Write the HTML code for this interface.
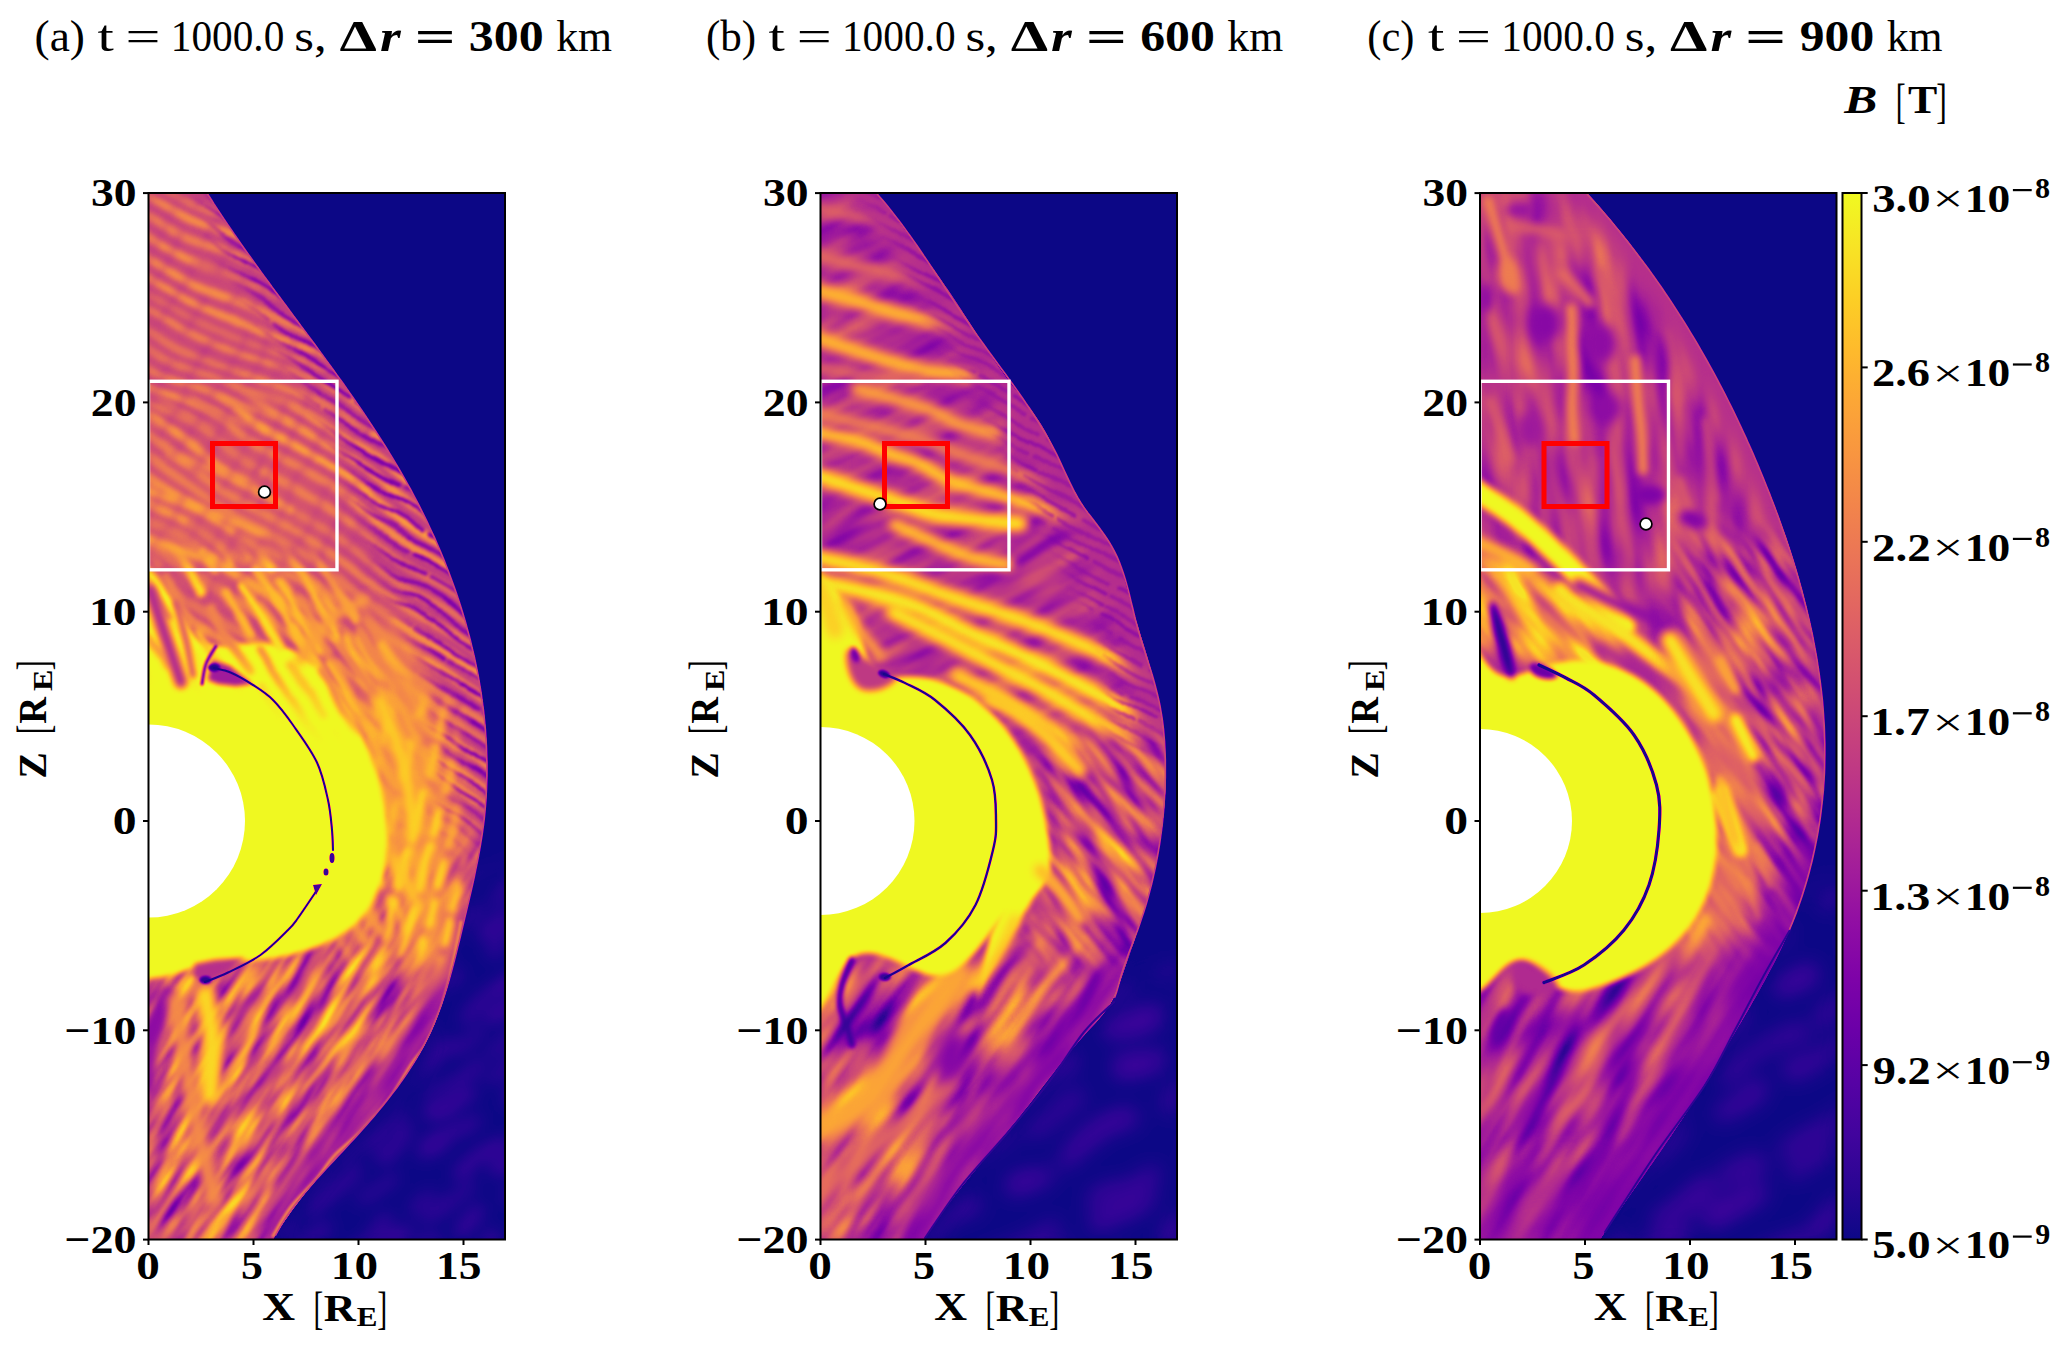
<!DOCTYPE html><html><head><meta charset="utf-8"><style>html,body{margin:0;padding:0;background:#fff;overflow:hidden}svg{display:block}text{font-family:"Liberation Serif",serif;fill:#000}</style></head><body>
<svg width="2067" height="1348" viewBox="0 0 2067 1348">
<defs>
<filter id="plasma" filterUnits="userSpaceOnUse" x="0" y="0" width="2067" height="1348" color-interpolation-filters="sRGB"><feComponentTransfer><feFuncR type="table" tableValues="0.050 0.164 0.255 0.338 0.418 0.495 0.563 0.631 0.693 0.748 0.798 0.840 0.881 0.918 0.949 0.973 0.988 0.995 0.989 0.968 0.940"/><feFuncG type="table" tableValues="0.030 0.020 0.014 0.006 0.001 0.012 0.052 0.108 0.165 0.223 0.280 0.334 0.393 0.454 0.518 0.586 0.652 0.729 0.810 0.895 0.975"/><feFuncB type="table" tableValues="0.528 0.577 0.615 0.643 0.658 0.658 0.642 0.608 0.565 0.517 0.470 0.427 0.383 0.340 0.296 0.252 0.211 0.172 0.145 0.147 0.131"/></feComponentTransfer></filter>
<filter id="wa0" filterUnits="userSpaceOnUse" x="0" y="0" width="2067" height="1348" color-interpolation-filters="sRGB"><feTurbulence type="fractalNoise" baseFrequency="0.02" numOctaves="2" seed="9" result="n"/><feDisplacementMap in="SourceGraphic" in2="n" scale="30" xChannelSelector="R" yChannelSelector="G"/><feGaussianBlur stdDeviation="8"/></filter>
<mask id="ra0" maskUnits="userSpaceOnUse" x="0" y="0" width="2067" height="1348"><path d="M470,880 520,860 520,1250 270,1250 330,1170 420,1080Z" fill="#fff" filter="url(#b10)"/></mask>
<filter id="wa7" filterUnits="userSpaceOnUse" x="0" y="0" width="2067" height="1348" color-interpolation-filters="sRGB"><feTurbulence type="fractalNoise" baseFrequency="0.008" numOctaves="2" seed="4" result="n"/><feDisplacementMap in="SourceGraphic" in2="n" scale="26" xChannelSelector="R" yChannelSelector="G"/><feGaussianBlur stdDeviation="2.6"/></filter>
<mask id="ra7" maskUnits="userSpaceOnUse" x="0" y="0" width="2067" height="1348"><path d="M140,185 510,185 510,420 140,420Z" fill="#fff" filter="url(#b14)"/></mask>
<filter id="wa8" filterUnits="userSpaceOnUse" x="0" y="0" width="2067" height="1348" color-interpolation-filters="sRGB"><feTurbulence type="fractalNoise" baseFrequency="0.008" numOctaves="2" seed="14" result="n"/><feDisplacementMap in="SourceGraphic" in2="n" scale="24" xChannelSelector="R" yChannelSelector="G"/><feGaussianBlur stdDeviation="2.6"/></filter>
<mask id="ra8" maskUnits="userSpaceOnUse" x="0" y="0" width="2067" height="1348"><path d="M140,400 510,400 510,835 140,835Z" fill="#fff" filter="url(#b14)"/></mask>
<filter id="wa13" filterUnits="userSpaceOnUse" x="0" y="0" width="2067" height="1348" color-interpolation-filters="sRGB"><feTurbulence type="fractalNoise" baseFrequency="0.015" numOctaves="2" seed="8" result="n"/><feDisplacementMap in="SourceGraphic" in2="n" scale="16" xChannelSelector="R" yChannelSelector="G"/><feGaussianBlur stdDeviation="1.4"/></filter>
<mask id="ra13" maskUnits="userSpaceOnUse" x="0" y="0" width="2067" height="1348"><path d="M200,185 510,185 510,930 440,930 430,700 330,420 230,260Z" fill="#fff" filter="url(#b10)"/></mask>
<filter id="wa14" filterUnits="userSpaceOnUse" x="0" y="0" width="2067" height="1348" color-interpolation-filters="sRGB"><feTurbulence type="fractalNoise" baseFrequency="0.015" numOctaves="2" seed="5" result="n"/><feDisplacementMap in="SourceGraphic" in2="n" scale="20" xChannelSelector="R" yChannelSelector="G"/><feGaussianBlur stdDeviation="3"/></filter>
<mask id="ra14" maskUnits="userSpaceOnUse" x="0" y="0" width="2067" height="1348"><path d="M140,185 380,185 380,640 140,640Z" fill="#fff" filter="url(#b25)"/></mask>
<filter id="na15" color-interpolation-filters="sRGB"><feTurbulence type="fractalNoise" baseFrequency="0.07 0.016" numOctaves="2" seed="3"/><feColorMatrix type="matrix" values="1.1 0 0 0 0.03 1.1 0 0 0 0.03 1.1 0 0 0 0.03 0 0 0 0 1"/></filter>
<mask id="ra15" maskUnits="userSpaceOnUse" x="0" y="0" width="2067" height="1348"><path d="M140,840 510,840 510,1250 140,1250Z" fill="#fff" filter="url(#b16)"/></mask>
<filter id="wa17" filterUnits="userSpaceOnUse" x="0" y="0" width="2067" height="1348" color-interpolation-filters="sRGB"><feTurbulence type="fractalNoise" baseFrequency="0.02" numOctaves="2" seed="11" result="n"/><feDisplacementMap in="SourceGraphic" in2="n" scale="16" xChannelSelector="R" yChannelSelector="G"/><feGaussianBlur stdDeviation="3"/></filter>
<mask id="ra17" maskUnits="userSpaceOnUse" x="0" y="0" width="2067" height="1348"><path d="M220,600 330,590 420,680 440,800 430,900 380,960 330,960 360,880 370,780 330,700 250,660Z" fill="#fff" filter="url(#b10)"/></mask>
<filter id="wa19" filterUnits="userSpaceOnUse" x="0" y="0" width="2067" height="1348" color-interpolation-filters="sRGB"><feTurbulence type="fractalNoise" baseFrequency="0.02" numOctaves="2" seed="62" result="n"/><feDisplacementMap in="SourceGraphic" in2="n" scale="10" xChannelSelector="R" yChannelSelector="G"/><feGaussianBlur stdDeviation="3"/></filter>
<mask id="ra19" maskUnits="userSpaceOnUse" x="0" y="0" width="2067" height="1348"><path d="M370,690 450,700 470,960 380,960Z" fill="#fff" filter="url(#b10)"/></mask>
<filter id="wa21" filterUnits="userSpaceOnUse" x="0" y="0" width="2067" height="1348" color-interpolation-filters="sRGB"><feTurbulence type="fractalNoise" baseFrequency="0.015" numOctaves="2" seed="52" result="n"/><feDisplacementMap in="SourceGraphic" in2="n" scale="14" xChannelSelector="R" yChannelSelector="G"/><feGaussianBlur stdDeviation="2.8"/></filter>
<mask id="ra21" maskUnits="userSpaceOnUse" x="0" y="0" width="2067" height="1348"><path d="M140,560 320,560 400,650 420,740 330,720 250,670 140,660Z" fill="#fff" filter="url(#b14)"/></mask>
<filter id="wb0" filterUnits="userSpaceOnUse" x="0" y="0" width="2067" height="1348" color-interpolation-filters="sRGB"><feTurbulence type="fractalNoise" baseFrequency="0.015" numOctaves="2" seed="19" result="n"/><feDisplacementMap in="SourceGraphic" in2="n" scale="30" xChannelSelector="R" yChannelSelector="G"/><feGaussianBlur stdDeviation="10"/></filter>
<mask id="rb0" maskUnits="userSpaceOnUse" x="0" y="0" width="2067" height="1348"><path d="M1120,980 1180,960 1180,1250 920,1250 1000,1140Z" fill="#fff" filter="url(#b12)"/></mask>
<filter id="nb2" color-interpolation-filters="sRGB"><feTurbulence type="fractalNoise" baseFrequency="0.012 0.05" numOctaves="2" seed="77"/><feColorMatrix type="matrix" values="0.5 0 0 0 0.15 0.5 0 0 0 0.15 0.5 0 0 0 0.15 0 0 0 0 1"/></filter>
<mask id="rb2" maskUnits="userSpaceOnUse" x="0" y="0" width="2067" height="1348"><path d="M812,185 1180,185 1180,980 812,980Z" fill="#fff" filter="url(#b20)"/></mask>
<filter id="wb18" filterUnits="userSpaceOnUse" x="0" y="0" width="2067" height="1348" color-interpolation-filters="sRGB"><feTurbulence type="fractalNoise" baseFrequency="0.02" numOctaves="2" seed="7" result="n"/><feDisplacementMap in="SourceGraphic" in2="n" scale="10" xChannelSelector="R" yChannelSelector="G"/><feGaussianBlur stdDeviation="1.2"/></filter>
<mask id="rb18" maskUnits="userSpaceOnUse" x="0" y="0" width="2067" height="1348"><path d="M860,185 1180,185 1180,1000 1090,1000 1120,820 1110,650 1000,430 900,250Z" fill="#fff" filter="url(#b8)"/></mask>
<filter id="nb19" color-interpolation-filters="sRGB"><feTurbulence type="fractalNoise" baseFrequency="0.06 0.015" numOctaves="2" seed="31"/><feColorMatrix type="matrix" values="1.175 0 0 0 -0.0725 1.175 0 0 0 -0.0725 1.175 0 0 0 -0.0725 0 0 0 0 1"/></filter>
<mask id="rb19" maskUnits="userSpaceOnUse" x="0" y="0" width="2067" height="1348"><path d="M1030,740 1180,740 1180,1000 1030,1000Z" fill="#fff" filter="url(#b15)"/></mask>
<filter id="nb20" color-interpolation-filters="sRGB"><feTurbulence type="fractalNoise" baseFrequency="0.045 0.012" numOctaves="2" seed="32"/><feColorMatrix type="matrix" values="1.375 0 0 0 -0.1625 1.375 0 0 0 -0.1625 1.375 0 0 0 -0.1625 0 0 0 0 1"/></filter>
<mask id="rb20" maskUnits="userSpaceOnUse" x="0" y="0" width="2067" height="1348"><path d="M812,960 1180,960 1180,1250 812,1250Z" fill="#fff" filter="url(#b18)"/></mask>
<filter id="wc0" filterUnits="userSpaceOnUse" x="0" y="0" width="2067" height="1348" color-interpolation-filters="sRGB"><feTurbulence type="fractalNoise" baseFrequency="0.012" numOctaves="2" seed="49" result="n"/><feDisplacementMap in="SourceGraphic" in2="n" scale="30" xChannelSelector="R" yChannelSelector="G"/><feGaussianBlur stdDeviation="10"/></filter>
<mask id="rc0" maskUnits="userSpaceOnUse" x="0" y="0" width="2067" height="1348"><path d="M1800,900 1840,880 1840,1250 1600,1250 1700,1080Z" fill="#fff" filter="url(#b12)"/></mask>
<filter id="nc4" color-interpolation-filters="sRGB"><feTurbulence type="fractalNoise" baseFrequency="0.035 0.01" numOctaves="2" seed="5"/><feColorMatrix type="matrix" values="0.65 0 0 0 0.105 0.65 0 0 0 0.105 0.65 0 0 0 0.105 0 0 0 0 1"/></filter>
<mask id="rc4" maskUnits="userSpaceOnUse" x="0" y="0" width="2067" height="1348"><path d="M1472,185 1840,185 1840,640 1472,640Z" fill="#fff" filter="url(#b20)"/></mask>
<filter id="nc26" color-interpolation-filters="sRGB"><feTurbulence type="fractalNoise" baseFrequency="0.05 0.015" numOctaves="2" seed="91"/><feColorMatrix type="matrix" values="1.075 0 0 0 0.2275 1.075 0 0 0 0.2275 1.075 0 0 0 0.2275 0 0 0 0 1"/></filter>
<mask id="rc26" maskUnits="userSpaceOnUse" x="0" y="0" width="2067" height="1348"><path d="M1472,560 1520,560 1560,590 1600,620 1620,660 1600,680 1550,665 1500,650 1472,640Z" fill="#fff" filter="url(#b8)"/></mask>
<filter id="nc34" color-interpolation-filters="sRGB"><feTurbulence type="fractalNoise" baseFrequency="0.06 0.015" numOctaves="2" seed="45"/><feColorMatrix type="matrix" values="1.125 0 0 0 -0.0875 1.125 0 0 0 -0.0875 1.125 0 0 0 -0.0875 0 0 0 0 1"/></filter>
<mask id="rc34" maskUnits="userSpaceOnUse" x="0" y="0" width="2067" height="1348"><path d="M1680,540 1840,540 1840,960 1680,960Z" fill="#fff" filter="url(#b14)"/></mask>
<filter id="nc45" color-interpolation-filters="sRGB"><feTurbulence type="fractalNoise" baseFrequency="0.04 0.01" numOctaves="2" seed="48"/><feColorMatrix type="matrix" values="0.95 0 0 0 -0.085 0.95 0 0 0 -0.085 0.95 0 0 0 -0.085 0 0 0 0 1"/></filter>
<mask id="rc45" maskUnits="userSpaceOnUse" x="0" y="0" width="2067" height="1348"><path d="M1472,960 1780,960 1780,1250 1472,1250Z" fill="#fff" filter="url(#b18)"/></mask>
<filter id="b0_4" filterUnits="userSpaceOnUse" x="0" y="0" width="2067" height="1348" color-interpolation-filters="sRGB"><feGaussianBlur stdDeviation="0.4"/></filter>
<filter id="b0_5" filterUnits="userSpaceOnUse" x="0" y="0" width="2067" height="1348" color-interpolation-filters="sRGB"><feGaussianBlur stdDeviation="0.5"/></filter>
<filter id="b0_6" filterUnits="userSpaceOnUse" x="0" y="0" width="2067" height="1348" color-interpolation-filters="sRGB"><feGaussianBlur stdDeviation="0.6"/></filter>
<filter id="b0_7" filterUnits="userSpaceOnUse" x="0" y="0" width="2067" height="1348" color-interpolation-filters="sRGB"><feGaussianBlur stdDeviation="0.7"/></filter>
<filter id="b1" filterUnits="userSpaceOnUse" x="0" y="0" width="2067" height="1348" color-interpolation-filters="sRGB"><feGaussianBlur stdDeviation="1"/></filter>
<filter id="b1_2" filterUnits="userSpaceOnUse" x="0" y="0" width="2067" height="1348" color-interpolation-filters="sRGB"><feGaussianBlur stdDeviation="1.2"/></filter>
<filter id="b2" filterUnits="userSpaceOnUse" x="0" y="0" width="2067" height="1348" color-interpolation-filters="sRGB"><feGaussianBlur stdDeviation="2"/></filter>
<filter id="b2_5" filterUnits="userSpaceOnUse" x="0" y="0" width="2067" height="1348" color-interpolation-filters="sRGB"><feGaussianBlur stdDeviation="2.5"/></filter>
<filter id="b3" filterUnits="userSpaceOnUse" x="0" y="0" width="2067" height="1348" color-interpolation-filters="sRGB"><feGaussianBlur stdDeviation="3"/></filter>
<filter id="b3_5" filterUnits="userSpaceOnUse" x="0" y="0" width="2067" height="1348" color-interpolation-filters="sRGB"><feGaussianBlur stdDeviation="3.5"/></filter>
<filter id="b4" filterUnits="userSpaceOnUse" x="0" y="0" width="2067" height="1348" color-interpolation-filters="sRGB"><feGaussianBlur stdDeviation="4"/></filter>
<filter id="b4_6" filterUnits="userSpaceOnUse" x="0" y="0" width="2067" height="1348" color-interpolation-filters="sRGB"><feGaussianBlur stdDeviation="4.6"/></filter>
<filter id="b5" filterUnits="userSpaceOnUse" x="0" y="0" width="2067" height="1348" color-interpolation-filters="sRGB"><feGaussianBlur stdDeviation="5"/></filter>
<filter id="b5_8" filterUnits="userSpaceOnUse" x="0" y="0" width="2067" height="1348" color-interpolation-filters="sRGB"><feGaussianBlur stdDeviation="5.8"/></filter>
<filter id="b6" filterUnits="userSpaceOnUse" x="0" y="0" width="2067" height="1348" color-interpolation-filters="sRGB"><feGaussianBlur stdDeviation="6"/></filter>
<filter id="b6_9" filterUnits="userSpaceOnUse" x="0" y="0" width="2067" height="1348" color-interpolation-filters="sRGB"><feGaussianBlur stdDeviation="6.9"/></filter>
<filter id="b8" filterUnits="userSpaceOnUse" x="0" y="0" width="2067" height="1348" color-interpolation-filters="sRGB"><feGaussianBlur stdDeviation="8"/></filter>
<filter id="b9" filterUnits="userSpaceOnUse" x="0" y="0" width="2067" height="1348" color-interpolation-filters="sRGB"><feGaussianBlur stdDeviation="9"/></filter>
<filter id="b10" filterUnits="userSpaceOnUse" x="0" y="0" width="2067" height="1348" color-interpolation-filters="sRGB"><feGaussianBlur stdDeviation="10"/></filter>
<filter id="b12" filterUnits="userSpaceOnUse" x="0" y="0" width="2067" height="1348" color-interpolation-filters="sRGB"><feGaussianBlur stdDeviation="12"/></filter>
<filter id="b14" filterUnits="userSpaceOnUse" x="0" y="0" width="2067" height="1348" color-interpolation-filters="sRGB"><feGaussianBlur stdDeviation="14"/></filter>
<filter id="b15" filterUnits="userSpaceOnUse" x="0" y="0" width="2067" height="1348" color-interpolation-filters="sRGB"><feGaussianBlur stdDeviation="15"/></filter>
<filter id="b16" filterUnits="userSpaceOnUse" x="0" y="0" width="2067" height="1348" color-interpolation-filters="sRGB"><feGaussianBlur stdDeviation="16"/></filter>
<filter id="b18" filterUnits="userSpaceOnUse" x="0" y="0" width="2067" height="1348" color-interpolation-filters="sRGB"><feGaussianBlur stdDeviation="18"/></filter>
<filter id="b20" filterUnits="userSpaceOnUse" x="0" y="0" width="2067" height="1348" color-interpolation-filters="sRGB"><feGaussianBlur stdDeviation="20"/></filter>
<filter id="b25" filterUnits="userSpaceOnUse" x="0" y="0" width="2067" height="1348" color-interpolation-filters="sRGB"><feGaussianBlur stdDeviation="25"/></filter>
<filter id="b30" filterUnits="userSpaceOnUse" x="0" y="0" width="2067" height="1348" color-interpolation-filters="sRGB"><feGaussianBlur stdDeviation="30"/></filter>
<linearGradient id="cbar" x1="0" y1="1" x2="0" y2="0">
<stop offset="0.00" stop-color="rgb(13,8,135)"/>
<stop offset="0.05" stop-color="rgb(42,5,147)"/>
<stop offset="0.10" stop-color="rgb(65,4,157)"/>
<stop offset="0.15" stop-color="rgb(86,2,164)"/>
<stop offset="0.20" stop-color="rgb(107,0,168)"/>
<stop offset="0.25" stop-color="rgb(126,3,168)"/>
<stop offset="0.30" stop-color="rgb(144,13,164)"/>
<stop offset="0.35" stop-color="rgb(161,28,155)"/>
<stop offset="0.40" stop-color="rgb(177,42,144)"/>
<stop offset="0.45" stop-color="rgb(191,57,132)"/>
<stop offset="0.50" stop-color="rgb(203,71,120)"/>
<stop offset="0.55" stop-color="rgb(214,85,109)"/>
<stop offset="0.60" stop-color="rgb(225,100,98)"/>
<stop offset="0.65" stop-color="rgb(234,116,87)"/>
<stop offset="0.70" stop-color="rgb(242,132,75)"/>
<stop offset="0.75" stop-color="rgb(248,149,64)"/>
<stop offset="0.80" stop-color="rgb(252,166,54)"/>
<stop offset="0.85" stop-color="rgb(254,186,44)"/>
<stop offset="0.90" stop-color="rgb(252,207,37)"/>
<stop offset="0.95" stop-color="rgb(247,228,37)"/>
<stop offset="1.00" stop-color="rgb(240,249,33)"/>
</linearGradient>
<clipPath id="clipa"><rect x="148.5" y="193" width="356.5" height="1046.5"/></clipPath>
<clipPath id="sha"><path d="M196.4,177 199.6,182.1 202.8,187.2 206,192.3 209.2,197.3 212.5,202.3 215.8,207.4 219.1,212.3 222.5,217.3 225.9,222.3 229.3,227.2 232.7,232.2 236.1,237.1 239.5,242 243,246.9 246.5,251.7 250,256.6 253.5,261.5 257,266.3 260.5,271.1 264,276 267.6,280.8 271.1,285.6 274.7,290.4 278.2,295.2 281.8,300 285.4,304.8 288.9,309.6 292.5,314.4 296.1,319.2 299.6,324 303.2,328.8 306.8,333.6 310.3,338.4 313.9,343.2 317.4,348 320.9,352.8 324.4,357.6 328,362.4 331.5,367.2 335,372.1 338.4,376.9 341.9,381.8 345.3,386.6 348.8,391.5 352.2,396.4 355.6,401.3 358.9,406.2 362.3,411.1 365.6,416.1 368.9,421 372.2,426 375.4,431 378.6,436 381.8,441 385,446 388.1,451.1 391.2,456.2 394.3,461.3 397.4,466.4 400.4,471.6 403.3,476.7 406.3,481.9 409.2,487.2 412,492.4 414.8,497.7 417.6,503 420.3,508.4 423,513.7 425.7,519.1 428.3,524.5 430.8,530 433.3,535.4 435.8,540.9 438.2,546.5 440.5,552 442.9,557.6 445.1,563.2 447.3,568.8 449.5,574.4 451.6,580.1 453.7,585.7 455.7,591.4 457.6,597.1 459.5,602.9 461.4,608.6 463.1,614.4 464.9,620.1 466.5,625.9 468.1,631.7 469.7,637.5 471.2,643.4 472.6,649.2 474,655.1 475.3,660.9 476.5,666.8 477.7,672.7 478.8,678.6 479.8,684.4 480.8,690.3 481.7,696.3 482.6,702.2 483.3,708.1 484,714 484.7,719.9 485.2,725.9 485.7,731.8 486.1,737.7 486.5,743.7 486.8,749.6 486.9,755.5 487.1,761.5 487.1,767.4 487.1,773.3 487,779.3 486.8,785.2 486.5,791.1 486.2,797 485.7,802.9 485.2,808.8 484.6,814.7 484,820.6 483.2,826.4 482.4,832.3 481.5,838.2 480.5,844 479.4,849.9 478.3,855.7 477.1,861.5 475.9,867.4 474.7,873.2 473.4,879 472.1,884.9 470.7,890.7 469.4,896.6 468,902.4 466.6,908.3 465.2,914.2 463.8,920.1 462.4,926 461.1,931.9 459.7,937.8 458.3,943.7 457,949.6 455.5,955.5 454.1,961.4 452.6,967.3 451.1,973.1 449.6,979 447.9,984.8 446.3,990.5 444.5,996.3 442.7,1001.9 440.8,1007.6 438.7,1013.2 436.6,1018.7 434.4,1024.2 432.1,1029.6 429.6,1034.9 427,1040.2 424.3,1045.4 421.5,1050.5 418.5,1055.6 415.5,1060.6 412.3,1065.5 409,1070.4 405.7,1075.3 402.3,1080.1 398.7,1084.8 395.2,1089.5 391.5,1094.2 387.8,1098.8 384,1103.4 380.2,1108 376.3,1112.6 372.4,1117.1 368.4,1121.6 364.4,1126.1 360.4,1130.5 356.4,1135 352.3,1139.5 348.3,1143.9 344.2,1148.4 340.2,1152.8 336.1,1157.3 332.1,1161.8 328.1,1166.3 324.1,1170.8 320.2,1175.3 316.3,1179.8 312.4,1184.4 308.6,1189 304.8,1193.6 301.1,1198.3 297.5,1203 293.9,1207.7 290.4,1212.5 287,1217.4 283.6,1222.2 280.4,1227.2 277.3,1232.2 274.2,1237.2 271.3,1242.4 268.5,1247.5 265.8,1252.8L140.5,1247.5 L140.5,185 Z"/></clipPath>
<clipPath id="clipb"><rect x="820.5" y="193" width="356.5" height="1046.5"/></clipPath>
<clipPath id="shb"><path d="M865.4,177.9 869,182.6 872.5,187.4 876.1,192.2 879.7,197 883.3,201.7 886.9,206.5 890.5,211.3 894.1,216.1 897.7,220.8 901.3,225.6 904.9,230.4 908.5,235.2 912,240 915.6,244.8 919.2,249.7 922.7,254.5 926.2,259.3 929.8,264.2 933.2,269 936.7,273.9 940.2,278.8 943.6,283.7 947,288.6 950.4,293.5 953.7,298.5 957,303.4 960.3,308.4 963.5,313.4 966.8,318.4 970,323.4 973.2,328.4 976.4,333.5 979.6,338.5 982.8,343.5 986,348.5 989.3,353.4 992.6,358.4 995.9,363.3 999.3,368.2 1002.8,373.1 1006.3,377.9 1009.9,382.7 1013.6,387.4 1017.3,392.2 1021,396.9 1024.7,401.6 1028.4,406.4 1032,411.2 1035.4,416.1 1038.8,421 1042,426.1 1045,431.2 1047.8,436.4 1050.6,441.7 1053.2,447 1055.8,452.4 1058.3,457.8 1060.8,463.3 1063.3,468.7 1065.8,474.1 1068.4,479.4 1071,484.8 1073.7,490 1076.6,495.2 1079.6,500.3 1082.8,505.3 1086.1,510.2 1089.6,515 1093.2,519.8 1096.8,524.5 1100.4,529.3 1103.9,534.1 1107.3,539 1110.4,544 1113.3,549.1 1115.9,554.4 1118.1,559.8 1120.1,565.4 1121.9,571.1 1123.6,576.9 1125.1,582.6 1126.7,588.5 1128.3,594.2 1129.9,600 1131.6,605.7 1133.3,611.5 1135.1,617.2 1136.8,622.9 1138.6,628.6 1140.3,634.3 1142.1,639.9 1143.8,645.6 1145.6,651.3 1147.3,657 1148.9,662.7 1150.5,668.4 1152.1,674.1 1153.6,679.9 1155,685.6 1156.4,691.4 1157.7,697.2 1158.9,703.1 1160,708.9 1161,714.8 1161.9,720.8 1162.7,726.7 1163.4,732.7 1164,738.6 1164.5,744.6 1164.9,750.6 1165.2,756.6 1165.5,762.6 1165.6,768.6 1165.6,774.6 1165.6,780.6 1165.4,786.6 1165.2,792.5 1164.8,798.5 1164.4,804.4 1163.9,810.4 1163.3,816.3 1162.6,822.2 1161.9,828.1 1161,834 1160.1,839.9 1159.1,845.8 1158.1,851.7 1157,857.5 1155.8,863.3 1154.5,869.2 1153.2,875 1151.8,880.8 1150.3,886.6 1148.8,892.4 1147.3,898.2 1145.7,903.9 1144,909.7 1142.3,915.4 1140.5,921.2 1138.7,926.9 1136.9,932.6 1135,938.3 1133.1,944 1131.1,949.6 1129.2,955.3 1127.2,960.9 1125.2,966.6 1123.3,972.2 1121.3,977.8 1119.3,983.4 1117.3,988.9 1115.1,994.3 1112.6,999.5 1109.8,1004.5 1106.6,1009.3 1103.1,1014 1099.3,1018.5 1095.4,1022.9 1091.4,1027.2 1087.4,1031.6 1083.4,1036 1079.5,1040.4 1075.6,1044.9 1071.8,1049.5 1068,1054.1 1064.3,1058.8 1060.6,1063.4 1056.9,1068.1 1053.3,1072.9 1049.7,1077.6 1046.1,1082.3 1042.4,1087.1 1038.8,1091.8 1035.2,1096.5 1031.6,1101.2 1027.9,1105.9 1024.2,1110.6 1020.5,1115.2 1016.8,1119.9 1013,1124.5 1009.3,1129.1 1005.5,1133.7 1001.7,1138.3 997.9,1142.9 994.1,1147.5 990.3,1152 986.5,1156.6 982.7,1161.2 978.8,1165.8 975,1170.4 971.2,1175 967.4,1179.7 963.6,1184.3 959.9,1189 956.2,1193.7 952.5,1198.5 948.9,1203.2 945.3,1208 941.7,1212.8 938.3,1217.7 934.8,1222.6 931.5,1227.6 928.2,1232.6 925,1237.6 921.9,1242.7 918.9,1247.9 915.9,1253.1 913.1,1258.4L812.5,1247.5 L812.5,185 Z"/></clipPath>
<clipPath id="clipc"><rect x="1480" y="193" width="356.5" height="1046.5"/></clipPath>
<clipPath id="shc"><path d="M1573.9,178.6 1578.1,183 1582.2,187.5 1586.3,192 1590.4,196.5 1594.4,201 1598.4,205.5 1602.3,210.1 1606.3,214.7 1610.1,219.3 1613.9,223.9 1617.7,228.6 1621.5,233.2 1625.2,237.9 1628.9,242.6 1632.5,247.4 1636.1,252.1 1639.7,256.9 1643.2,261.7 1646.7,266.5 1650.2,271.3 1653.6,276.2 1657,281 1660.4,285.9 1663.7,290.8 1667,295.8 1670.3,300.7 1673.5,305.7 1676.7,310.7 1679.9,315.7 1683,320.7 1686.1,325.8 1689.2,330.8 1692.2,335.9 1695.2,341 1698.2,346.1 1701.2,351.3 1704.1,356.4 1707,361.6 1709.9,366.8 1712.7,372 1715.5,377.2 1718.3,382.5 1721.1,387.7 1723.8,393 1726.5,398.3 1729.2,403.6 1731.9,409 1734.5,414.3 1737.1,419.7 1739.7,425.1 1742.2,430.5 1744.8,435.9 1747.3,441.3 1749.8,446.8 1752.2,452.3 1754.7,457.7 1757.1,463.2 1759.4,468.8 1761.8,474.3 1764.1,479.8 1766.4,485.4 1768.6,491 1770.9,496.6 1773.1,502.2 1775.2,507.8 1777.3,513.4 1779.4,519.1 1781.5,524.7 1783.5,530.4 1785.5,536.1 1787.4,541.8 1789.3,547.5 1791.1,553.2 1793,558.9 1794.7,564.6 1796.5,570.4 1798.1,576.1 1799.8,581.9 1801.4,587.7 1802.9,593.4 1804.4,599.2 1805.9,605 1807.3,610.8 1808.7,616.7 1810,622.5 1811.2,628.3 1812.5,634.2 1813.6,640 1814.7,645.9 1815.8,651.7 1816.8,657.6 1817.7,663.5 1818.6,669.3 1819.4,675.2 1820.2,681.1 1820.9,687 1821.5,692.9 1822.1,698.8 1822.7,704.7 1823.1,710.6 1823.5,716.5 1823.9,722.4 1824.1,728.4 1824.4,734.3 1824.5,740.2 1824.6,746.1 1824.6,752 1824.5,758 1824.4,763.9 1824.2,769.8 1824,775.8 1823.6,781.7 1823.2,787.6 1822.7,793.5 1822.2,799.5 1821.5,805.4 1820.8,811.3 1820.1,817.2 1819.2,823.2 1818.3,829.1 1817.3,835 1816.2,840.8 1815,846.7 1813.8,852.6 1812.5,858.4 1811.1,864.2 1809.7,870 1808.1,875.8 1806.5,881.6 1804.8,887.3 1803.1,893.1 1801.2,898.7 1799.3,904.4 1797.3,910 1795.2,915.6 1793.1,921.2 1790.8,926.7 1788.5,932.2 1786.1,937.7 1783.7,943.1 1781.1,948.5 1778.6,953.8 1775.9,959.2 1773.2,964.5 1770.4,969.8 1767.6,975 1764.8,980.3 1761.9,985.5 1759,990.7 1756.1,995.9 1753.1,1001.1 1750.2,1006.2 1747.2,1011.4 1744.2,1016.5 1741.2,1021.7 1738.1,1026.8 1735.1,1032 1732.1,1037.1 1729.1,1042.3 1726.1,1047.4 1723.1,1052.6 1720.1,1057.7 1717.1,1062.8 1714.1,1068 1711,1073.1 1708,1078.2 1704.9,1083.3 1701.8,1088.3 1698.6,1093.4 1695.5,1098.4 1692.3,1103.4 1689.1,1108.4 1685.8,1113.4 1682.6,1118.4 1679.3,1123.3 1676,1128.3 1672.7,1133.2 1669.4,1138.2 1666,1143.1 1662.7,1148 1659.3,1152.9 1655.9,1157.8 1652.5,1162.7 1649.1,1167.6 1645.7,1172.5 1642.3,1177.4 1638.9,1182.3 1635.5,1187.2 1632,1192.1 1628.6,1197 1625.2,1201.9 1621.9,1206.8 1618.5,1211.7 1615.1,1216.7 1611.8,1221.6 1608.5,1226.6 1605.2,1231.6 1601.9,1236.6 1598.6,1241.6 1595.4,1246.6 1592.2,1251.7 1589.1,1256.8L1472,1247.5 L1472,185 Z"/></clipPath>
</defs>
<g clip-path="url(#clipa)"><g filter="url(#plasma)">
<rect x="144.5" y="189" width="364.5" height="1054.5" fill="#000"/>
<g><g mask="url(#ra0)"><g filter="url(#wa0)"><path d="M36.8,1024 56.2,1010.4M67.5,1002.5 107.7,974.3M435.1,745.1 473.7,718.1M69.3,1024 109.5,995.8M123.9,985.8 144.3,971.5M331.6,840.3 380.5,806.1M459.4,750.9 511.7,714.3M471.8,771.9 507.6,746.8M97.5,1070.2 137.6,1042.1M463.7,813.8 498.5,789.4M94.1,1106.7 133,1079.4M386.5,901.9 408.9,886.2M499.6,822.7 537.1,796.5M129,1114.5 181,1078M357,954.8 377.9,940.2M430,903.7 485.2,865M494.3,858.7 546.5,822.1M368.2,988.2 413,956.9M421.9,950.6 477.2,911.8M278.3,1076.9 316.5,1050.2M395.7,994.8 445.6,959.8M414.2,1004.9 456.2,975.6M491.9,950.6 527.9,925.3M547.4,911.7 590.1,881.8M569.2,938.1 591.5,922.4M247.6,1188.1 296.7,1153.7M447.8,1047.9 472.9,1030.3M205.8,1251.1 246.1,1222.9M268.1,1207.5 322,1169.8M334.5,1161 357.1,1145.2M490.5,1051.8 526.2,1026.8M538.4,1018.3 557.3,1005M313.6,1202.3 355.1,1173.2M493.8,1076.1 520.3,1057.6M246.2,1322.1 271.7,1304.2M416.4,1202.9 433.6,1190.9M521,1129.6 563,1100.3M430,1215.8 468.4,1189M382.6,1282.3 400.8,1269.6M675.4,1077.3 692.6,1065.3M374.5,1323.8 417.5,1293.7M601.8,1164.6 632.2,1143.3M386.4,1338.4 405,1325.4M440.8,1300.3 492.8,1263.9M532.8,1235.9 573.7,1207.2M700,1118.8 756.2,1079.5" stroke="#121212" stroke-width="12" stroke-linecap="round" fill="none"/><path d="M122.9,963.7 142.8,949.7M153.3,942.4 173.4,928.3M361.7,796.5 413.2,760.4M197.8,934.1 236,907.3M259.4,890.9 313.6,853M414.3,782.5 434,768.6M146.9,999.4 169.5,983.6M280.5,905.8 320.4,877.9M339.7,864.4 370.4,842.9M172.7,1017.5 200.8,997.9M238,971.8 268.6,950.4M288.4,936.5 329.9,907.5M420.2,844.3 452.9,821.4M154.8,1064.2 185.9,1042.4M328.6,942.5 369.1,914.1M215.4,1054 247.8,1031.2M268.9,1016.5 305,991.2M144.9,1144.6 185.9,1115.8M198.2,1107.3 249.3,1071.4M313.9,1026.2 344.4,1004.9M146,1169.6 166.1,1155.5M191.3,1137.9 244.9,1100.3M480.1,935.6 504.6,918.4M162.6,1181.1 203.7,1152.3M226.6,1136.3 281.4,1098M363.7,1040.3 399.3,1015.4M303.2,1124.3 359.4,1084.9M494,990.7 534.5,962.3M488.9,1019.1 529.3,990.8M383.2,1153.6 407.7,1136.4M430.7,1120.3 469,1093.5M557.2,1031.7 612.2,993.2M251,1278.1 285.7,1253.8M514.1,1093.9 556.8,1064M569.7,1054.9 622.2,1018.1M637.6,1007.4 693,968.6M294,1288.6 331.5,1262.3M456.8,1174.6 502,1143M663.7,1029.7 684.3,1015.3M281.1,1320.1 328.4,1287M364.4,1261.7 408.5,1230.9M315,1329.7 354,1302.3M454.4,1232.1 478.2,1215.4M616.7,1118.4 666,1083.9M441.9,1276.6 492.5,1241.2M664.3,1120.8 686.4,1105.4M322.1,1383.5 364.1,1354M643.7,1158.2 660.3,1146.6" stroke="#1a1a1a" stroke-width="12" stroke-linecap="round" fill="none"/><path d="M183.6,921.2 223.1,893.6M252,873.3 292.2,845.2M319.3,826.2 351.9,803.3M154.5,964.4 173.3,951.2M76.5,1048.7 113.9,1022.5M191.5,968.2 247.3,929.1M397.6,823.8 432.7,799.3M340,900.4 387.8,866.9M225.4,1014.7 248,998.9M261.1,989.7 304.5,959.3M429.2,872 468.7,844.3M315.2,984 334.4,970.6M387.8,933.2 404.2,921.7M273.2,1054.7 302.4,1034.3M497.3,897.8 541.9,866.5M335.5,1036.9 361,1019M524.5,904.6 542,892.2M320.8,1070.3 352.2,1048.4M179.4,1211 203.9,1193.8M226.3,1178.1 268.8,1148.4M382.7,1068.6 429.6,1035.8M461.5,1013.4 484.9,997.1M199.9,1221.5 238.7,1194.3M326.2,1133 364.2,1106.4M386.6,1090.8 438.7,1054.3M555.4,972.6 605.9,937.2M365.9,1139 400.3,1114.9M428.4,1095.2 476.6,1061.5M582.5,987.4 621.6,960M208.6,1275.8 226.7,1263.1M251.5,1245.8 290.9,1218.2M297.9,1245.3 332.4,1221.1M362.6,1200 396.5,1176.2M426.6,1155.1 475.1,1121.2M353.5,1246.9 384.5,1225.2M602.6,1072.5 623.6,1057.8M495.3,1170.1 540.3,1138.6M557.7,1126.5 606.8,1092.1M628.9,1076.6 648.3,1063M677.2,1042.7 726.5,1008.3M274.3,1358.2 295.7,1343.2M416.8,1258.4 437.6,1243.8M507,1195.2 545.1,1168.5M562.8,1156.2 599.7,1130.3M290,1382.9 344.7,1344.6M532.4,1213.2 561.4,1192.9M591.5,1194.8 626.7,1170.1" stroke="#141414" stroke-width="12" stroke-linecap="round" fill="none"/></g></g></g>
<g clip-path="url(#sha)"><rect x="144.5" y="189" width="364.5" height="1054.5" fill="#787878"/></g>
<g filter="url(#b30)" clip-path="url(#sha)"><ellipse cx="230" cy="330" rx="120" ry="160" fill="#808080" transform="rotate(0 230 330)"/></g>
<g filter="url(#b30)" clip-path="url(#sha)"><ellipse cx="230" cy="520" rx="110" ry="90" fill="#8f8f8f" transform="rotate(0 230 520)"/></g>
<g filter="url(#b30)" clip-path="url(#sha)"><ellipse cx="260" cy="1140" rx="110" ry="110" fill="#999999" transform="rotate(0 260 1140)"/></g>
<g filter="url(#b10)" clip-path="url(#sha)"><path d="M225,205C237.5,222.5 274.2,274.2 300,310C325.8,345.8 356.7,381.7 380,420C403.3,458.3 424.2,500 440,540C455.8,580 467.5,620 475,660C482.5,700 485,743.3 485,780C485,816.7 480.8,850 475,880C469.2,910 454.2,946.7 450,960" fill="none" stroke="#757575" stroke-width="30" stroke-linecap="round" stroke-linejoin="round"/></g>
<g filter="url(#b10)" clip-path="url(#sha)"><path d="M462,925C458.3,937.5 450.3,975.8 440,1000C429.7,1024.2 416.7,1046.7 400,1070C383.3,1093.3 360,1113.3 340,1140C320,1166.7 290,1215 280,1230" fill="none" stroke="#525252" stroke-width="55" stroke-linecap="round" stroke-linejoin="round"/></g>
<g clip-path="url(#sha)"><g mask="url(#ra7)"><g filter="url(#wa7)"><path d="M201.9,0.5 358.1,70.1M365.1,73.2 561,160.4M178.5,8 428.3,119.2M159.5,15.6 368,108.4M390.6,141.1 540.2,207.7M548.9,211.6 827.8,335.8M308.5,121.9 478.9,197.8M157.7,74.4 421.9,192M255.2,153.3 519.8,271.1M248,205.6 394.1,270.7M123.6,185.9 391.8,305.3M86.4,208.3 200.3,259.1M82.7,227.5 233.5,294.7M479.8,404.3 682,494.3M68,239.6 323.4,353.3M325.5,354.2 553.6,455.8M53.6,342 324.4,462.6M18.2,363.2 286.3,482.6M311.9,513 483.8,589.5" stroke="#b8b8b8" stroke-width="8.5" stroke-linecap="round" fill="none"/><path d="M568.2,163.6 695,220.1M430.8,120.3 686.9,234.4M374.3,111.2 661,238.8M161.7,94.3 406.2,203.2M137.4,100.8 252.4,152M118.9,130.1 403.4,256.8M114.6,166.4 284.7,242.2M271.6,347.4 420,413.5M271.3,363.7 541.5,484M47.3,285.9 241.1,372.2M67.6,311.2 269.3,401M326.9,445 475.4,511.1M331.5,465.7 538.4,557.9M287.6,483.2 497.9,576.8M303.4,528.6 516.1,623.4" stroke="#a3a3a3" stroke-width="8.5" stroke-linecap="round" fill="none"/><path d="M177.8,46.4 388.5,140.2M163.8,57.5 307.4,121.4M414.7,243.1 587.1,319.9M122.9,149.9 242.8,203.3M398.5,272.7 573.3,350.5M525.6,349.5 781.2,463.2M487.3,366.9 715.3,468.4M203.5,260.5 458.6,374M82.9,263.4 270.4,346.9M422.8,414.8 689.3,533.4M272.3,402.4 541.1,522.1M294.5,467.1 464.8,542.9M11.6,398.7 295.2,525" stroke="#999999" stroke-width="8.5" stroke-linecap="round" fill="none"/><path d="M483.6,199.8 759.5,322.7M427.3,194.4 543.2,246.1M550,249.1 733.5,330.8M410.2,205 612.7,295.1M525.8,273.7 666.2,336.3M144.2,122.7 411,241.5M406.9,258.3 673.1,376.8M292.1,245.5 517.8,346M392,305.4 639.6,415.6M111.2,199.5 273.8,271.9M275.3,272.5 481.3,364.2M459.6,374.5 733.6,496.5M234.8,295.2 475.8,402.5M58.4,268.9 271.2,363.6M244.6,373.7 417.6,450.7M422.8,453.1 696.3,574.8M33.8,314.5 323.8,443.6M16,343.1 292.1,466M13.6,380.2 304.3,509.6" stroke="#adadad" stroke-width="8.5" stroke-linecap="round" fill="none"/></g></g></g>
<g clip-path="url(#sha)"><g mask="url(#ra8)"><g filter="url(#wa8)"><path d="M217.7,207.8 364,302.9M365.9,304.1 518.4,403.2M203.7,217.2 386.8,336.1M589.1,467.5 698.5,538.5M642.9,524.3 769.1,606.2M422.7,403 506.6,457.5M342.8,391.6 558.9,532M373.3,433.5 459.8,489.7M282.3,396.2 394.2,468.9M529,556.4 691.6,662M128.8,316.9 334.6,450.5M341.9,455.3 447,523.6M343,499.2 476.4,585.8M589.6,659.4 761.6,771.1M106,392.7 288.8,511.4M394.5,620.9 542.9,717.3M54,419.5 228.9,533.1M425.8,660.9 568.9,753.9M572.2,756 745.5,868.5M69.5,453.9 180.2,525.8M355,679.2 493.3,769M493.5,769.2 688.7,895.9M326.3,686.5 502,800.7M143,582.9 354,719.9M357.9,722.5 548.1,845.9M499.7,840.5 671,951.7M130.9,683.2 265.9,770.8M143.6,739.2 290.9,834.9M-80.1,634.2 37.4,710.5M250,848.6 389.4,939.1M394.8,942.6 594.6,1072.4M-65.8,665.7 133.1,794.8M234.2,883 412.6,998.9M257.9,917.1 433.8,1031.4" stroke="#bdbdbd" stroke-width="9" stroke-linecap="round" fill="none"/><path d="M519.4,403.8 643.9,484.7M649.4,488.2 852.7,620.3M393,340.2 588.5,467.1M477.9,417.2 635.8,519.7M171.5,239.9 269.9,303.8M278.4,309.3 414.1,397.5M616.7,529 753.9,618.1M299.5,345.2 512.7,483.7M514.1,484.6 692.8,600.7M463.8,492.2 662.3,621.2M157.9,315.5 281.6,395.7M596,620.3 736.4,711.5M512.9,588.4 620.3,658.2M621.6,659 769.7,755.2M224,421.9 341.3,498.1M264.9,471.7 351.6,528M504.3,651.4 651.7,747.1M85.8,400.4 285.5,530.1M291.8,534.2 427,622M433.1,625.9 527.8,687.4M87.3,421.4 230.3,514.3M458.7,706.7 656.4,835.1M223.2,593.6 348.6,675M39.2,500.1 138.5,564.6M510.3,806 628.5,882.8M128.2,599.1 331.1,730.9M12.6,546.1 220.5,681.1M222.7,682.5 427.3,815.3M0.2,554.4 151.8,652.8M318.8,761.3 406.5,818.3M223.2,723.6 373.2,821M377.5,843.3 488.4,915.3M186.3,739.8 403,880.4M407.9,883.7 584.5,998.3M18.6,676.3 207.1,798.7M207.4,798.9 312.2,866.9M44.5,715.1 246.2,846.2M-98.1,667.2 11.9,738.6M13.2,739.5 129.2,814.8M416.7,1001.5 592.5,1115.7" stroke="#adadad" stroke-width="9" stroke-linecap="round" fill="none"/><path d="M704.5,542.5 892.8,664.7M378.6,352.6 473.8,414.5M167.1,259.2 296.1,343M149.1,287.9 363.3,427M133.7,363.3 219.8,419.2M123.3,379.8 255.2,465.4M356.4,531.2 538.3,649.3M296.8,516.6 503.4,650.8M537.8,693.9 739.7,825M235.5,517.7 388.4,617M234.1,536.5 419.1,656.6M184.1,528.4 346.2,633.6M348.3,635 450.2,701.2M43.7,454.9 188.1,548.6M399,685.6 549.2,783.1M52.1,482.5 217.5,589.9M144.8,568.7 316.6,680.3M23.4,505.2 137.6,579.4M334.9,733.4 495.1,837.4M437.1,821.7 593,923M156.2,655.7 313.9,758.1M410.8,821.1 499.4,878.6M380.8,826 523.6,918.7M-25.1,581.8 127.7,681.1M268.9,772.8 371.8,839.6M-70.5,618.4 17.3,675.4M319.1,871.4 446.2,953.9M142.3,800.8 310.4,909.9M319.5,915.8 445.7,997.8M-94.1,688.6 100,814.6M101.1,815.3 252.9,913.9" stroke="#a3a3a3" stroke-width="9" stroke-linecap="round" fill="none"/><path d="M208.7,242.4 378.5,352.6M515.9,463.6 606.8,522.6M178.8,285.1 337.7,388.3M563.1,534.7 698.5,622.6M662.7,621.4 766.2,688.7M394.3,469 527.7,555.6M454,528 589.9,616.3M129.8,339.6 312.9,458.6M315.5,460.3 509.9,586.5M477.3,586.5 579.7,653M539.7,650.2 633.3,711M552.5,723.6 651.5,787.9M197.4,554.7 392.7,681.5M556.4,787.8 753.2,915.6M24.9,532.1 126.2,597.9M-4.3,575.9 213.7,717.4M-33.1,597.3 180.9,736.2M-50.4,613.2 140.9,737.4M294.3,837.1 499.1,970.1M448.6,955.5 599.4,1053.5M131.8,816.5 228.7,879.4" stroke="#c7c7c7" stroke-width="9" stroke-linecap="round" fill="none"/></g></g></g>
<g filter="url(#b3_5)" clip-path="url(#sha)"><path d="M145,490C152.5,492.5 175,499.7 190,505C205,510.3 222.5,517 235,522C247.5,527 260,532.8 265,535" fill="none" stroke="#cccccc" stroke-width="8" stroke-linecap="round" stroke-linejoin="round"/></g>
<g filter="url(#b3_5)" clip-path="url(#sha)"><path d="M145,538C151.7,540.3 173.3,548 185,552C196.7,556 210,560.3 215,562" fill="none" stroke="#d1d1d1" stroke-width="8" stroke-linecap="round" stroke-linejoin="round"/></g>
<g filter="url(#b3_5)" clip-path="url(#sha)"><path d="M170,455C177.5,457.5 201.7,465.5 215,470C228.3,474.5 244.2,480 250,482" fill="none" stroke="#bdbdbd" stroke-width="7" stroke-linecap="round" stroke-linejoin="round"/></g>
<g filter="url(#b3_5)" clip-path="url(#sha)"><path d="M250,560C256.7,562.5 278.3,570 290,575C301.7,580 315,587.5 320,590" fill="none" stroke="#bdbdbd" stroke-width="7" stroke-linecap="round" stroke-linejoin="round"/></g>
<g clip-path="url(#sha)"><g mask="url(#ra13)"><g filter="url(#wa13)"><path d="M171.2,-22.8 226.5,9.2M318.4,62.2 421.3,121.6M424.9,123.7 496.3,164.9M502,168.2 565.7,205M539.1,204.3 644.5,265.2M836.7,376.2 957.8,446M186,16.4 263.7,61.2M431.5,158.2 479.7,185.9M481.6,187 570.3,238.2M861.2,406.2 979.3,474.4M309,101.3 386.9,146.2M388.7,147.2 478.6,199.2M480.9,200.5 525,225.9M701.4,327.8 777.8,371.9M827.9,400.8 923.9,456.3M160.3,31.5 228.7,70.9M318.6,122.8 377.5,156.9M379.2,157.8 454.5,201.3M697.3,341.5 756.8,375.8M253.6,101.2 335.4,148.5M660,335.9 736.1,379.8M161.6,63.2 257,118.2M356,175.4 404,203.1M493.5,254.7 609,321.5M614.6,324.7 674.3,359.2M674.4,359.2 786,423.7M593.3,327.2 705.1,391.8M707.2,392.9 777.5,433.6M131.9,76 182.6,105.3M380.5,219.6 429,247.6M552.1,318.6 657.7,379.6M800.9,462.3 920.1,531.1M741.9,441.6 819.6,486.5M222.8,171.6 343.4,241.2M348.7,244.3 467.5,312.9M846,531.4 913.4,570.3M310.9,238.4 386.3,281.9M600.1,405.3 673.7,447.8M114.7,141 218.7,201M225.1,204.7 273.8,232.8M428.8,322.3 513,370.9M89.6,139.4 201.6,204M263.7,239.9 312.3,267.9M672.9,476.1 791.1,544.3M386.2,326.9 459.1,369M464.8,372.3 553.9,423.8M90.7,171.1 199,233.7M205.1,237.2 318.1,302.4M509.5,412.9 566.6,445.9M707.6,527.3 811.8,587.5M174.1,235.5 223,263.7M227.3,266.2 319.1,319.2M325.2,322.8 444.4,391.6M681.5,528.4 756.2,571.6M170.3,247.6 238.7,287.1M550.8,467.3 615.9,504.9M783.1,601.5 833.2,630.4M67.8,204.1 130.9,240.5M137.1,244 219.3,291.5M274.5,323.4 330.8,355.9M645.5,537.6 747.7,596.6M145.8,264.2 201.7,296.5M202.1,296.7 249.5,324.1M254.3,326.9 373.9,395.9M446.9,438.1 528.7,485.3M700.3,584.4 775.2,627.6M780.5,630.6 826.7,657.4M235,329.2 351.9,396.7M418,434.9 463.4,461.1M569,522.1 651.1,569.5M36.9,230.1 90.8,261.2M270.5,364.9 318,392.4M441,463.4 549.3,525.9M648.1,583 721.2,625.2M726.8,628.4 780.9,659.6M443.2,479.1 561.7,547.6M565.5,549.7 637.3,591.2M640.7,593.2 748.6,655.5M754.7,659 844.4,710.8M89.4,290.8 139,319.4M331.3,430.5 442.1,494.4M553.9,559 672,627.2M674,628.3 749.8,672.1M20.4,264.7 96.8,308.8M98.8,310 208,373M279.1,414.1 400.2,484M527.8,557.6 604.1,601.7M607.8,603.8 677.5,644.1M1,268.7 119.4,337M370,481.7 487.8,549.7M25.4,299.8 114,351M118,353.3 205.7,403.9M425.9,531 481.8,563.3M715.7,698.3 766.5,727.7M-3.5,297.8 53.6,330.7M127.8,373.6 238.7,437.6M244.8,441.1 341.4,496.9M554.4,619.9 659.4,680.5M154.4,403.7 224.7,444.3M413.4,553.2 487.3,595.9M490.4,597.7 574.6,646.3M575.3,646.7 626.4,676.2M518.9,629.5 595.6,673.8M141.8,426.8 252.5,490.7M441,599.5 510.2,639.5M105.4,421 197.2,474M630.9,724.4 674.3,749.5M-26.9,358 20.8,385.5M138.7,453.6 229.9,506.2M346.6,573.6 407,608.5M-52,360.2 61.5,425.7M67.6,429.2 140.9,471.5M249.5,534.2 299.4,563M506.7,682.7 558.3,712.5M242.5,543.4 340.7,600.1M341.8,600.8 445.8,660.8M525.2,706.7 582.8,739.9M636.1,770.7 703.3,809.5M6.3,423 109.5,482.6M175.4,520.7 289.7,586.7M290.4,587.1 362,628.4M459.6,684.8 558.1,741.7M564,745.1 645.6,792.1M348.7,634.7 412.3,671.4M23.7,462.9 96.8,505.1M101.5,507.8 182.4,554.5M472.1,721.7 567.8,777M541,777.6 646.1,838.3M70,520.2 162,573.3M214.2,603.4 270.5,635.9M390.2,705.1 505.4,771.5M-32.5,475 55.3,525.7M58.3,527.4 122.3,564.3M324.2,680.9 402.4,726.1M407.1,728.8 487.5,775.2M-86.5,475.1 -23.2,511.7M152.4,613.1 269.2,680.5M393.4,752.2 476.4,800.1M563.3,850.3 660.8,906.6M-95.7,483.7 14.1,547.1M255.3,686.3 311.6,718.8M0.6,555.4 110.7,619M113.1,620.4 234.1,690.3M537.1,865.2 591,896.3M595.3,898.8 705.3,962.3M251.5,713.6 345.9,768.1M223.2,713.7 317.9,768.4M567.4,912.4 639.4,954M177.9,701.3 258.7,747.9M261.5,749.5 312.5,779M499.6,887 597.9,943.8M71.9,656.7 186.4,722.8M-129.2,554 -16.2,619.2M-12.3,621.4 77.5,673.3M300.9,802.3 403.5,861.5M459.9,894.1 575.4,960.8M578.6,962.7 682.6,1022.7M80.2,689.7 198.1,757.8M311.3,823.1 387.8,867.3M389.9,868.5 500.7,932.4M571.2,973.1 635.7,1010.4M-62.9,622.3 37.2,680.1M124.3,730.4 243.7,799.4M-97.3,618.8 -28.4,658.5M54.4,706.3 140.3,755.9M145.9,759.1 219.2,801.5M221.6,802.9 329.4,865.1M389.2,899.6 490.3,958M491,958.4 585,1012.6M105.9,766.1 190.8,815.1M293.3,874.3 377.9,923.2M468.2,975.3 521.9,1006.3M-188,611.5 -86,670.4M-83.4,671.9 27.4,735.9M196.6,833.6 283.9,884M290.2,887.6 396.6,949M118.5,803.1 177.7,837.3M-177.4,646.6 -110.5,685.2M5.2,752 58.8,783M62.9,785.3 132,825.2M324.2,936.2 410.9,986.2M411.7,986.7 456.9,1012.8M458.6,1013.8 547.4,1065.1M-31,747.3 56.1,797.6M60,799.8 120.5,834.7M125.3,837.5 187.6,873.5M191.5,875.7 237.7,902.4M533.6,1073.2 578.6,1099.2M-193,667.5 -80.8,732.3M31.1,796.9 101.8,837.7M106.2,840.3 192.1,889.9M195.5,891.8 272.6,936.3M-200.8,679.2 -90,743.2M-86.3,745.3 -18.2,784.6M-89.3,758.2 19.7,821.2M25.1,824.3 136.3,888.5M262.1,961.1 330.1,1000.4M-241.5,685.4 -145.4,740.8M1.8,825.8 56.3,857.3M226.4,955.5 315.6,1007M431.5,1073.9 504.1,1115.8" stroke="#3d3d3d" stroke-width="4.5" stroke-linecap="round" fill="none"/><path d="M226.7,9.3 312.8,59M571.5,208.3 677.6,269.6M752.4,312.8 870.6,381.1M240.8,32.1 284.7,57.4M402.1,125.2 478.4,169.3M481.4,171 537.3,203.3M644.8,265.4 737,318.5M266.1,62.7 367.7,121.3M372.1,123.8 430.8,157.8M571.1,238.7 687.2,305.8M737.6,334.9 856.1,403.3M528.1,227.8 599.9,269.2M606.8,273.2 694.6,323.9M229.5,71.4 314.1,120.2M540,250.7 648.1,313.1M649.4,313.8 695.6,340.5M759.7,377.5 823.4,414.3M460.4,220.6 575.8,287.3M740.6,382.4 837.4,438.3M839.7,439.6 913.6,482.3M259.8,119.8 351.4,172.7M408.8,205.8 488.3,251.7M788.8,425.2 892.1,484.9M453,246.2 534.4,293.2M538.6,295.6 592.8,326.9M778.1,433.9 863.8,483.3M865.2,484.2 984.6,553.1M188.9,108.9 294.4,169.9M433.4,250.1 549.2,316.9M717.3,414 799.1,461.2M109.4,76.5 195.2,126M291.3,181.5 353.7,217.5M459.2,278.4 506.7,305.8M626.7,375.1 737.6,439.2M214.6,152.9 328.2,218.5M439,282.5 489.6,311.7M494.1,314.3 607.9,380M612.4,382.6 681.2,422.3M784.2,481.8 892.2,544.1M129.4,117.7 218.2,168.9M657.6,422.6 773.2,489.4M779.3,492.9 841.1,528.6M108.1,121.3 186.6,166.6M190.1,168.6 309,237.2M388,282.9 501.3,348.3M506.1,351.1 597.3,403.7M729.7,480.2 820.1,532.4M826.4,536 928.6,595M518.2,373.9 577.5,408.2M758.4,512.6 813.3,544.3M205,206 260.4,237.9M428.8,335.2 525.3,390.9M527.5,392.2 601,434.6M162.1,197.6 274.4,262.4M557.2,425.7 670.9,491.3M673,492.5 766.7,546.6M422.6,362.8 503,409.2M447.7,393.5 502.3,425M504.1,426 604.9,484.2M610.6,487.5 677.1,525.9M238.8,287.2 351.2,352.1M616.1,505 679.9,541.9M334.4,358 385.1,387.3M48.4,208 138.9,260.3M611.9,533.3 697.3,582.6M465.4,462.3 562.5,518.3M657.6,573.3 763.3,634.3M214.1,332.4 266.3,362.5M144.6,306.8 201.2,339.4M322.8,409.6 439,476.7M36,260 83.3,287.3M236,375.4 328.1,428.6M752.2,673.5 842.6,725.6M555.6,588.8 622.6,627.5M629.3,631.4 684.4,663.2M301.6,459.3 419.4,527.3M484,564.6 550.7,603.1M408.1,535.4 470.2,571.3M660.6,681.2 735.6,724.5M-6.2,311 80.6,361.1M229.9,447.3 317.9,498.1M629.6,678 730.4,736.2M70.1,370.4 185.2,436.9M303.4,505.1 423.5,574.5M-17.8,334.6 53.1,375.6M258.3,494.1 335.2,538.5M338.5,540.3 439.6,598.7M617.6,701.5 736.9,770.4M202.3,477 297.8,532.1M403,592.8 512.2,655.9M518.8,659.7 629.9,723.8M679.7,752.5 735,784.5M410.5,610.5 479.3,650.2M695.9,775.3 748.5,805.6M417,631 500.3,679M657,769.5 741.4,818.2M-40.2,380.3 53,434.1M125,475.6 237,540.3M-43.3,394.4 0.6,419.7M110.3,483.1 173.5,519.6M646.7,792.8 749.6,852.2M47.1,460.5 137.9,513M296,604.2 345.4,632.7M417.2,674.2 480.4,710.7M606.2,783.3 703.8,839.7M184.6,555.8 276.8,609M343.3,647.4 410.1,686M665.3,833.3 711.2,859.8M-60.2,430.5 -12.4,458.1M-12.1,458.3 88.1,516.1M93.7,519.4 156.4,555.6M158.9,557 247.2,608M252.3,610.9 306.4,642.1M651.6,841.4 708.9,874.6M168.8,577.2 212.3,602.3M271.2,636.4 386.4,702.8M579.5,814.3 693.2,880M-98.1,437.1 -34.8,473.6M123.9,565.3 175.2,594.9M247,636.3 320.6,678.8M489.5,776.4 560.1,817.1M-95.4,454.4 1.8,510.6M157.7,600.6 243.7,650.2M244.7,650.8 306.1,686.3M310.3,688.7 430.8,758.2M436.7,761.6 502.5,799.6M506,801.6 595.1,853.1M596.6,854 670.3,896.5M-21.8,512.5 29.4,542M81.8,572.3 149.9,611.6M273.3,682.9 321.4,710.6M322.5,711.3 392.8,751.9M480.2,802.3 559.9,848.3M19.9,550.4 138.1,618.7M313.1,719.7 434,789.5M571.9,869.1 661.9,921.1M435.5,806.5 536.4,864.8M-100.8,510.2 -4.3,565.9M-2.1,567.2 62.5,604.5M179,671.7 244.9,709.8M349.5,770.2 434.4,819.2M-112.9,519.7 -6.6,581M-1.2,584.2 47.4,612.2M388.7,809.2 487.5,866.3M-135.2,520.5 -33.9,579M442.4,854 498.7,886.5M-123.3,544 -13.1,607.6M-10.4,609.2 68.3,654.6M359.6,822.8 426,861.1M432.8,865.1 497.4,902.3M498.9,903.2 585.4,953.1M587.6,954.4 642,985.8M169.9,726.7 249.7,772.8M410.4,865.5 458.5,893.3M200.4,759.1 309.2,821.9M502.3,933.4 565.9,970.1M42.9,683.4 121.8,729M324.6,846 421.4,902M-154.2,585.9 -100.9,616.6M-24.2,660.9 51.9,704.9M334.4,868 385,897.2M-129.9,614.9 -20.1,678.3M-19.4,678.7 87.1,740.2M233.8,824.9 299.6,862.9M363.1,899.6 455.6,953M459.3,955.1 559.8,1013.1M561.7,1014.2 652.1,1066.4M-186.4,597.4 -75.5,661.4M14.8,713.5 99.3,762.3M194.1,817 287.3,870.8M523.4,1007.1 597.4,1049.9M27.8,736.1 97.3,776.2M100.7,778.2 195.4,832.9M509,1013.9 573.9,1051.4M-172,635.4 -90.3,682.6M305.3,911 352.4,938.2M-103.6,689.2 1.6,749.9M232.9,883.5 317.3,932.2M-198.3,650.7 -131.3,689.4M314.2,946.6 383.5,986.6M390.1,990.4 471.4,1037.3M473.2,1038.4 531,1071.7M-25.9,764 29.1,795.7M384.5,1001 493.9,1064.1M151.6,882.6 267.5,949.6M270.4,951.2 363.5,1005M366.1,1006.5 448.8,1054.3M-158.7,718.2 -94,755.5M137,888.9 255.5,957.3M440.9,1064.4 556.3,1131M-58.3,791.1 -3.8,822.6M116.4,892 226,955.2" stroke="#474747" stroke-width="4.5" stroke-linecap="round" fill="none"/><path d="M679,270.4 746.4,309.4M871.2,381.4 961.7,433.7M169.9,-8.9 235,28.7M288.6,59.7 400.7,124.4M740.5,320.6 834.4,374.8M690.4,307.6 737.1,334.5M159.5,14.9 253.6,69.3M258.3,72 307.7,100.5M778.6,372.4 826.7,400.2M456,202.2 533.9,247.1M823.7,414.5 939.4,481.2M154.2,43.9 248.4,98.3M338.4,150.2 454.2,217.1M577.8,288.4 657.9,334.6M140.7,65.9 199.7,99.9M203.9,102.4 311,164.2M316.4,167.3 396.4,213.5M399.4,215.3 448.9,243.8M298,171.9 375.1,216.4M660.2,381.1 716.2,413.4M200.6,129.1 290.7,181.2M356.2,218.9 459.2,278.4M510.4,308 624.6,373.9M821.4,487.5 911.2,539.4M117.4,96.8 213.3,152.2M329.5,219.3 434.7,280M687.3,425.8 777.6,478M468.7,313.6 549.3,360.1M550.9,361 655.5,421.4M674.8,448.5 723.4,476.5M280.3,236.6 336.4,268.9M341.1,271.7 427,321.3M578.1,408.5 642.5,445.7M644.5,446.8 757.2,511.9M819.9,548.1 931.7,612.7M313.4,268.6 426.1,333.6M607.8,438.5 672.8,476.1M791.6,544.7 844,574.9M78,149 158.4,195.4M281.3,266.4 379.7,323.2M770.9,549 817.1,575.7M818.6,576.5 907,627.6M322.6,305.1 420.4,361.5M570,447.9 655.9,497.4M660.8,500.3 707.1,527M60.5,169.9 168.3,232.1M759,573.2 878.3,642.1M60.6,184.3 165.4,244.8M353.5,353.4 467.7,419.3M474.1,423 549.3,466.5M684.6,544.6 777.9,598.4M223.7,294.1 267.7,319.4M387.2,388.5 474.7,439M475.7,439.6 577.2,498.2M583.1,501.6 640.3,534.6M752.4,599.3 816.2,636.2M378.5,398.6 442.2,435.4M534.2,488.5 608.1,531.1M41.4,217.5 152.1,281.4M156.8,284.1 230,326.4M358.8,400.7 416.5,434M764.5,634.9 885.3,704.7M95.9,264.2 211.2,330.7M321.3,394.3 440.5,463.1M553.5,528.3 643.5,580.3M39.2,245.9 140.2,304.2M207.6,343.1 316.1,405.8M144.4,322.5 234.8,374.7M446.6,497 549.2,556.2M213.7,376.3 272.7,410.4M406.4,487.6 524.2,555.6M681.8,646.6 764.9,694.6M126.1,340.9 209.7,389.2M212.1,390.5 277,428M281,430.3 369.6,481.4M488.1,549.9 552.6,587.1M688.2,665.4 750.8,701.5M207.5,405 296.6,456.4M555.6,605.9 640.5,654.9M642.5,656.1 714.5,697.7M60.3,334.6 127.8,373.6M342.9,497.8 405.4,533.8M476.8,575.1 553.8,619.5M82.9,362.4 153.5,403.2M320.3,499.5 408.3,550.3M-4.7,327.2 69.4,370M192,440.8 300.1,503.2M429.6,578 517.8,628.9M597.9,675.1 644,701.7M649.6,705 746.2,760.8M56.2,377.3 140.9,426.3M512.1,640.6 611.3,697.8M-13.6,352.3 102.1,419.1M301.9,534.4 399.3,590.7M21.1,385.6 73,415.6M77.5,418.2 138.3,453.3M231.2,507 341.1,570.4M483.2,652.5 571.5,703.5M576.8,706.5 691.5,772.7M145.8,474.4 193.1,501.7M195.7,503.2 244.5,531.4M304.4,565.9 412,628M558.6,712.7 651,766.1M57,436.3 121.1,473.4M450.6,663.6 524.3,706.1M586.7,742.2 635.6,770.4M367.1,631.3 457.2,683.4M-40.4,410 44.9,459.2M141.9,515.3 218.7,559.6M221.8,561.4 290.7,601.2M486.7,714.3 601.6,780.7M-66.6,410.8 23.6,462.8M280.5,611.1 338.7,644.7M412.4,687.3 471.8,721.6M573.2,780.1 659.5,830M313.2,646.1 416.3,705.6M421.3,708.5 538.4,776.1M-75,436.5 -26.8,464.3M-21.9,467.1 65.1,517.3M509.8,774.1 573.3,810.7M181.2,598.4 246.1,635.8M564.8,819.8 613.6,848M617.2,850.1 711.1,904.3M3.6,511.6 83.4,557.7M85.8,559 154.5,598.7M33.5,544.4 81.6,572.2M142.5,621.2 249.6,683M435.4,790.3 510.4,833.6M510.6,833.7 566.3,865.9M-102.5,496 -5.2,552.1M237.1,692 337.2,749.8M342.9,753.1 435,806.3M63.5,605.1 176.8,670.4M439,821.9 544,882.5M546.5,883.9 644.8,940.7M50.6,614 130.9,660.4M134.3,662.4 221.7,712.9M320.6,770 386.2,807.8M488.6,866.9 564.5,910.7M-33.1,579.5 77.6,643.4M82.6,646.3 177.4,701M316.4,781.3 436.9,850.8M599.9,945 704.3,1005.2M186.9,723.1 264.8,768.1M270,771.1 353.4,819.2M81.2,675.4 165.6,724.2M253.3,774.8 298.7,801M-134.3,565.8 -23.1,630M-21.6,630.9 77.6,688.2M-167.9,561.7 -66.5,620.3M248.7,802.3 322.5,844.9M423.7,903.3 501.1,947.9M505.2,950.3 617,1014.9M-180.6,585.7 -130.8,614.4M91.7,742.9 147.2,774.9M151.1,777.2 230.3,822.9M301.1,863.8 358.3,896.8M-73.8,662.3 9.3,710.3M380.2,924.5 461.7,971.5M401.3,951.8 505.5,1011.9M-85,685.6 7.1,738.8M11.7,741.5 117.3,802.4M180.1,838.7 298.9,907.3M358.6,941.8 443.1,990.5M449,994 533.3,1042.6M538.6,1045.7 597.4,1079.6M137.6,828.4 230.9,882.3M-124.6,693.2 -35,745M243,905.5 313.1,945.9M-80.6,732.4 -31,761.1M279,940.1 380.2,998.4M496.2,1065.4 600.8,1125.8M-16.9,785.4 41.4,819.1M41.7,819.2 151.5,882.6M450.2,1055 503.4,1085.8M509.8,1089.5 591.9,1136.9M-214.7,685.8 -160.4,717.2M334.7,1003 436.4,1061.7M-141.4,743.1 -64.4,787.6M56.7,857.5 110.2,888.4M320.9,1010 430.1,1073.1M505.9,1116.9 590.5,1165.7" stroke="#525252" stroke-width="4.5" stroke-linecap="round" fill="none"/></g></g></g>
<g clip-path="url(#sha)" opacity="0.3"><g mask="url(#ra14)"><g filter="url(#wa14)"><path d="M-86.8,533.1 -65.2,492.5M-1.1,372 24.6,323.6M-3.7,435.9 44.1,345.9M56.7,322.2 83.2,272.3M133.7,177.5 174.6,100.5M-22.1,577.6 11.7,514M29.6,480.3 75.2,394.6M-7.9,589.7 37.8,503.7M55.3,470.8 80.4,423.7M139.1,313.1 180.4,235.6M227.1,147.8 252.8,99.4M14.6,597.5 45.2,539.7M53.5,524.3 73,487.5M91.1,453.4 110.8,416.5M120.7,397.8 143.7,354.6M158.7,326.3 194.7,258.7M204.8,239.6 225,201.6M269.7,117.5 309.1,43.4M34.4,618.3 71.3,548.9M88.7,516.2 132.3,434.2M186.4,332.5 205.9,295.7M59,626.1 78.3,589.7M92.5,563.1 119.6,512.1M126.5,499 148.5,457.8M160.3,435.5 211.4,339.4M262.3,243.7 283.7,203.4M77.8,644.4 96.8,608.8M106.9,589.8 130.9,544.6M139,529.4 161.1,487.9M176.4,459.2 198.6,417.3M256.9,307.7 288.2,248.9M303.1,220.7 336.2,158.6M90.9,668.2 126.9,600.4M195,472.4 230.9,405M335.1,208.9 364,154.7M114.6,680.4 148.6,616.4M305.5,321.4 328.3,278.6M239.8,497.4 290.2,402.8M207.4,599.3 244.2,530.1M257.2,505.8 302.8,419.9M308.5,409.2 333.1,363M349.1,332.8 397.4,242M415,209 456.1,131.6M230,606.3 266,538.6M373,337.4 396.9,292.4M407.3,272.8 458.8,176M213.6,703.2 244.9,644.2M391.9,367.8 440.6,276.1M456.1,247.1 502.8,159.1M224.8,733.2 256.2,674.3M315.1,563.4 360.7,477.7M414.4,376.7 462.3,286.7M472.5,267.5 509.6,197.7M257.3,717.3 292.2,651.7M398.5,451.8 449.2,356.4M458.8,338.3 507.4,247M318.1,656.4 352,592.6M403.9,495.1 443.2,421.2M532.6,296.2 564.3,236.6M307.7,776.3 354.4,688.5M415,574.5 465,480.4M477,457.8 497.8,418.7M450.5,547.9 472.5,506.4M534.6,389.6 558,345.7M477.4,552.9 517.1,478.3M526.9,459.7 558.7,399.9" stroke="#5c5c5c" stroke-width="6" stroke-linecap="round" fill="none"/><path d="M-50.2,464.2 -9.4,387.5M37.5,299.3 61.5,254.2M75.2,228.5 120.4,143.5M132.7,120.3 166.1,57.5M-63.8,548.8 -14.4,455.9M90.4,258.8 114.9,212.7M-50.1,575.4 -14,507.6M1.8,477.9 32.2,420.7M39.2,407.6 82.7,325.6M96.7,299.5 123.6,248.7M141.4,215.4 176.6,149.1M190.6,122.8 224.3,59.3M92.2,362.6 131.3,289.1M140.3,272.1 190.6,177.6M199.7,160.5 225.3,112.4M85.9,413.3 126.1,337.6M195.7,206.8 218.9,163.1M231.8,188.8 251.8,151.2M143.7,412.8 169.9,363.6M217.9,273.2 262.4,189.6M274.3,167.1 297.8,122.9M230.1,304.2 256.5,254.5M297.2,178.1 342.3,93.3M210.6,394.7 244.7,330.7M144.6,567.2 185.2,490.9M244.2,380 272.5,326.8M281.5,309.8 329,220.4M153.4,607.5 172.9,570.7M190.8,537.1 212.1,497M219.5,483.1 257.1,412.4M271.8,384.7 295.2,340.7M334.7,266.5 373.7,193.1M153.3,660.2 172.9,623.4M188.5,593.9 231,513.9M306.1,372.8 333.7,320.8M348.5,292.9 391.2,212.6M167.9,673.6 194.3,624M178.3,703.6 219.1,626.8M272.9,525.7 324.1,429.4M330.1,418 365.9,350.8M255.2,624.9 275.7,586.3M286.1,566.7 328.2,487.5M342.8,460 377.2,395.5M265.3,657.1 301.3,589.5M371.1,458.2 397,409.5M297,642.6 338.1,565.4M346.3,549.8 383.7,479.5M271.3,744.5 301.1,688.5M365.4,567.5 395.6,510.7M448.7,410.9 483.9,344.7M498.1,318 522,273.1M298.3,737 334.7,668.4M347.4,644.6 372.9,596.7M384.6,574.7 407.8,531.1M413.5,520.2 459.4,434M468.8,416.3 518.7,322.4M370.3,658.6 409.7,584.4M504.1,406.9 549.8,321M566.5,289.4 592.3,240.9M329,776.4 362.3,713.8M373.5,692.7 396.6,649.1M415.3,614 441.2,565.4M483.8,485.2 527.3,403.4M566,330.6 611.3,245.4M358.9,775.7 406.6,686.1M421.7,657.6 465.2,575.9M567,384.3 615.4,293.3" stroke="#666666" stroke-width="6" stroke-linecap="round" fill="none"/></g></g></g>
<g clip-path="url(#sha)"><g mask="url(#ra15)"><g transform="rotate(34 326.8 716.2)"><rect x="-273.2" y="116.2" width="1200" height="1200" filter="url(#na15)"/></g></g></g>
<g filter="url(#b9)" clip-path="url(#sha)" opacity="0.8"><path d="M462,925C458.3,937.5 450.3,975.8 440,1000C429.7,1024.2 416.7,1046.7 400,1070C383.3,1093.3 360,1113.3 340,1140C320,1166.7 290,1215 280,1230" fill="none" stroke="#4c4c4c" stroke-width="40" stroke-linecap="round" stroke-linejoin="round"/></g>
<g clip-path="url(#sha)"><g mask="url(#ra17)"><g filter="url(#wa17)"><path d="M404.2,468.8 435.8,528.3M360.9,473.2 385,518.6M420.7,585.7 438.9,619.9M445,631.3 466.9,672.5M450.1,687.2 464.2,713.5M537.6,893.5 570,954.5M310.7,507.2 325.2,534.5M531.1,921.7 560.2,976.4M326.2,570.2 348.8,612.7M462.4,826.3 479.7,858.9M376.6,695.1 401.9,742.8M488,904.7 510.7,947.4M297.5,598 324.4,648.6M331.7,662.2 356.5,708.8M406.1,802.1 434.2,854.9M476.7,934.9 497.7,974.5M454.3,930.8 484.3,987.3M259.2,602.8 281.8,645.2M314,705.8 342.9,760.2M212.8,566.9 231.4,601.9M240.1,618.3 258.7,653.3M294.4,720.5 316.3,761.6M359.4,892.4 381.2,933.3M168.5,566.2 195.2,616.4M230.4,682.6 256.5,731.8M260.4,739.1 272.2,761.3M279.9,775.8 311,834.3M341.1,891 367.4,940.4M279.6,829.1 301.5,870.2M314.3,894.2 346.5,954.9M129.4,591.7 157.9,645.2M203.9,731.8 236.7,793.5M155.9,667.3 181.6,715.6M184.8,721.7 197.8,746M201.5,753 221.6,791M315.9,968.2 333.8,1001.9M343.6,1020.3 366,1062.5M179.9,752.5 206.7,802.9M240.3,866.1 254.7,893.1M290.3,960.1 308.9,995.1M94,642.9 122.5,696.5M126.2,703.5 158.5,764.2M166.6,779.5 182.8,810M217.5,875.1 248.9,934.2M62.2,636.6 84.9,679.2M193.4,883.3 215.1,924M132.5,796.6 158.8,846M252.9,1023.2 279.8,1073.7M89,760.6 116.2,811.7M162.4,898.6 194,958.1M233,1031.4 246,1055.9M253.2,1069.4 265.9,1093.2" stroke="#bfbfbf" stroke-width="9" stroke-linecap="round" fill="none"/><path d="M445.8,547.1 468.7,590.2M510.1,668.1 524.2,694.6M584.8,808.5 600.4,837.8M556.9,781.6 587.5,839.2M395.3,538 414.2,573.5M501.9,738.4 521.2,774.7M523.8,779.5 552.2,832.9M558.9,845.6 588.4,901.1M368.1,532.9 399.7,592.4M408.1,608.1 438.7,665.6M475.7,735.2 495.2,771.9M534.5,845.8 557,888.2M324.6,492.9 347.9,536.6M386.2,608.7 413.1,659.4M445.6,720.5 470.1,766.4M472.8,771.5 500.2,823M512.2,845.7 533.6,885.9M334.2,551.3 348.7,578.7M451.2,771.4 472.6,811.5M483,831.2 501.4,865.9M361.3,636.3 380.7,672.7M391.2,692.5 417,740.9M423.6,753.4 450.2,803.4M490.4,879.1 522.4,939.2M285.8,524.4 309.1,568.2M315.3,579.8 332.8,612.8M344.7,635.2 370.1,683M448.2,829.8 474.5,879.2M257.3,522.3 287,578.3M364.9,724.6 396.4,783.9M252.1,550.4 279,601.1M311.7,662.6 343.9,723.1M348.5,731.8 361,755.3M402.5,833.3 419.2,864.9M421.6,869.3 441.9,907.5M419.9,905 444.5,951.2M364.5,852.3 381.7,884.7M389.9,900 410.4,938.6M423.9,963.9 442.1,998.2M218,626.5 246.3,679.6M248.8,684.3 271.8,727.5M332.2,841.1 349.9,874.6M201,627.4 223.9,670.5M319.8,850.8 331.8,873.4M377.4,959.1 407.3,1015.3M156.6,597.7 187.3,655.5M223.1,722.7 243.9,762M253.9,780.7 275.6,821.5M171.3,670.4 190,705.7M300.1,912.8 314.7,940.2M225.6,798.3 246.4,837.6M256.8,857.1 278.9,898.6M101.9,605.9 118.6,637.3M154.1,704 175.4,744.1M262.3,907.6 282.3,945.1M286,1004.1 305.3,1040.4M140.5,783.8 156.4,813.6M169.2,837.7 191.1,878.9M228.2,948.8 246.8,983.7M268.5,1024.5 298.6,1081.1M47.3,636.4 62.4,664.9M91.5,719.6 119.1,771.5M199.9,923.4 225.7,972M25,640.3 57.3,701.1M67.7,720.5 83.3,749.9M203.5,975.9 230.6,1026.9" stroke="#e6e6e6" stroke-width="9" stroke-linecap="round" fill="none"/><path d="M480.2,611.8 497.2,643.8M536.8,718.2 556.6,755.4M565.6,772.5 577.7,795.1M604.6,845.8 633.2,899.5M387.9,464 420.2,524.7M425,533.7 441.3,564.3M453.9,588 471.7,621.6M480.4,637.9 506.5,686.9M511,695.3 543.2,755.9M590.1,844.1 610.6,882.7M471.3,680.8 488.4,713.1M338.9,478 354.8,507.9M497.9,777.1 529.7,836.7M358.3,556.2 376.5,590.4M427.2,685.8 442.3,714.3M352.3,585.5 373.3,624.8M376.3,630.5 396.9,669.3M404.6,683.7 437.4,745.5M507.2,876.7 527.5,914.8M299.2,519.4 318.1,554.9M415.3,767.9 435.6,806.2M439.7,865.3 472.5,927M292.8,627.1 308.1,655.8M367.5,767.5 393.2,815.9M228.7,545.4 253.4,591.9M287.6,656.1 306.7,692.2M351.6,776.5 373.2,817.2M382.5,834.7 406.2,879.2M265.5,666 286.3,705.2M323.1,774.4 355.2,834.7M180.2,555.3 212.2,615.6M277,737.3 298.7,778.3M303.9,788.1 321.3,820.8M393.7,956.8 424,1013.9M199.4,678.2 212.6,702.9M350.7,962.7 374.8,1008.1M244.8,808.7 259.1,835.6M264,844.9 289.4,892.6M325.3,960.2 346.3,999.6M122.2,603.9 147.1,650.7M292.3,923.8 311.9,960.7M127,653.1 141.6,680.5M213,814.8 236.9,859.7M311.5,1000.1 338.6,1051M192.5,828.2 211.7,864.3M255.3,946.3 275.2,983.7M98.9,705.6 115.2,736.2M122.2,749.3 136,775.3M250.3,990.3 265.3,1018.6M72.7,684.2 85.1,707.6M166.5,860.5 196.1,916.3M233.4,986.4 250.2,1018M124,826.5 152.1,879.4" stroke="#d9d9d9" stroke-width="9" stroke-linecap="round" fill="none"/></g></g></g>
<g filter="url(#b16)" clip-path="url(#sha)" opacity="0.8"><ellipse cx="410" cy="800" rx="40" ry="190" fill="#c2c2c2" transform="rotate(-8 410 800)"/></g>
<g clip-path="url(#sha)"><g mask="url(#ra19)"><g filter="url(#wa19)"><path d="M241.3,954.9 249,926.3M255.7,901.1 261.1,880.9M265.6,864.3 273.9,833.3M323.2,649.4 331.5,618.4M260.8,948.2 268.5,919.7M291.7,833 301.6,795.9M317.9,735.1 326.8,701.8M282.1,949 290,919.4M292.8,909.1 301.7,875.7M320.3,806.6 326.2,784.3M332.2,762.1 342.2,724.5M308.9,961.9 320.6,918.3M354.8,790.8 360.1,770.8M364,756.5 370.8,731.2M375.5,713.6 384.4,680.2M314.2,989.9 323,957.3M330.2,930.3 342.8,883.3M370.2,781.1 376,759.6M380.8,741.6 389.4,709.6M350.9,973.9 361.2,935.5M373.8,888.2 381.7,858.9M388.8,832.2 396.5,803.6M403.9,775.8 412.8,742.9M420.2,715.1 429.7,679.5M371.6,987.3 381.7,949.7M429.1,772.5 436.4,745.4M439.5,733.8 449.9,695M453,683.4 461.1,653.1M386.6,1008.3 395.3,975.8M445,790.4 452.3,763M456.4,747.8 461.8,727.6M465.5,713.8 474.4,680.6M401.6,1020.7 408.1,996.5M448.7,845.2 458.6,808M484,713.5 496.8,665.8M465.7,863.6 471.6,841.8M487.2,931.4 495.9,898.6M503.3,870.9 513.5,833.1M533.1,759.9 539.8,734.8M544.9,715.8 551.8,690.1M483.1,1036.5 493.1,999.2M497,984.7 504.1,958.1M509.2,939.1 518.2,905.4M524.4,882.3 530.5,859.5M536.4,837.8 548.3,793.4M538.1,925.7 547.7,889.8M555.4,860.8 564.8,825.7M571.1,802.2 581.8,762.4M589.6,733.4 595.1,712.7" stroke="#d9d9d9" stroke-width="9" stroke-linecap="round" fill="none"/><path d="M281.5,804.8 289.3,775.8M296.5,748.9 307,709.6M311.4,693.4 319.9,661.5M275,895.3 285.1,857.8M306.3,778.3 312.5,755.2M329.9,690.5 337.5,662.2M273.2,982 278.9,960.8M308.9,848.8 315.6,823.8M345,714.3 356.8,670.1M328.1,890.4 333.9,868.9M340.1,845.5 351.6,802.8M345.9,871.9 355.7,835.2M359,822.8 365,800.4M396,684.8 406.8,644.5M364.8,922 371,898.8M385.2,936.5 394.8,900.4M398.7,885.9 408.4,849.7M411.8,837.2 424,791.7M401.2,953.6 412.7,910.7M417.7,892 430.1,845.7M433.7,832.4 439.6,810.4M413.7,975.6 422.3,943.5M426.6,927.8 433,903.9M437.3,887.7 444.2,862.1M465.1,784 476.5,741.3M431.8,990.3 439.6,961.2M444.2,943.8 450.1,921.9M453.1,910.8 459.8,885.5M474.3,831.6 481,806.4M487,784.1 495.7,751.6M503.2,723.6 512.8,687.9M458.4,1001.7 467.9,966M474.8,940.4 486,898.6M492.2,875.5 502,838.9M506.1,823.4 512.4,800.2M516.6,784.6 522.1,763.8M528.7,739.3 533.9,720M539.2,700.1 545.9,675M460,1032.6 465.4,1012.5M472.6,985.6 482.9,947.3M519,812.7 525.9,786.8M555.3,767.2 567.3,722.4M512.3,1021.6 519.7,994.1M525,974.3 534.3,939.5" stroke="#ebebeb" stroke-width="9" stroke-linecap="round" fill="none"/></g></g></g>
<g filter="url(#b2_5)"><path d="M141,562.5 144.8,565.2 148.6,568.5 152.5,572.2 156.3,576.4 160.2,581 164,585.9 167.7,591.1 171.3,596.5 174.8,602.1 178.2,607.8 181.4,613.5 184.5,619.2 187.6,624.7 190.8,629.9 194.2,634.5 197.9,638.4 202.1,641.4 206.8,643.5 212,644.8 217.5,645.4 223.3,645.5 229.4,645.3 235.6,644.7 241.9,644.1 248.3,643.5 254.6,643.1 260.7,643 266.7,643.3 272.5,644 278.1,645.2 283.5,646.8 288.7,648.8 293.8,651.1 298.7,653.8 303.4,656.8 308,660.1 312.4,663.7 316.6,667.6 320.7,671.7 324.7,676 328.5,680.5 332.2,685.2 335.8,690.1 339.3,695.1 342.6,700.2 345.8,705.4 348.9,710.7 351.9,716.1 354.8,721.5 357.6,726.9 360.4,732.3 363,737.8 365.5,743.3 367.9,748.7 370.2,754.3 372.3,759.8 374.3,765.4 376.3,771 378,776.6 379.7,782.3 381.2,788 382.5,793.7 383.7,799.5 384.7,805.3 385.6,811.2 386.3,817.1 386.9,823 387.2,829 387.4,835 387.4,841 387.2,847 386.8,853 386.2,858.9 385.3,864.8 384.2,870.6 382.9,876.3 381.3,881.9 379.5,887.4 377.4,892.8 375,898 372.4,903.1 369.5,908 366.2,912.7 362.7,917.1 358.8,921.4 354.7,925.4 350.2,929.1 345.4,932.7 340.4,935.9 335.2,939 329.7,941.8 324.1,944.4 318.3,946.8 312.4,948.9 306.4,950.9 300.3,952.7 294.3,954.3 288.2,955.7 282.1,957 276.1,958.1 270.2,959 264.3,959.8 258.6,960.4 252.8,961 247.1,961.6 241.5,962.1 235.9,962.6 230.2,963.1 224.6,963.7 218.9,964.4 213.2,965.2 207.5,966.1 201.6,967.2 195.7,968.5 189.7,970 183.7,971.8 177.5,973.6 171.4,975.3 165.4,976.7 159.5,977.8 153.8,978.3 148.3,978.3 143,977.8 137.8,976.7 132.9,975.1 128.1,973.1 123.5,970.6 119.1,967.6 114.8,964.2 110.8,960.4 106.9,956.1 103.2,951.5 99.6,946.5 96.3,941.1 93.1,935.4 90,929.4 87.1,923.1 84.4,916.4 81.9,909.5 79.5,902.3 77.3,894.9 75.2,887.3 73.3,879.4 71.5,871.3 69.9,863.1 68.4,854.7 67.1,846.1 65.9,837.4 64.9,828.5 64,819.6 63.3,810.6 62.7,801.5 62.2,792.3 61.9,783.1 61.7,773.9 61.6,764.7 61.7,755.4 61.9,746.2 62.2,737 62.7,727.9 63.3,718.9 64,709.9 64.8,701 65.7,692.3 66.8,683.7 68,675.2 69.2,666.9 70.6,658.8 72.2,650.9 73.8,643.2 75.5,635.7 77.3,628.4 79.3,621.4 81.3,614.7 83.5,608.3 85.7,602.2 88,596.4 90.5,590.9 93,585.8 95.6,581.1 98.3,576.8 101.1,572.8 104,569.3 107,566.2 110,563.5 113.1,561.4 116.4,559.7 119.7,558.5 123,557.8 126.5,557.6 130,558 133.6,558.9 137.3,560.4 141,562.5Z" fill="#ffffff"/></g>
<g clip-path="url(#sha)"><g mask="url(#ra21)"><g filter="url(#wa21)"><path d="M324.4,390.7 380.4,480.4M304.9,397.5 355.6,478.7M392.7,538 442.6,617.8M354.9,516.2 378.6,554.2M223.9,451.8 270.3,526.1M406.6,744.2 445.7,806.8M230.3,505.5 269.4,568M385.9,754.4 427.3,820.8M183.1,490.3 230.1,565.4M242.7,585.6 280.5,646.1M334.7,732.9 369.8,789.1M144,502.6 200.8,593.5M333.3,805.6 385.3,888.7M315,816.9 359.6,888.2M172.6,621.1 229.6,712.4M99.8,539 144.1,609.9M155.2,627.7 184.6,674.8M169.5,678.1 196.4,721.2M203.5,773.2 254.7,855.2M262,866.8 297.2,923.2M111.9,670.9 170.9,765.2M212.5,831.8 273.6,929.7M161.3,785.7 223.8,885.7" stroke="#f2f2f2" stroke-width="8" stroke-linecap="round" fill="none"/><path d="M391.9,498.7 423.9,550M367.3,497.4 389.7,533.3M448.9,628 482.8,682.2M295.4,421 352.1,511.7M450,668.5 494.5,739.7M273.7,431 333.5,526.7M407.8,645.6 454,719.5M461.9,732.1 505,801.3M264.7,450.7 319.2,537.9M384,641.5 439.5,730.3M295.7,522.7 354.8,617.4M278.8,539.7 337.6,633.8M278,581.7 320.4,649.6M329.2,663.7 375.5,737.8M199.6,477.5 249.9,558M256.8,569 314.3,661.1M371.5,752.7 406.7,808.9M291.7,664 323.9,715.7M152,476.3 212.5,573.2M225.3,593.6 249.5,632.4M322.5,749.2 378.7,839.1M199.5,632 238.4,694.3M251,714.5 308.1,805.8M242.6,733.3 298.6,822.8M303.6,830.9 359,919.5M251.2,781.4 292.4,847.3M73.4,524.3 129.8,614.6M199.7,726.4 251.8,809.8M70.6,560.5 118.7,637.5M124.8,647.3 171,721.2M175.4,728.2 197.4,763.4M41.9,558.9 104.1,658.3M180.7,781 203,816.7" stroke="#dbdbdb" stroke-width="8" stroke-linecap="round" fill="none"/><path d="M432.4,563.6 473.2,628.9M481.7,642.5 529.5,719.1M493.8,699.8 554.3,796.6M390,572.5 446.2,662.4M337.4,532.9 396.9,628.1M331.8,558 380.3,635.6M451.9,750.2 508.3,840.5M242.7,437.9 288.7,511.6M359.8,625.4 411.9,708.8M419.7,721.2 475.3,810.2M342.9,642.3 397.2,729.1M204.4,463.9 226,498.6M320.3,670.7 358.6,731.9M259.9,649 318.4,742.6M210.5,609 250.2,672.5M261.3,690.4 320.7,785.5M128.5,518.4 156.5,563.2M164.2,575.5 191.1,618.6M111.8,523.8 169.2,615.8M188.4,680.9 247.6,775.6M135.6,623.9 163.7,668.8M255.3,815.4 308.8,901M33.1,580.6 86.5,666M93.7,677.6 149.1,766.3" stroke="#b2b2b2" stroke-width="8" stroke-linecap="round" fill="none"/></g></g></g>
<g filter="url(#b4)"><path d="M380,700C383.7,710 396.2,738.3 402,760C407.8,781.7 412.8,818.3 415,830" fill="none" stroke="#e6e6e6" stroke-width="12" stroke-linecap="round" stroke-linejoin="round"/></g>
<g filter="url(#b4)"><path d="M395,860C398.8,867.5 414.2,897.5 418,905" fill="none" stroke="#e0e0e0" stroke-width="10" stroke-linecap="round" stroke-linejoin="round"/></g>
<g filter="url(#b4)"><path d="M300,660C305,653.3 319.2,630 330,620C340.8,610 359.2,603.3 365,600" fill="none" stroke="#c7c7c7" stroke-width="10" stroke-linecap="round" stroke-linejoin="round"/></g>
<g filter="url(#b3)"><path d="M150,590C152.5,597.5 159.8,619.7 165,635C170.2,650.3 178.3,674.2 181,682" fill="none" stroke="#666666" stroke-width="12" stroke-linecap="round" stroke-linejoin="round"/></g>
<g filter="url(#b2_5)"><path d="M176,603C177.7,609.2 183.2,628 186,640C188.8,652 191.8,669.2 193,675" fill="none" stroke="#8c8c8c" stroke-width="6" stroke-linecap="round" stroke-linejoin="round"/></g>
<g filter="url(#b2)"><path d="M212,660 230,666 252,684 236,686 218,684 208,680Z" fill="#595959"/></g>
<g filter="url(#b1)"><path d="M216,646C214.3,649 208.3,657.7 206,664C203.7,670.3 202.7,680.7 202,684" fill="none" stroke="#1f1f1f" stroke-width="3" stroke-linecap="round" stroke-linejoin="round"/></g>
<g filter="url(#b1)"><ellipse cx="214" cy="667.5" rx="6" ry="4" fill="#0a0a0a" transform="rotate(0 214 667.5)"/></g>
<g filter="url(#b3)"><path d="M148,1040C149.7,1035.8 154.7,1023 158,1015C161.3,1007 166.3,995.8 168,992" fill="none" stroke="#474747" stroke-width="11" stroke-linecap="round" stroke-linejoin="round"/></g>
<g filter="url(#b5)"><path d="M165,1000C162.5,1008.3 152.8,1035 150,1050C147.2,1065 148.3,1083.3 148,1090" fill="none" stroke="#4c4c4c" stroke-width="14" stroke-linecap="round" stroke-linejoin="round"/></g>
<g filter="url(#b2_5)"><path d="M195,964 215,960 245,958 225,974 205,984 192,975Z" fill="#6b6b6b"/></g>
<g filter="url(#b5)"><path d="M205,995C206.2,1002.5 211.2,1023.3 212,1040C212.8,1056.7 210.3,1085.8 210,1095" fill="none" stroke="#ebebeb" stroke-width="20" stroke-linecap="round" stroke-linejoin="round"/></g>
<g filter="url(#b5)"><path d="M175,1000C176.7,1010 180.8,1036.7 185,1060C189.2,1083.3 195,1116.7 200,1140C205,1163.3 212.5,1190 215,1200" fill="none" stroke="#b8b8b8" stroke-width="14" stroke-linecap="round" stroke-linejoin="round"/></g>
<g filter="url(#b1)"><ellipse cx="205.5" cy="980" rx="6" ry="4" fill="#0f0f0f" transform="rotate(0 205.5 980)"/></g>
<g filter="url(#b1)" clip-path="url(#sha)"><path d="M461,922C459,932 453.8,963.2 449,982C444.2,1000.8 438.3,1021.2 432,1035C425.7,1048.8 418.2,1054.2 411,1065C403.8,1075.8 397,1089.2 389,1100C381,1110.8 372,1120.8 363,1130C354,1139.2 342.8,1146.7 335,1155C327.2,1163.3 323.3,1171.3 316,1180C308.7,1188.7 298.2,1197.7 291,1207C283.8,1216.3 276,1231.2 273,1236" fill="none" stroke="#b8b8b8" stroke-width="3" stroke-linecap="round" stroke-linejoin="round"/></g>
<g filter="url(#b0_4)"><path d="M214,668C216.8,668.8 224,669.7 230.5,672.5C237,675.3 245.9,680.4 253,685C260.1,689.6 266.3,693.3 273,700C279.7,706.7 285.7,714.6 293,725C300.3,735.4 311.2,750 317,762.5C322.8,775 325.5,788.8 328,800C330.5,811.2 331.2,821.7 332,830C332.8,838.3 332.8,846.7 333,850" fill="none" stroke="#050505" stroke-width="2.1" stroke-linecap="round" stroke-linejoin="round"/></g>
<g filter="url(#b0_4)"><path d="M317,890C313.8,894.7 302.8,911.3 298,918C293.2,924.7 294.2,923.8 288,930C281.8,936.2 270.5,947.9 260.5,955C250.5,962.1 237.2,968 228,972.5C218.8,977 208.8,980.4 205,982" fill="none" stroke="#050505" stroke-width="2.1" stroke-linecap="round" stroke-linejoin="round"/></g>
<g><ellipse cx="332" cy="858" rx="2.5" ry="5" fill="#141414" transform="rotate(0 332 858)"/></g>
<g><ellipse cx="326" cy="872" rx="2.5" ry="3.5" fill="#141414" transform="rotate(0 326 872)"/></g>
<g><path d="M313,885 322,884 316,895Z" fill="#1a1a1a"/></g>
<path d="M207.4,193.8 210.7,198.8 213.9,203.9 217.2,208.9 220.5,213.9 223.8,218.9 227.2,223.9 230.5,228.8 233.9,233.8 237.4,238.7 240.8,243.6 244.2,248.5 247.7,253.4 251.2,258.3 254.7,263.2 258.2,268 261.7,272.9 265.2,277.7 268.8,282.5 272.3,287.4 275.9,292.2 279.5,297 283,301.8 286.6,306.6 290.2,311.4 293.7,316.3 297.3,321.1 300.9,325.9 304.5,330.7 308,335.5 311.6,340.3 315.2,345.1 318.7,349.9 322.2,354.7 325.8,359.6 329.3,364.4 332.8,369.2 336.3,374.1 339.8,378.9 343.3,383.8 346.7,388.7 350.2,393.6 353.6,398.5 357,403.4 360.3,408.3 363.7,413.2 367,418.2 370.3,423.2 373.6,428.2 376.9,433.2 380.1,438.2 383.3,443.2 386.5,448.3 389.6,453.4 392.7,458.4 395.8,463.6 398.8,468.7 401.8,473.9 404.8,479.1 407.7,484.3 410.6,489.5 413.4,494.8 416.2,500.1 419,505.4 421.7,510.8 424.3,516.2 427,521.6 429.5,527 432.1,532.5 434.6,537.9 437,543.5 439.4,549 441.7,554.5 444,560.1 446.2,565.7 448.4,571.4 450.5,577 452.6,582.7 454.6,588.3 456.6,594 458.5,599.8 460.4,605.5 462.2,611.3 463.9,617 465.6,622.8 467.2,628.6 468.8,634.4 470.3,640.2 471.7,646.1 473.1,651.9 474.5,657.8 475.7,663.7 476.9,669.5 478.1,675.4 479.1,681.3 480.1,687.2 481.1,693.2 481.9,699.1 482.7,705 483.5,710.9 484.1,716.9 484.7,722.8 485.3,728.8 485.7,734.7 486.1,740.7 486.4,746.6 486.6,752.6 486.8,758.5 486.9,764.5 486.9,770.4 486.9,776.3 486.7,782.3 486.5,788.2 486.2,794.2 485.9,800.1 485.4,806 484.9,811.9 484.3,817.8 483.6,823.7 482.8,829.6 482,835.5 481,841.4 480,847.3 479,853.2 477.9,859 476.7,864.9 475.5,870.7 474.3,876.6 473,882.5 471.7,888.3 470.3,894.2 469,900 467.6,905.9 466.2,911.8 464.8,917.6 463.4,923.5 462,929.4 460.6,935.3 459.2,941.2 457.7,947.1 456.3,952.9 454.8,958.8 453.3,964.6 451.7,970.5 450.1,976.3 448.5,982.1 446.8,987.8 445,993.5 443.1,999.2 441.2,1004.9 439.2,1010.5 437.1,1016 434.9,1021.5 432.6,1027 430.2,1032.3 427.6,1037.7 425,1042.9 422.2,1048.1 419.3,1053.3 416.4,1058.4 413.3,1063.4 410.1,1068.4 406.9,1073.3 403.5,1078.2 400.1,1083.1 396.6,1087.9 393,1092.6 389.4,1097.3 385.7,1102 381.9,1106.7 378.1,1111.3 374.3,1115.9 370.3,1120.4 366.4,1124.9 362.4,1129.4 358.4,1133.9 354.4,1138.4 350.3,1142.8 346.2,1147.2 342.1,1151.7 338,1156 333.9,1160.4 329.8,1164.8 325.7,1169.2 321.6,1173.6 317.6,1178 313.6,1182.4 309.7,1186.9 305.8,1191.4 302,1196 298.3,1200.6 294.6,1205.3 291.1,1210.1 287.7,1215 284.4,1219.9 281.3,1224.9 278.3,1230.1 275.4,1235.4" fill="none" stroke="#808080" stroke-width="1.6" filter="url(#b0_6)"/>
</g>
<circle cx="148.5" cy="821" r="96.5" fill="#fff"/>
</g>
<g clip-path="url(#clipb)"><g filter="url(#plasma)">
<rect x="816.5" y="189" width="364.5" height="1054.5" fill="#000"/>
<g><g mask="url(#rb0)"><g filter="url(#wb0)"><path d="M779.6,1061.6 820.6,1037.9M971.8,950.6 1010.7,928.1M792.5,1093.8 825.6,1074.6M935.9,1011 998.5,974.8M1141.3,892.4 1213.1,850.9M800.4,1129.4 871,1088.6M1107.8,951.9 1163.4,919.8M1084.4,1007.9 1124.7,984.7M1162.9,962.6 1217.8,930.9M905.3,1155.6 978.6,1113.4M947,1171.3 1002.3,1139.4M1024.4,1126.6 1075.6,1097.1M985.7,1294.3 1061.6,1250.4M1197.3,1172.1 1232.1,1152M949.9,1360.7 994.4,1335.1M1070.3,1291.2 1126.2,1258.9M1230.8,1198.6 1282.9,1168.4" stroke="#141414" stroke-width="16" stroke-linecap="round" fill="none"/><path d="M862.3,1013.8 922.7,979M845.1,1063.4 913.3,1024M1001.7,1013.2 1075.4,970.6M929.7,1097.3 984.6,1065.6M832.5,1197.7 876.5,1172.3M1023,1087.7 1066.4,1062.7M1197,987.3 1247.6,958M1207.3,1021 1268.5,985.7M1170.3,1094.9 1217.3,1067.8M985.6,1266.5 1053.2,1227.4M1257.4,1137.4 1299.7,1113M1014.9,1323.2 1046.4,1305" stroke="#171717" stroke-width="16" stroke-linecap="round" fill="none"/><path d="M1042.5,909.8 1113.2,869M1043.6,948.8 1105.2,913.2M922.8,1058.7 956.2,1039.4M837.9,1150.3 904.1,1112M1020.2,1045 1064.8,1019.2M1109.8,1037.6 1153.9,1012.1M851.7,1226.3 929,1181.7M1121.2,1070.7 1156.7,1050.2M897.5,1252.5 969.7,1210.8M1015.1,1184.6 1043.7,1168.1M1064.2,1156.2 1130.2,1118.1M910.7,1309.7 948.3,1288M1095.7,1202.9 1146.9,1173.3M1192.8,1146.8 1230.4,1125.2M1265.6,1104.8 1314.7,1076.5M911.9,1336.9 947.7,1316.2M1098.6,1229.1 1146.6,1201.4M1162.7,1237.8 1198,1217.5" stroke="#1c1c1c" stroke-width="16" stroke-linecap="round" fill="none"/></g></g></g>
<g clip-path="url(#shb)"><rect x="816.5" y="189" width="364.5" height="1054.5" fill="#595959"/></g>
<g clip-path="url(#shb)"><g mask="url(#rb2)"><g transform="rotate(-28 998.8 716.2)"><rect x="398.8" y="116.2" width="1200" height="1200" filter="url(#nb2)"/></g></g></g>
<g filter="url(#b4_6)" clip-path="url(#shb)"><path d="M812,208C819.5,209.3 843.2,213.5 857,216C870.8,218.5 888.7,221.8 895,223" fill="none" stroke="#999999" stroke-width="10.8" stroke-linecap="round" stroke-linejoin="round"/></g>
<g filter="url(#b4_6)" clip-path="url(#shb)"><path d="M812,254C819.5,256 841.8,262.3 857,266C872.2,269.7 891.7,272.8 903,276C914.3,279.2 921.3,283.5 925,285" fill="none" stroke="#9e9e9e" stroke-width="12.2" stroke-linecap="round" stroke-linejoin="round"/></g>
<g filter="url(#b4_6)" clip-path="url(#shb)"><path d="M812,289C819.5,291 843.2,297 857,301C870.8,305 882.3,309.7 895,313C907.7,316.3 922.2,318.5 933,321C943.8,323.5 955.5,326.8 960,328" fill="none" stroke="#d9d9d9" stroke-width="14.9" stroke-linecap="round" stroke-linejoin="round"/></g>
<g filter="url(#b4_6)" clip-path="url(#shb)"><path d="M812,336C819.5,338.5 843.2,346.5 857,351C870.8,355.5 883.7,359.7 895,363C906.3,366.3 912.5,369.2 925,371C937.5,372.8 962.5,373.5 970,374" fill="none" stroke="#d9d9d9" stroke-width="14.9" stroke-linecap="round" stroke-linejoin="round"/></g>
<g filter="url(#b4_6)" clip-path="url(#shb)"><path d="M812,367C821.7,368.5 852,374 870,376C888,378 911.7,378.5 920,379" fill="none" stroke="#9e9e9e" stroke-width="9.5" stroke-linecap="round" stroke-linejoin="round"/></g>
<g filter="url(#b4_6)" clip-path="url(#shb)"><path d="M857,389C863.3,390.7 882.3,395.3 895,399C907.7,402.7 922.5,406.8 933,411C943.5,415.2 947.5,420.2 958,424C968.5,427.8 989.7,432.3 996,434" fill="none" stroke="#cccccc" stroke-width="12.2" stroke-linecap="round" stroke-linejoin="round"/></g>
<g filter="url(#b4_6)" clip-path="url(#shb)"><path d="M812,412C821.7,414.3 852,421.5 870,426C888,430.5 905,434.3 920,439C935,443.7 945.7,449 960,454C974.3,459 991.7,464 1006,469C1020.3,474 1039.3,481.5 1046,484" fill="none" stroke="#b2b2b2" stroke-width="12.2" stroke-linecap="round" stroke-linejoin="round"/></g>
<g filter="url(#b4_6)" clip-path="url(#shb)"><path d="M812,432C819.7,433.5 845,437.3 858,441C871,444.7 879.7,450.2 890,454C900.3,457.8 910,459.5 920,464C930,468.5 937.3,476 950,481C962.7,486 980,489.3 996,494C1012,498.7 1031.5,504.8 1046,509C1060.5,513.2 1076.8,517.3 1083,519" fill="none" stroke="#e6e6e6" stroke-width="13.5" stroke-linecap="round" stroke-linejoin="round"/></g>
<g filter="url(#b4_6)" clip-path="url(#shb)"><path d="M812,474C819.7,476.5 844.2,484.5 858,489C871.8,493.5 882.5,496.8 895,501C907.5,505.2 920.5,511 933,514C945.5,517 955.5,517.3 970,519C984.5,520.7 1011.7,523.2 1020,524" fill="none" stroke="#f2f2f2" stroke-width="16.2" stroke-linecap="round" stroke-linejoin="round"/></g>
<g filter="url(#b4_6)" clip-path="url(#shb)"><path d="M895,525C902.5,528.3 927.5,539.7 940,545C952.5,550.3 958.7,553.7 970,557C981.3,560.3 1001.7,563.7 1008,565" fill="none" stroke="#e6e6e6" stroke-width="12.2" stroke-linecap="round" stroke-linejoin="round"/></g>
<g filter="url(#b4_6)" clip-path="url(#shb)"><path d="M812,556C823.8,558.8 860.8,566.5 883,573C905.2,579.5 922,587.2 945,595C968,602.8 1000,612.5 1021,620C1042,627.5 1054.3,632.8 1071,640C1087.7,647.2 1108.5,656.3 1121,663C1133.5,669.7 1141.8,677.2 1146,680" fill="none" stroke="#f2f2f2" stroke-width="16.2" stroke-linecap="round" stroke-linejoin="round"/></g>
<g filter="url(#b4_6)" clip-path="url(#shb)"><path d="M812,581C821.7,583 852,588.5 870,593C888,597.5 903.3,601.3 920,608C936.7,614.7 953.2,625.2 970,633C986.8,640.8 1004.2,647.2 1021,655C1037.8,662.8 1056.5,672.5 1071,680C1085.5,687.5 1093.5,692.3 1108,700C1122.5,707.7 1149.7,721.7 1158,726" fill="none" stroke="#f7f7f7" stroke-width="17.6" stroke-linecap="round" stroke-linejoin="round"/></g>
<g filter="url(#b4_6)" clip-path="url(#shb)"><path d="M895,613C903.3,617.2 928.2,629.3 945,638C961.8,646.7 979.2,656.2 996,665C1012.8,673.8 1029.3,681.7 1046,691C1062.7,700.3 1079.3,711.8 1096,721C1112.7,730.2 1137.7,741.8 1146,746" fill="none" stroke="#f2f2f2" stroke-width="17.6" stroke-linecap="round" stroke-linejoin="round"/></g>
<g filter="url(#b4_6)" clip-path="url(#shb)"><path d="M958,676C966.3,680.2 991.3,691.5 1008,701C1024.7,710.5 1041.3,722.7 1058,733C1074.7,743.3 1091.3,753.8 1108,763C1124.7,772.2 1149.7,783.8 1158,788" fill="none" stroke="#e6e6e6" stroke-width="16.2" stroke-linecap="round" stroke-linejoin="round"/></g>
<g filter="url(#b8)" clip-path="url(#shb)" opacity="0.9"><path d="M880,190C890,205.8 918.3,252.5 940,285C961.7,317.5 986.7,348.3 1010,385C1033.3,421.7 1060,469.2 1080,505C1100,540.8 1116.7,564.2 1130,600C1143.3,635.8 1154.5,683.3 1160,720C1165.5,756.7 1166.3,785 1163,820C1159.7,855 1148.8,900 1140,930C1131.2,960 1115,988.3 1110,1000" fill="none" stroke="#6b6b6b" stroke-width="50" stroke-linecap="round" stroke-linejoin="round"/></g>
<g clip-path="url(#shb)" opacity="0.6"><g mask="url(#rb18)"><g filter="url(#wb18)"><path d="M823.6,-17.3 899.9,23.2M956.6,53.4 999.2,76M1003.3,78.2 1078,117.9M1080.3,119.1 1154.6,158.6M1210.4,188.3 1272.2,221.1M1341.2,257.9 1369.2,272.7M1371.4,273.9 1449.7,315.5M1610.1,400.8 1670.3,432.9M853.4,11.5 912.9,43.1M975.6,76.5 1055.1,118.7M1058,120.3 1086,135.2M1229.8,211.6 1280.4,238.5M1336.6,268.4 1384,293.6M1475.4,342.2 1527.8,370.1M1533.9,373.3 1561.4,387.9M1571.4,393.2 1620.3,419.2M847.5,19.8 903.6,49.6M939.6,68.8 1018.2,110.5M1023.7,113.5 1092.8,150.2M1171.2,191.9 1210.9,213M1212.9,214.1 1250.4,234M1253.5,235.7 1320.3,271.2M1401.3,314.3 1472.4,352.1M1477.6,354.8 1517,375.8M1522.8,378.9 1590.3,414.8M816.5,15.8 861,39.4M910.2,65.6 944.2,83.7M949.3,86.4 982.5,104M983,104.3 1015.1,121.4M1020.9,124.4 1069.5,150.3M1180,209 1252,247.3M1326.7,287.1 1378,314.3M1381.4,316.2 1412,332.4M1595.4,429.9 1664,466.4M812.7,27.2 847.1,45.5M1229.1,248.7 1279.2,275.3M1286.9,279.4 1331,302.9M1332.5,303.6 1409.6,344.7M1419.9,350.1 1474.1,378.9M1474.4,379.1 1535.1,411.4M1538.7,413.3 1585.6,438.2M1588.2,439.6 1655.2,475.2M1135.7,210.2 1198,243.3M1302.2,298.7 1338.5,318M1387,343.8 1438.5,371.2M1442,373.1 1496.8,402.2M1497.4,402.5 1556.1,433.7M1557.6,434.5 1629.4,472.7M815.9,51.8 868.1,79.6M1074.8,189.5 1113.4,210M1122.4,214.7 1180.2,245.5M1182.1,246.5 1221.6,267.5M1225.2,269.4 1279.3,298.2M1280.5,298.8 1309.1,314M1430.5,378.6 1471.9,400.6M1473.1,401.2 1540.6,437.1M817,67 895.5,108.8M897.6,109.9 928.3,126.2M1140.1,238.8 1172.2,255.9M1228.2,285.7 1301.7,324.8M1303,325.4 1356.2,353.8M1416.8,386 1445.4,401.2M1448.8,403 1515.1,438.2M1517.2,439.3 1572.3,468.6M773,54.2 850.6,95.5M915.1,129.8 992.1,170.7M993.7,171.6 1070.2,212.2M1073.4,213.9 1112.8,234.9M1236.9,300.9 1274.7,321M1322.4,346.3 1383.8,379M1546.9,465.7 1618.2,503.6M942.4,157.5 1017.1,197.2M1026.8,202.4 1079.5,230.4M1079.8,230.6 1157.8,272M1168.3,277.6 1211.6,300.7M1301.1,348.3 1350.9,374.7M1356.1,377.5 1420.2,411.6M1541.6,476.1 1607.3,511.1M775.3,82.1 824.1,108.1M827.6,109.9 874.4,134.8M881.9,138.8 922.4,160.3M926.3,162.4 953.7,177M955,177.7 1024.7,214.7M1249.8,334.4 1278.4,349.6M1462.5,447.5 1506.8,471.1M840.7,129.4 873.9,147M914.8,168.8 982.1,204.6M984.1,205.6 1025.6,227.7M1034.2,232.3 1112,273.7M1171.7,305.4 1239.8,341.6M1321.4,385 1383.6,418M1388.8,420.8 1424.9,440M1428.3,441.8 1503.7,481.9M776.6,105.7 835.2,136.8M842.9,140.9 899.8,171.2M904,173.4 936.9,190.9M1058.1,255.4 1118.1,287.3M1128.7,292.9 1184.8,322.7M1187.4,324.1 1262.9,364.3M1264.1,364.9 1337.6,404M1341.7,406.2 1374.5,423.6M801.6,132 878.9,173.1M938.3,204.7 1015.7,245.8M1015.7,245.8 1076.5,278.1M1248.9,369.9 1318.4,406.8M1370.8,434.6 1426.3,464.1M1478,491.6 1528.2,518.3M1537.3,523.2 1604.2,558.7M753,118.9 830.3,160M839.1,164.7 886.5,189.9M894.2,194 931.9,214M939.6,218.1 1019,260.3M1523.2,528.4 1579.8,558.5M835.6,174.5 881.7,199M1041.7,284.1 1091.5,310.6M1126.9,329.4 1201.5,369.1M1317.1,430.5 1381.1,464.6M1387.4,467.9 1429.5,490.3M835.2,187.2 883.7,213M889.5,216.1 940,242.9M945.5,245.8 1011.3,280.9M1018.3,284.6 1075.3,314.9M1076,315.2 1104,330.1M1111.6,334.1 1169.8,365.1M1242.7,403.9 1300.1,434.4M718.7,137.5 760.3,159.6M809,185.5 856.1,210.5M864.8,215.1 941.1,255.7M948.8,259.8 981.6,277.3M986.8,280 1030.1,303M1087.5,333.5 1121.2,351.5M1121.4,351.6 1159,371.6M1159.2,371.7 1236,412.5M1311.1,452.5 1354.7,475.6M1407.5,503.7 1464.8,534.2M794.9,190 852.6,220.7M944,269.3 1009.3,304M1062,332 1111.6,358.4M1342.2,481 1379.1,500.6M1437.1,531.5 1505.8,568M1516.3,573.6 1589.1,612.3M702.5,155.5 756.4,184.2M817.2,216.5 886.3,253.2M950.3,287.3 1011.9,320M1020.1,324.4 1071.2,351.6M1079.6,356 1130.4,383M1179.4,409.1 1241.9,442.3M1248.2,445.7 1314.6,481M1317.2,482.4 1347.2,498.3M1357,503.5 1425.6,540M1470.3,563.7 1508.7,584.2M727.2,179.4 795.9,216M990.2,319.3 1057,354.8M1224.6,443.9 1271.2,468.7M1273.1,469.7 1343.2,507M1352.1,511.7 1384.7,529.1M1386.1,529.8 1426.3,551.2M1427.2,551.6 1486.4,583.1M691.2,174.5 725.3,192.6M800.7,232.7 851.2,259.5M1060.6,370.9 1090.7,386.9M1095.7,389.5 1133.4,409.6M1268.8,481.6 1323.8,510.8M1388.1,545 1428,566.2M1430.8,567.7 1478.4,593M1479,593.3 1521.4,615.9M694.2,187.7 726.4,204.8M728.3,205.8 799.4,243.6M907.1,300.9 985.5,342.6M989.7,344.8 1022.4,362.2M1091.9,399.2 1155.7,433.1M1305,512.4 1331.9,526.8M1340.5,531.4 1406.7,566.5M1415.5,571.2 1476.2,603.5M1484,607.6 1539.8,637.3M697.8,201.4 735.7,221.6M859.8,287.5 910.1,314.3M916.2,317.5 993.9,358.8M993.9,358.8 1030.6,378.4M1034.4,380.4 1083.6,406.5M1091.2,410.6 1154.8,444.4M1256.6,498.5 1336,540.7M1346,546 1373,560.4M1377.7,562.9 1446.5,599.5M1504.8,630.5 1570.9,665.6M681.2,204.8 756.4,244.7M766.2,250 822.7,280M880.5,310.8 959.9,353M962.3,354.3 1015.6,382.6M1064.5,408.6 1097.4,426.1M698,227.7 724.5,241.8M734.1,246.9 776.1,269.2M856.3,311.9 907.6,339.1M917.2,344.2 973.2,374M979.7,377.5 1007.2,392.1M1064.5,422.6 1127.9,456.3M1207.6,498.6 1276.7,535.4M1436.4,620.3 1467.9,637.1M1473.2,639.9 1526.8,668.4M742.7,262.3 778,281.1M827.9,307.6 900.5,346.2M949.8,372.4 1023.3,411.5M1031,415.6 1094.3,449.2M1098.5,451.5 1150,478.9M1466.4,647.1 1496.3,663M853.6,335.4 900.2,360.1M941.2,381.9 973,398.8M980.1,402.6 1037.7,433.3M1048.2,438.8 1124.1,479.2M1261.6,552.3 1296.2,570.7M1304.8,575.2 1337.4,592.6M1409.4,630.9 1449.4,652.2M733.8,284 774.1,305.5M832.4,336.5 882.1,362.9M887,365.5 922.5,384.4M1128.3,493.8 1158.3,509.8M1168.1,514.9 1207.4,535.9M1212.1,538.4 1244.5,555.6M1374.2,624.6 1426.9,652.6M1429.4,653.9 1501.5,692.2M656.6,254.7 728,292.7M735.7,296.8 776.7,318.6M828.1,345.9 897.7,382.9M900.3,384.3 927.6,398.8M932.2,401.2 978.8,426.1M986.8,430.3 1026.4,451.4M1033.3,455 1085.9,483M1092.7,486.6 1132.8,507.9M1134.8,509 1196.5,541.8M1205.6,546.6 1272.4,582.2M1365.6,631.7 1430.1,666M1433.2,667.6 1468.6,686.4M774,330 842,366.2M880.7,386.8 934.3,415.3M1040,471.5 1082.5,494.1M1182.4,547.2 1256.5,586.6M1256.6,586.6 1324.4,622.7M723.1,315.6 769,340M813.8,363.8 873.8,395.7M882.6,400.4 954.9,438.8M1026.1,476.7 1055.6,492.4M1057.5,493.4 1107.3,519.9M1114.9,523.9 1145.5,540.2M1197.5,567.9 1237.2,588.9M1241.7,591.3 1294.2,619.3M1301.4,623.1 1333.2,640M1336.3,641.6 1380.4,665.1M697.8,314.6 759.7,347.5M759.7,347.5 798,367.9M851.9,396.6 904.5,424.5M912.5,428.8 941.4,444.1M950.1,448.8 997.8,474.1M1082.7,519.3 1118.5,538.3M1127.6,543.2 1183.2,572.7M1190,576.3 1257.6,612.3M1265,616.2 1294.8,632.1M1305.4,637.7 1345.2,658.8M1353.1,663.1 1424.5,701M1426.3,702 1497.4,739.8M726.5,341.7 764.3,361.8M772.1,365.9 800.4,381M947.1,459 983.8,478.5M989.5,481.5 1017.2,496.3M1058,517.9 1118.8,550.3M1336.4,666 1363.5,680.4M1367.7,682.6 1421.7,711.4M1429.4,715.4 1456.5,729.8M676.5,326.8 729.2,354.8M731.6,356.1 805.1,395.2M905.1,448.4 974.3,485.2M1052.7,526.8 1081.4,542.1M1084.2,543.6 1136.1,571.2M1213.9,612.6 1254.6,634.2M1334.1,676.5 1396.1,709.4M1398.5,710.7 1465.5,746.4M647.1,323.3 704.9,354M713.9,358.8 741,373.2M750,378 777.1,392.4M786.2,397.3 821.3,415.9M831.5,421.4 875.5,444.7M875.9,444.9 907.7,461.8M914,465.2 965.2,492.4M969.4,494.6 1000.3,511.1M1094.9,561.4 1164.5,598.4M1174.2,603.5 1203.7,619.2M1313,677.3 1350.6,697.3M1357,700.7 1403.1,725.3M1406.6,727.1 1443.9,746.9M936.7,491.4 986.2,517.7M1052.1,552.7 1106.9,581.9M1161,610.6 1230.4,647.5M1234.4,649.6 1279.5,673.6M1413.8,745 1448.6,763.5M702.4,378.9 744.1,401.1M749.2,403.8 812,437.2M962,516.9 1001.5,537.9M1001.8,538.1 1058.9,568.4M1109.4,595.3 1154.9,619.5M1161.4,623 1228.2,658.4M905.7,500.2 974.3,536.7M1106.3,606.8 1153,631.6M1159.7,635.2 1231.2,673.3M1308.2,714.2 1334.7,728.3M1409.2,767.9 1447.1,788M800.8,455.1 842.2,477M1067.3,610.5 1108.7,632.4M1118.5,637.6 1173,666.6M1298.6,733.4 1332.3,751.3M1384,778.8 1415.5,795.6M667.3,410.8 703.6,430.1M764.4,462.4 825.5,494.9M872.8,520.1 917.9,544M922.2,546.3 962.4,567.7M963.2,568.1 993.3,584.1M1003.4,589.5 1040.6,609.2M1104,643 1143.8,664.1M1225.7,707.7 1264.5,728.3M1324,760 1371,785M1372.8,785.9 1442.6,823M680.6,430.3 727.1,455M730.7,456.9 786,486.3M793.7,490.4 836.4,513.1M1014.6,607.9 1051.5,627.5M1053.5,628.5 1098.6,652.5M1103.6,655.2 1170,690.5M1179.3,695.4 1213,713.4M1218.7,716.4 1253.2,734.7M1369.5,796.6 1413.6,820M638.8,420.2 700.3,452.9M754.2,481.5 811.2,511.8M899.3,558.6 941.9,581.3M1050.7,639.2 1120.5,676.3M1123.6,677.9 1182.6,709.3M1371.5,809.7 1403.5,826.8M651.9,440.3 713.2,472.9M713.5,473.1 768.9,502.6M775.3,506 834.3,537.3M1018.2,635.1 1050.4,652.2M1091.6,674.1 1125,691.9M1133.2,696.2 1185.5,724M1195.8,729.5 1230.5,748M1231,748.2 1285.6,777.2M1286.6,777.8 1335.9,804M576.6,410.4 649.4,449.1M699.1,475.6 763.8,509.9M804.8,531.8 858.6,560.4M859,560.6 917.4,591.6M925.5,595.9 974.6,622M1359.2,826.6 1399.2,847.8M726.1,503.3 760.8,521.7M764.2,523.5 803.1,544.2M809.7,547.7 842.6,565.2M851.7,570.1 929.4,611.4M936.4,615.1 963.5,629.5M964.3,630 1013.8,656.2M1023.3,661.3 1084.2,693.7M1140.5,723.6 1185.4,747.5M1386.6,854.5 1460.4,893.7M583.3,439.6 626,462.3M678.1,490 713.5,508.8M722.3,513.5 772.6,540.3M777.9,543.1 838.9,575.5M842.5,577.4 889.3,602.3M965.4,642.8 1024.5,674.2M1102.7,715.8 1167.3,750.1M1174.4,753.9 1201.5,768.3M1254.2,796.3 1299.7,820.5M1302.4,821.9 1372.7,859.4M663.4,495.5 697.7,513.7M708.2,519.3 772.6,553.6M950.4,648.1 1013.5,681.7M1195.4,778.3 1252.2,808.6M1257.4,811.3 1331.7,850.8M673.5,511.8 731.6,542.6M738.2,546.1 813.6,586.2M874.6,618.6 913.4,639.3M1234.7,810.1 1313.5,852M562.7,466.1 604,488.1M605.4,488.9 653.3,514.3M655.2,515.3 693.6,535.8M867.6,628.3 946.9,670.4M952,673.1 1007,702.4M1056.8,728.9 1088.8,745.9M1171.5,789.8 1236.3,824.3M613.7,506.2 682.6,542.9M751.1,579.3 812.2,611.8M1030.2,727.7 1094.1,761.6M1097.8,763.6 1159.3,796.3M1206.3,821.3 1267.2,853.7M1267.9,854.1 1301.3,871.8M555,487.8 596.1,509.7M603.5,513.6 654.7,540.8M664.3,546 717,574M725.8,578.6 800.1,618.2M870.3,655.5 926.1,685.1M1002.6,725.8 1033,742M1089.2,771.9 1148.3,803.3M1158.9,808.9 1232.2,847.9M1234.1,848.9 1279.4,873M1289.1,878.2 1364.4,918.2M581.3,512.9 619,533M620.4,533.7 657.2,553.3M658.8,554.1 689.1,570.2M765.1,610.6 811,635M959.3,713.9 1001.9,736.6M1002.6,737 1047.5,760.8M1053.8,764.2 1124.8,801.9M1196.7,840.1 1256.3,871.8M1310.9,900.8 1358,925.9M696.7,588.5 755.5,619.7M970.8,734.2 1031,766.2M1093.3,799.3 1172.5,841.4M1320.2,919.9 1388.6,956.3M691.7,597.2 748.6,627.5M758.3,632.7 792.2,650.7M864.8,689.3 924.4,721M930.7,724.4 968.4,744.4M969.8,745.1 1036.2,780.4M1159.5,846 1223.7,880.1M582,552 627.2,576M633.3,579.3 697.5,613.4M707.9,619 771.6,652.8M948.4,746.8 1004.4,776.6M1130.4,843.6 1175.1,867.3M1183.9,872.1 1258.7,911.8M1265.4,915.4 1300.1,933.8M679.5,616 712.7,633.7M834.2,698.3 891,728.5M898.9,732.7 930,749.2M935.3,752.1 993.7,783.1M1046.1,811 1111.7,845.9M1118.3,849.3 1170.2,876.9M1172.8,878.3 1245.8,917.1M1249.1,918.9 1277.8,934.2M1286.6,938.8 1358.7,977.2M600.5,585.4 679.2,627.3M765.8,673.3 835.3,710.3M841.9,713.8 880,734M880.7,734.4 922,756.3M993.7,794.5 1033.9,815.9M1079.8,840.3 1115.4,859.2M1168.5,887.4 1201.7,905.1M1203.8,906.2 1269,940.8M1272.6,942.8 1344,980.7M591.6,593.2 665.5,632.5M748.8,676.8 777.5,692M815.5,712.2 867.2,739.8M937,776.8 984.1,801.9M1033.8,828.3 1093.6,860.1M1169.3,900.4 1239.5,937.7M516,566.6 553.3,586.4M561,590.5 604.6,613.7M605.7,614.3 655.2,640.5M700.6,664.7 740.7,686M750.8,691.4 784.7,709.4M830.9,734 902.6,772.1M1014.6,831.7 1053.8,852.5M1055.7,853.5 1116.4,885.8M1244.3,953.8 1289.6,977.9M485.4,562.4 552.5,598.1M908.5,787.4 964.9,817.4M1013.4,843.1 1052.7,864.1M1115.2,897.3 1157.4,919.7M1163.3,922.8 1200.3,942.5M1210.1,947.8 1266.1,977.5M574.7,623.4 620.6,647.8M628.8,652.2 706.6,693.6M806.7,746.7 837,762.9M838.8,763.9 878.5,785M491.8,591.9 531,612.7M536.9,615.9 614.6,657.2M762.9,736 835.4,774.6M894.2,805.9 939,829.7M986.3,854.8 1042,884.5M1230,984.4 1294.4,1018.7M1297.7,1020.4 1348.6,1047.5M492,602.2 525.2,619.9M533.6,624.4 609.1,664.5M612.6,666.4 661.6,692.4M712.5,719.5 769.2,749.6M947,844.2 1004.2,874.6M1010.6,878 1081.8,915.9M1158.3,956.5 1229.8,994.5M562.7,653.5 640,694.6M649.4,699.6 679.8,715.8M770.1,763.8 830.4,795.9M879.6,822 932.8,850.3M937.2,852.6 990.4,880.9M1079.6,928.3 1130.4,955.3M1140.2,960.5 1216.8,1001.3M1222.6,1004.4 1274.5,1032M1280.9,1035.4 1309.6,1050.6M541.7,655.2 584.6,678M674.3,725.7 721.5,750.8M815.3,800.7 864.5,826.9M951.7,873.2 1010,904.2M1209.5,1010.3 1269.5,1042.2M465.8,626.3 513.9,651.8M575.1,684.4 619.1,707.8M624.4,710.6 658.5,728.7M725.6,764.4 793.6,800.5M794.9,801.3 867.9,840.1M950.6,884.1 981.5,900.5M1048.6,936.2 1079.8,952.8M1080.2,952.9 1145.7,987.8M1210.3,1022.1 1261.2,1049.2M466.8,640.9 519.8,669.1M524.6,671.7 580.1,701.2M744.8,788.7 800.2,818.2M800.6,818.4 831.5,834.9M841.8,840.4 897.8,870.1M905,873.9 957.9,902.1M1096.4,975.7 1160.8,1009.9M1170.7,1015.2 1230.1,1046.8M528.1,685 576.4,710.7M777.3,817.5 822.8,841.7M831.3,846.2 889,876.9M896.9,881.1 967.6,918.7M1035.9,955 1076.4,976.5M551.5,710.7 623.1,748.8M756,819.4 831,859.3M901.7,896.9 977.4,937.2M984,940.7 1038.2,969.5M1039.8,970.3 1066.4,984.5M1215.8,1063.9 1250.6,1082.4M1260.7,1087.8 1289.3,1103M488.9,689.5 547.5,720.6M550.1,722 584.8,740.4M589,742.7 639.6,769.6M727.5,816.3 787.2,848.1M794.4,851.9 858.9,886.2M898,907 945.3,932.1M945.7,932.4 981.6,951.4M1031.1,977.8 1103.3,1016.1M1171.3,1052.3 1212.6,1074.3M508.1,711.2 587,753.2M914.2,927.1 974.4,959.2M1059,1004.1 1129.3,1041.5M1132.2,1043 1202.6,1080.5M509.2,724.5 583.7,764.1M593.2,769.2 620.2,783.5M656.6,802.8 692.2,821.8M743.5,849.1 816.4,887.8M818.5,888.9 881.8,922.6M1008.8,990.1 1046.9,1010.4M1056,1015.2 1123,1050.9M1192.6,1087.9 1269.1,1128.5M440.8,701.8 505.9,736.5M569.1,770 640.3,807.9M642.9,809.3 683.3,830.8M840.1,914.2 917.8,955.5M918.7,955.9 951.8,973.5M1033.9,1017.2 1089,1046.5M1172.1,1090.7 1233,1123.1M490.6,740 550.5,771.9M718.7,861.3 755.3,880.8M954.9,986.9 983.1,1001.9M992.2,1006.8 1020.6,1021.8M1025.2,1024.3 1067,1046.5M1076.1,1051.4 1153.2,1092.4M1163.1,1097.6 1191.5,1112.7M1199,1116.7 1272,1155.5M469.9,741.5 546.2,782M548.5,783.3 606.5,814.1M612.1,817 673.2,849.6M681.6,854 715.4,872M886.7,963.1 951.6,997.6M1065.9,1058.3 1092.4,1072.4M425.7,730.9 469.6,754.2M470.8,754.9 526.2,784.4M536,789.6 588.3,817.4M595.6,821.3 655.6,853.2M898.8,982.5 968,1019.3M977,1024.1 1045.3,1060.4M610.5,839.5 687.1,880.2M962.9,1026.9 1040.9,1068.3M1042.5,1069.2 1079.5,1088.9M400.4,741.6 434.6,759.8M443.4,764.5 481.3,784.7M849.6,980.5 915.1,1015.3M917.3,1016.5 956.7,1037.4M965.4,1042.1 1007.2,1064.3M1115.8,1122 1195.2,1164.2M392.2,748.6 459.9,784.6M469.7,789.8 505.7,809M515.8,814.3 585.8,851.6M792.2,961.4 840.7,987.1M845.9,989.9 904.6,1021.1M952.2,1046.4 1025.8,1085.6M1114.7,1132.8 1188.2,1171.9M1189.2,1172.4 1245.2,1202.2M496.9,818.9 536.2,839.8M626.1,887.6 686.3,919.6M695.7,924.6 727.2,941.3M807.6,984.1 837.4,1000M889.6,1027.7 938.4,1053.7M944.2,1056.7 980.5,1076M1068.6,1122.9 1121.1,1150.8M1124.1,1152.4 1167.7,1175.6" stroke="#4c4c4c" stroke-width="4" stroke-linecap="round" fill="none"/><path d="M907.7,27.4 949.6,49.6M1163.1,163.2 1208.7,187.4M1273.9,222.1 1334.9,254.5M1455.9,318.8 1531.8,359.2M1541.1,364.1 1604,397.6M796.8,-18.6 850.5,9.9M921.4,47.6 974.4,75.8M1087.2,135.8 1141.6,164.7M1146.1,167.1 1224.1,208.6M1285.3,241.1 1333.9,267M1393.2,298.5 1469.4,339M801.7,-4.6 847,19.5M904.6,50.2 936.3,67M1094,150.9 1171.2,191.9M1320.6,271.4 1395.9,311.4M1595.5,417.5 1672.4,458.4M869.5,44 902.9,61.7M1071.9,151.6 1106.1,169.8M1107.7,170.6 1169.6,203.5M1262.6,253 1320.6,283.8M1412.7,332.8 1475.2,366M1484.9,371.2 1515,387.2M1524.3,392.1 1594.7,429.6M852.1,48.2 924.4,86.6M927.5,88.3 1005.5,129.7M1008.4,131.3 1066.4,162.1M1072.2,165.2 1140.8,201.7M1150.7,207 1224.9,246.4M800.9,32.2 865.3,66.4M869.4,68.6 923.4,97.3M931.5,101.6 1001.8,139M1004.5,140.4 1076.6,178.7M1084.9,183.2 1135.4,210.1M1206.2,247.7 1255.2,273.7M1264.7,278.8 1294.8,294.8M1343.3,320.6 1380.6,340.4M779.2,32.3 808.7,47.9M872.1,81.6 949.4,122.7M950.7,123.5 1030.2,165.7M1035.5,168.6 1065.5,184.5M1310.9,315 1347.9,334.7M1349.1,335.3 1420.6,373.3M1551.1,442.7 1609.6,473.8M781.6,48.2 811.3,64M937.5,131.1 997.1,162.8M998,163.3 1064,198.4M1073.2,203.3 1130.5,233.7M1178.1,259 1221.4,282M1358,354.7 1410.1,382.4M1577.7,471.5 1645.7,507.7M857.2,99 909.2,126.6M1115.1,236.1 1178.5,269.8M1181.1,271.2 1234.7,299.7M1275.9,321.6 1314.5,342.1M1384.1,379.2 1425.2,401M1427.6,402.3 1505.2,443.5M1505.7,443.8 1546.8,465.7M762.2,61.7 829.3,97.4M834.5,100.2 869,118.5M876.6,122.5 937,154.7M1220.5,305.4 1250.7,321.4M1261.1,327 1291,342.9M1420.3,411.6 1477,441.8M1480,443.4 1533.5,471.8M1031.7,218.5 1070.5,239.1M1071.1,239.4 1119.5,265.1M1125.8,268.5 1198.3,307M1202.3,309.2 1240,329.2M1279.1,350 1356.8,391.3M1357.9,391.9 1388.9,408.4M1397,412.7 1453.2,442.6M1513.3,474.5 1583.8,512M758.7,85.8 788,101.4M795.5,105.4 832.2,124.9M877.3,148.9 906,164.1M1114.1,274.7 1166.3,302.5M1242.3,342.9 1321,384.7M1508.2,484.3 1563.6,513.8M1564.1,514.1 1592.7,529.2M738.1,85.2 768.6,101.4M941.2,193.2 978.1,212.8M987.3,217.7 1051.8,252M1375.4,424.1 1436.1,456.3M1439.4,458.1 1509.5,495.4M1512.9,497.2 1576.7,531.1M742.4,100.5 798,130.1M881.6,174.5 933.5,202.1M1079.4,279.7 1122.8,302.8M1124.4,303.7 1165.2,325.3M1175.1,330.6 1241.4,365.9M1321.3,408.3 1369.7,434.1M1429.7,465.9 1468.5,486.6M1021.9,261.9 1097.8,302.2M1107.1,307.2 1148.8,329.4M1154.2,332.2 1182.5,347.2M1192.7,352.7 1228.3,371.6M1234.5,374.9 1312.9,416.6M1318.7,419.7 1370.9,447.4M1376.9,450.6 1440,484.1M1440.4,484.4 1513.1,523M726,116.2 764.5,136.7M767.8,138.4 834.2,173.8M884.5,200.5 938.1,229M942.7,231.4 984.7,253.8M987.4,255.2 1041.3,283.9M1092.2,310.9 1119.8,325.6M1206.7,371.8 1267.4,404.1M1269.5,405.2 1315.7,429.8M1437.7,494.6 1466.5,510M1470.7,512.2 1500.4,528M1500.7,528.2 1534.8,546.3M1540.9,549.5 1581.8,571.2M721.9,127 754.1,144.1M763.8,149.3 833.5,186.3M1170.9,365.7 1236.9,400.8M1300.8,434.8 1378.5,476.1M1378.9,476.3 1453,515.7M1456.8,517.7 1496.1,538.6M1502.8,542.1 1576.8,581.5M762.5,160.7 798.7,180M1040.7,308.6 1079.7,329.4M1237.4,413.2 1267,429M1277.3,434.5 1309,451.3M1361.3,479.1 1400.1,499.8M1465.7,534.6 1517.6,562.3M1518.4,562.7 1594.6,603.2M726.2,153.5 789.9,187.4M860.2,224.8 935.4,264.8M1018.7,309 1057.3,329.5M1120.1,363 1195.4,403M1204,407.5 1273.7,444.6M1281.5,448.8 1336.1,477.8M1384.5,503.5 1431.4,528.5M760.5,186.4 816.3,216M887.2,253.7 950.1,287.2M1135.8,385.9 1170.2,404.2M1429.8,542.2 1466.3,561.6M1515.6,587.8 1554.3,608.4M803.9,220.2 871.9,256.4M882.2,261.9 914.6,279.1M915.3,279.5 980.9,314.3M1060.2,356.5 1089.1,371.9M1090.8,372.8 1158.3,408.7M1168,413.8 1217.4,440.1M1493.4,586.8 1535.8,609.4M727.4,193.7 790.9,227.5M856.6,262.4 894.2,282.4M900.5,285.8 975.6,325.7M979.2,327.6 1051.5,366M1137.6,411.8 1215.4,453.2M1224.6,458.1 1260.8,477.4M1331.7,515 1384.8,543.3M807.1,247.7 859.2,275.4M865.7,278.9 902.2,298.3M1032.8,367.7 1086.6,396.3M1160.6,435.7 1232.2,473.8M1239.6,477.7 1301.2,510.5M737.8,222.7 787.9,249.3M794.9,253 856.3,285.7M1159,446.6 1210.5,474M1216,476.9 1256.1,498.3M1448.5,600.6 1500.9,628.4M832.9,285.4 870.3,305.4M1017.4,383.5 1055.1,403.6M1099.5,427.2 1132.6,444.8M1140.9,449.2 1168.9,464.1M1174.1,466.9 1204.6,483.1M1214,488.1 1273.6,519.8M1282.7,524.6 1342.5,556.4M1342.5,556.4 1380.1,576.4M1385.4,579.2 1422.3,598.8M1428.3,602 1493.6,636.8M1494.3,637.1 1556.1,670M780.2,271.4 853.4,310.3M1012.8,395 1061.8,421.1M1136.8,461 1198.2,493.6M1283.9,539.2 1350.3,574.5M1360.6,580 1429.6,616.7M690.7,234.6 741.3,261.5M783.7,284.1 824.2,305.6M911,351.8 945.9,370.3M1156.8,482.5 1203,507.1M1209.8,510.6 1267.4,541.2M1269.3,542.3 1315.4,566.8M1319.4,568.9 1382.2,602.3M1387.3,605 1463.3,645.4M660.8,232.8 729.5,269.3M730.6,270 801.7,307.8M803.6,308.8 849.4,333.1M901.3,360.7 932.4,377.3M1129.5,482 1175.6,506.6M1184.8,511.5 1259.1,551M1338,592.9 1402.3,627.1M1457.4,656.4 1521.4,690.4M667.9,249 724.1,278.9M780.2,308.7 829.1,334.7M923.7,385 950.7,399.4M952.4,400.3 1014.2,433.2M1016.9,434.6 1070.6,463.1M1072.3,464.1 1123.1,491M1252.6,559.9 1329.6,600.8M1333.2,602.7 1370.3,622.5M781,320.9 828,345.9M1277.2,584.7 1355.2,626.2M1469.4,686.9 1541,725M656.7,267.7 693.1,287M694.1,287.6 768.1,326.9M844.7,367.6 880.4,386.6M941.8,419.3 969.2,433.9M969.8,434.2 1036.4,469.6M1085.4,495.6 1137.5,523.3M1142,525.7 1173.8,542.6M1333.4,627.5 1408.4,667.4M1410.9,668.7 1458.7,694.1M1459.4,694.5 1501.6,716.9M643.3,273.2 715.6,311.6M772.1,341.6 807.9,360.7M956.2,439.5 1017.2,472M1146.1,540.5 1193.8,565.9M1382.3,666.1 1442.2,697.9M1451,702.6 1525.9,742.4M635.5,281.5 688.2,309.5M808.2,373.3 847.2,394M1002.2,476.5 1073,514.1M659.9,306.3 725.9,341.4M810.7,386.5 853.1,409M859.3,412.3 938.7,454.5M1021.9,498.8 1052.1,514.8M1122.3,552.1 1199.9,593.4M1203,595.1 1274.1,632.9M1283.8,638 1325.9,660.4M637.7,306.2 669.3,323M806.5,395.9 847.7,417.8M852.7,420.5 902.8,447.2M983.4,490 1043.6,522M1139.5,573 1204.5,607.6M1264.4,639.4 1324.7,671.5M1009.9,516.2 1087.3,557.3M1213.6,624.5 1267.1,652.9M1272.4,655.8 1305.2,673.2M626.4,326.4 698.4,364.6M703.1,367.2 759.9,397.3M760.5,397.6 835.4,437.5M837.1,438.4 871.8,456.8M881.7,462.1 929.2,487.4M996.6,523.2 1050,551.6M1117.4,587.4 1150.8,605.2M1288.2,678.3 1328.8,699.8M1336.7,704 1365.6,719.4M1374,723.9 1413,744.6M638.5,344.9 698.1,376.6M813.7,438.1 875.4,470.9M883.6,475.2 916.1,492.5M922.1,495.7 954.3,512.8M1063.1,570.7 1104.5,592.7M1228.8,658.8 1300.3,696.8M1300.4,696.8 1351.9,724.2M1359.8,728.4 1418.2,759.5M1427.2,764.3 1506.6,806.5M632.8,355.1 709.3,395.7M717.8,400.3 764.8,425.3M772.5,429.4 829.9,459.9M835.3,462.7 904,499.3M984.5,542.1 1060.8,582.6M1068.3,586.6 1102.7,604.9M1238.8,677.3 1303.9,711.9M1344.6,733.6 1401.1,763.6M622.3,360.2 684,392.9M684.7,393.3 732.7,418.9M737.2,421.3 798,453.6M844.6,478.4 910.9,513.6M916.1,516.4 978.2,549.4M981.6,551.2 1031.9,578M1041.5,583 1092.3,610M1102.2,615.3 1138.4,634.6M1147.2,639.2 1212.5,674M1219.7,677.8 1271.9,705.6M1273.4,706.4 1317.2,729.6M1326.6,734.6 1380.1,763.1M1384,765.1 1435.1,792.3M600.1,362 647.7,387.3M650.4,388.8 723.9,427.8M727.7,429.9 801.9,469.3M807.8,472.5 849.5,494.6M851.7,495.8 891.6,517M899.6,521.3 928.7,536.7M932.1,538.5 1009.8,579.9M1018.7,584.6 1057.6,605.3M1177.3,668.9 1216.4,689.7M1225,694.3 1289.7,728.7M1340.4,755.6 1379.4,776.4M617.9,384.5 661.4,407.6M712.2,434.7 755.7,457.8M827.3,495.9 867.3,517.1M1048.9,613.7 1103.4,642.6M1153,669 1188,687.6M1190.4,688.9 1216.9,703M1274.9,733.8 1322.1,759M616.3,396.1 676.1,427.9M838.1,514 903.8,549M905.2,549.7 955,576.2M963.5,580.7 1009.3,605M1259.1,737.9 1286,752.2M1287.6,753 1360.9,792M591.8,395.2 633.6,417.4M705.9,455.8 753.9,481.4M820.3,516.7 897.8,557.8M950,585.6 1002.3,613.4M1008.8,616.9 1041,634M1184.7,710.4 1231.4,735.2M1236.3,737.9 1286.7,764.6M1286.8,764.7 1319.2,781.9M1324.3,784.6 1364.5,806M578.8,401.4 643.5,435.9M844.2,542.6 888.1,565.9M895.3,569.7 944.7,596M948.9,598.3 1013.1,632.4M1059,656.8 1087.7,672M1341.5,807 1387,831.2M1392.3,834 1441,859.9M658.4,453.9 694,472.9M769.9,513.2 798,528.2M981.7,625.8 1048,661.1M1053.8,664.2 1088.1,682.4M1093.9,685.5 1155.2,718.1M1164.6,723.1 1232.1,759M1241.7,764 1291.2,790.4M1296.1,793 1352.5,823M591.3,431.6 643.5,459.4M650.2,462.9 726,503.2M1092.9,698.3 1135.5,720.9M1192.8,751.5 1245.3,779.3M1250.1,781.9 1304,810.6M1312.5,815.1 1380.7,851.3M630.5,464.7 672.1,486.8M894,604.8 921.4,619.4M922.4,619.9 958,638.8M1024.5,674.2 1097.1,712.8M1209.3,772.5 1249,793.6M574.2,448.1 615.9,470.2M617,470.8 660.2,493.8M778.8,556.9 832.6,585.5M841.6,590.3 874.9,607.9M883.6,612.6 947.7,646.7M1020.8,685.5 1048.3,700.1M1052.1,702.2 1082,718.1M1082,718.1 1139.6,748.7M1141.2,749.6 1188.5,774.7M1332.3,851.2 1409.7,892.3M556.1,449.3 629.9,488.6M636.3,491.9 664,506.7M822.7,591.1 866.2,614.2M920.9,643.3 998.9,684.8M1000.8,685.7 1073.1,724.2M1079.3,727.5 1158.4,769.6M1167.8,774.6 1225.6,805.3M1315.2,852.9 1382.5,888.7M694.2,536.1 768.9,575.8M777.7,580.4 807.8,596.5M809.6,597.4 863.9,626.3M1012.4,705.2 1053.1,726.9M1095.3,749.3 1165.5,786.7M1237.4,824.9 1303.1,859.8M1310.2,863.6 1372.3,896.6M563.2,479.4 609.6,504M684.6,543.9 749.1,578.2M815.1,613.3 844.1,628.7M847.1,630.3 893.2,654.8M895.3,655.9 973.2,697.4M981.3,701.7 1030.2,727.7M1164.9,799.3 1203.9,820M1307.5,875.1 1370.4,908.5M808.7,622.8 864.4,652.3M927.5,685.9 996.1,722.4M1040.8,746.1 1080.9,767.5M537.7,489.7 576.2,510.2M696.9,574.4 759.5,607.7M819.6,639.6 850.4,656M855.9,658.9 894.9,679.7M899.8,682.2 954.6,711.4M1124.9,802 1187.3,835.1M1257.2,872.3 1301.8,896M525.2,497.2 570.5,521.3M575.8,524.2 644.4,560.6M649.2,563.2 692.5,586.2M757.1,620.5 829.3,659M832.2,660.5 906.1,699.8M910.2,702 963.3,730.2M1041,771.5 1083.1,793.9M1181.2,846.1 1260.5,888.2M1263.9,890 1315.8,917.6M521.7,506.9 589.5,542.9M596.2,546.5 644.5,572.2M649.6,574.9 684.1,593.2M797.4,653.5 859.4,686.4M1042.8,784 1110,819.7M1119.1,824.5 1154.4,843.3M1233.1,885.1 1281.2,910.7M1284.4,912.4 1348.2,946.3M523.2,520.8 574.7,548.1M778,656.2 851.3,695.2M861.3,700.5 939.7,742.2M1014.3,781.8 1073.8,813.5M1084.1,819 1123,839.7M1308.5,938.3 1366.2,969M530.7,536.9 562.4,553.8M566.8,556.1 627.8,588.5M634.2,591.9 674.3,613.3M723.1,639.2 770.2,664.3M773.9,666.2 824.1,692.9M995,783.8 1044.6,810.2M520.2,542.7 595.8,582.9M687.2,631.5 759.3,669.9M931.3,761.3 990.5,792.8M1041.1,819.7 1070.8,835.5M1123.4,863.5 1164.6,885.4M522.3,556.3 583.5,588.9M668.7,634.2 740.5,672.4M782.8,694.9 813.2,711M872,742.3 928.2,772.2M994.6,807.5 1025.1,823.7M1099.6,863.3 1159.5,895.2M1242.1,939.1 1312.3,976.4M659.1,642.6 697.6,663.1M786.5,710.4 830.2,733.6M906.1,774 978.7,812.6M979.1,812.8 1007.1,827.7M1123.4,889.5 1197.5,928.9M1199.9,930.2 1242,952.6M1292.8,979.6 1346,1007.9M556,600 609.5,628.4M613.1,630.3 686,669.1M694,673.4 761.9,709.5M762.6,709.8 823.3,742.1M831.2,746.3 904,785M968.8,819.5 1005.3,838.9M1062.5,869.3 1115,897.2M1272.5,980.9 1337.5,1015.5M501.7,584.6 569.5,620.6M712.4,696.6 741.7,712.2M743,712.9 798.2,742.2M885.7,788.8 952.8,824.4M953.4,824.7 987.3,842.8M991.9,845.2 1067.4,885.4M1073.4,888.6 1150.2,929.4M1155.1,932 1221.5,967.3M1224.7,969 1288.2,1002.8M1297.2,1007.6 1362.5,1042.3M622.9,661.6 691.5,698.1M691.9,698.3 754.2,731.4M842.5,778.4 884.7,800.8M947.1,834 977.5,850.1M1042.8,884.9 1084.3,906.9M1092.6,911.3 1131.6,932.1M1140.6,936.9 1219.7,978.9M662.2,692.7 702.5,714.2M770.4,750.3 826.8,780.3M831.1,782.5 866.6,801.4M876,806.5 943.6,842.4M1087.4,918.8 1150.8,952.5M1238.5,999.2 1297.9,1030.7M486.5,613 558.4,651.2M688.6,720.4 763.7,760.4M836.5,799.1 871.9,817.9M998.7,885.3 1077.4,927.2M473.3,618.8 503,634.6M508.5,637.5 537.6,653M589,680.4 666.5,721.6M729.9,755.2 768.4,775.7M772.5,777.9 812.8,799.3M869.2,829.3 942.3,868.2M1019.7,909.4 1087.7,945.5M1096.5,950.2 1162.5,985.3M1165.9,987.1 1200.5,1005.5M1269.8,1042.3 1319.7,1068.9M514.5,652.1 564.9,678.9M658.9,728.9 721.1,762M876.8,844.8 943.7,880.4M986.2,903 1042.5,932.9M1150.6,990.4 1199.8,1016.6M1262.4,1049.8 1308.5,1074.4M584.2,703.4 614.5,719.5M622.1,723.5 699.4,764.6M706.7,768.5 739.8,786.1M967.6,907.2 1031,940.9M1034.7,942.9 1094.9,974.9M1240.3,1052.2 1315.2,1092M457.3,647.3 517.6,679.4M578.8,711.9 616.4,731.9M626.1,737.1 702.1,777.5M709.9,781.6 776.2,816.9M970.4,920.2 1026.9,950.2M1083.8,980.5 1145.8,1013.4M1151.1,1016.2 1229,1057.6M1229.1,1057.7 1299.3,1095.1M466.7,665.6 545.1,707.3M624.6,749.6 653.4,764.9M654,765.2 708.2,794M716.2,798.3 747.6,815M837.2,862.6 897.7,894.8M1069.1,985.9 1110.1,1007.7M1120.1,1013.1 1160.7,1034.6M1161.3,1035 1210.5,1061.1M434.4,660.5 483.6,686.6M647.8,773.9 724.7,814.8M863.2,888.5 894.2,904.9M982.6,952 1022.3,973.1M1108,1018.6 1162,1047.4M1214.6,1075.3 1249.5,1093.9M1251.4,1094.9 1285.7,1113.1M448.6,679.6 497.6,705.6M588.9,754.2 621.3,771.4M628.3,775.1 687.5,806.6M688,806.9 753.5,841.7M761,845.7 798.5,865.6M807.9,870.6 843.2,889.4M846.9,891.3 910.7,925.3M974.6,959.2 1004.6,975.2M1004.8,975.3 1051.2,1000M1205.7,1082.1 1259.6,1110.8M427.1,680.8 503.5,721.4M624.9,786 652.1,800.5M702.8,827.4 738.5,846.4M885.9,924.8 923.5,944.8M930.5,948.5 1007.8,989.6M1129.4,1054.2 1192.3,1087.7M513.7,740.6 564.7,767.7M688.2,833.4 732.5,856.9M738.6,860.2 767.6,875.6M767.7,875.7 837.9,913M953.1,974.2 1027.1,1013.6M1095,1049.7 1171.7,1090.5M1241.2,1127.4 1295.3,1156.2M435,710.5 486.2,737.7M551.8,772.6 624.5,811.2M630.2,814.2 681,841.3M686.6,844.2 717.5,860.7M755.7,881 788.2,898.3M791.9,900.3 844.3,928.1M852.3,932.4 885.1,949.8M892.3,953.6 946.4,982.4M430.9,720.7 468.8,740.8M717.2,872.9 780.4,906.5M785.5,909.3 816.5,925.8M819.8,927.5 882.5,960.9M958,1001 986.8,1016.3M996.9,1021.7 1058.7,1054.5M1096.7,1074.7 1143.2,1099.4M1147.9,1102 1186.8,1122.6M1195.3,1127.2 1233.9,1147.7M658.2,854.6 735.2,895.5M736.6,896.2 779.7,919.2M784.1,921.5 817.2,939.1M818.3,939.7 893.6,979.7M1048.5,1062.1 1125.9,1103.3M1133.1,1107.1 1180.1,1132M1189.3,1136.9 1218,1152.2M1221,1153.8 1253.5,1171.1M423.4,740 474.4,767.1M481.8,771 536.1,799.9M541.4,802.7 606,837.1M689.7,881.6 729,902.5M729.9,903 802.4,941.5M803.2,941.9 845.7,964.6M847,965.2 923.3,1005.8M924.9,1006.6 960.8,1025.7M1085.7,1092.2 1165.1,1134.4M1170.4,1137.2 1246.3,1177.6M488.3,788.4 522.3,806.5M527.7,809.3 600.5,848.1M603.9,849.9 660.1,879.7M667.2,883.5 723.7,913.6M732.5,918.2 797.2,952.6M805.1,956.8 845.5,978.3M1013.1,1067.4 1056.1,1090.3M1058.9,1091.8 1109.9,1118.9M1200.8,1167.2 1254.5,1195.8M588,852.8 666.3,894.4M673,898 733.8,930.3M736.4,931.7 783.2,956.6M905,1021.3 949.1,1044.7M1032.9,1089.3 1107.8,1129.1M398.9,766.8 463.4,801.1M465.3,802.1 492.2,816.4M538.3,840.9 577,861.5M580.1,863.1 620.3,884.5M732.6,944.3 799.6,979.8M843.8,1003.3 886.1,1025.8M981.3,1076.5 1059.7,1118.2M1170.2,1176.9 1205.9,1195.9" stroke="#404040" stroke-width="4" stroke-linecap="round" fill="none"/></g></g></g>
<g clip-path="url(#shb)"><g mask="url(#rb19)"><g transform="rotate(-38 998.8 716.2)"><rect x="398.8" y="116.2" width="1200" height="1200" filter="url(#nb19)"/></g></g></g>
<g clip-path="url(#shb)"><g mask="url(#rb20)"><g transform="rotate(35 998.8 716.2)"><rect x="398.8" y="116.2" width="1200" height="1200" filter="url(#nb20)"/></g></g></g>
<g filter="url(#b6_9)" clip-path="url(#shb)"><path d="M812,1128C821,1123.5 849.3,1116.2 866,1101C882.7,1085.8 899.7,1053.8 912,1037C924.3,1020.2 932,1010.3 940,1000C948,989.7 956.7,979.2 960,975" fill="none" stroke="#cccccc" stroke-width="29.7" stroke-linecap="round" stroke-linejoin="round"/></g>
<g filter="url(#b5_8)" clip-path="url(#shb)"><path d="M812,1200C821.7,1191.7 851.8,1165 870,1150C888.2,1135 907.8,1121.2 921,1110C934.2,1098.8 944.3,1087.5 949,1083" fill="none" stroke="#9e9e9e" stroke-width="16.2" stroke-linecap="round" stroke-linejoin="round"/></g>
<g filter="url(#b8)" clip-path="url(#shb)"><ellipse cx="950" cy="1055" rx="16" ry="30" fill="#404040" transform="rotate(20 950 1055)"/></g>
<g filter="url(#b12)" clip-path="url(#shb)" opacity="0.8"><path d="M1115,990C1110.8,995 1101.7,1006.7 1090,1020C1078.3,1033.3 1060.8,1052.5 1045,1070C1029.2,1087.5 1010.8,1106.7 995,1125C979.2,1143.3 962.5,1160.8 950,1180C937.5,1199.2 925,1230 920,1240" fill="none" stroke="#404040" stroke-width="56" stroke-linecap="round" stroke-linejoin="round"/></g>
<g filter="url(#b2_5)"><path d="M812.5,573.1 816.8,575 821.1,577.5 825.5,580.6 830,584.2 834.3,588.2 838.6,592.7 842.7,597.5 846.5,602.7 850.1,608.1 853.4,613.8 856.3,619.7 858.8,625.8 860.9,632 862.6,638.2 864.2,644.3 865.7,650.2 867.5,655.8 869.5,661 872.1,665.8 875.2,669.8 879,673 883.5,675.3 888.8,676.4 894.7,676.6 900.9,676.4 907.1,676.3 913.3,676.5 919.3,677 925.2,677.8 930.9,678.8 936.6,680.2 942.1,681.8 947.5,683.7 952.7,685.9 957.9,688.2 962.9,690.9 967.8,693.7 972.5,696.8 977.2,700.1 981.7,703.6 986,707.3 990.3,711.1 994.4,715.2 998.3,719.4 1002.1,723.8 1005.8,728.4 1009.4,733.1 1012.8,737.9 1016.1,742.9 1019.2,748 1022.2,753.2 1025,758.5 1027.7,763.9 1030.3,769.4 1032.7,775 1035,780.7 1037.1,786.5 1039.1,792.3 1040.9,798.1 1042.6,804 1044.1,810 1045.4,815.9 1046.6,821.9 1047.7,827.9 1048.6,833.9 1049.3,839.9 1049.9,845.9 1050.3,851.9 1050.6,857.8 1050.5,863.6 1050.1,869.3 1049,874.6 1047.2,879.6 1044.4,884.1 1040.7,888.1 1036.3,891.8 1031.4,895.2 1026.2,898.5 1020.9,901.8 1015.9,905.3 1011.2,909.1 1006.9,913.1 1002.9,917.4 999.1,921.8 995.5,926.4 991.9,931.2 988.3,936 984.6,940.9 980.8,945.8 976.9,950.7 972.8,955.4 968.5,959.8 964.1,963.9 959.6,967.6 954.9,970.7 950,973.3 945,975.1 939.8,976.1 934.5,976.2 929,975.4 923.4,973.8 917.6,971.6 911.7,968.9 905.7,966 899.6,963.1 893.5,960.3 887.3,957.8 881.1,955.8 875.1,954.3 869.3,953.6 863.8,953.7 858.7,954.8 854.1,956.9 850,960.3 846.4,964.6 843.1,969.7 840,975.1 836.9,980.8 833.9,986.4 831,992 828.1,997.4 825.2,1002.5 822.3,1007.3 819.5,1011.5 816.7,1015.1 813.9,1018 811.2,1020.3 808.5,1021.9 805.9,1022.9 803.3,1023.3 800.7,1023.2 798.1,1022.4 795.6,1021.1 793.2,1019.3 790.8,1016.9 788.4,1014.1 786.1,1010.7 783.9,1006.9 781.6,1002.6 779.5,997.9 777.4,992.8 775.3,987.3 773.4,981.4 771.4,975.1 769.6,968.5 767.8,961.6 766,954.3 764.3,946.8 762.7,938.9 761.2,930.8 759.7,922.5 758.3,913.9 757,905.2 755.8,896.2 754.6,887.1 753.5,877.8 752.5,868.3 751.6,858.7 750.8,849.1 750,839.3 749.4,829.5 748.8,819.6 748.3,809.6 747.9,799.7 747.6,789.7 747.4,779.8 747.3,769.8 747.3,760 747.4,750.2 747.5,740.4 747.8,730.8 748.2,721.3 748.7,711.9 749.3,702.7 750.1,693.6 750.9,684.8 751.8,676.1 752.9,667.6 754.1,659.4 755.4,651.4 756.8,643.7 758.3,636.3 760,629.2 761.7,622.5 763.6,616 765.7,609.9 767.8,604.2 770.1,598.9 772.5,594 775.1,589.5 777.8,585.4 780.6,581.9 783.6,578.7 786.7,576.1 789.9,574 793.3,572.4 796.9,571.4 800.5,570.9 804.4,571 808.3,571.7 812.5,573.1Z" fill="#ffffff"/></g>
<g filter="url(#b2_5)"><path d="M1045,876 1012,890 990,935 976,1000 998,955 1030,905Z" fill="#ffffff"/></g>
<g filter="url(#b4)" clip-path="url(#shb)"><path d="M990,700C995,702.5 1010,708.3 1020,715C1030,721.7 1040,730.8 1050,740C1060,749.2 1075,765 1080,770" fill="none" stroke="#e6e6e6" stroke-width="14" stroke-linecap="round" stroke-linejoin="round"/></g>
<g filter="url(#b4)" clip-path="url(#shb)"><path d="M1040,870C1043.3,873.3 1053.3,881.7 1060,890C1066.7,898.3 1076.7,915 1080,920" fill="none" stroke="#d9d9d9" stroke-width="12" stroke-linecap="round" stroke-linejoin="round"/></g>
<g filter="url(#b4)" clip-path="url(#shb)"><path d="M975,985C978.3,980.8 988.3,970.8 995,960C1001.7,949.2 1011.7,926.7 1015,920" fill="none" stroke="#e6e6e6" stroke-width="12" stroke-linecap="round" stroke-linejoin="round"/></g>
<g filter="url(#b5)"><path d="M812,575C814.2,579.2 821.2,590.8 825,600C828.8,609.2 833.3,625 835,630" fill="none" stroke="#e6e6e6" stroke-width="18" stroke-linecap="round" stroke-linejoin="round"/></g>
<g filter="url(#b4)"><path d="M845,600C847.5,605 854.2,620.8 860,630C865.8,639.2 876.7,650.8 880,655" fill="none" stroke="#cccccc" stroke-width="10" stroke-linecap="round" stroke-linejoin="round"/></g>
<g filter="url(#b3)"><path d="M848.6,649.8 851.3,649.9 855.1,652 859.7,655.1 865.2,658.5 871.1,661.6 877.2,664.4 883.1,666.9 888.5,669.2 892.8,671.4 895.7,673.7 896.8,676.3 895.7,679.3 892.7,682.4 888.4,685.3 883,687.9 877.1,689.7 871,690.6 865.3,690.3 860.2,688.4 856.1,685.1 852.8,680.5 850.2,674.9 848.3,668.8 847,662.4 846.5,656.7 847,652.2 848.6,649.8Z" fill="#737373"/></g>
<g filter="url(#b2)"><ellipse cx="855" cy="655" rx="4" ry="8" fill="#333333" transform="rotate(-20 855 655)"/></g>
<g filter="url(#b1)"><ellipse cx="884" cy="674" rx="6" ry="3.5" fill="#0d0d0d" transform="rotate(20 884 674)"/></g>
<g filter="url(#b2)"><path d="M852,960C850.3,964.2 844,977.5 842,985C840,992.5 839,997.5 840,1005C841,1012.5 846,1023.3 848,1030C850,1036.7 851.3,1042.5 852,1045" fill="none" stroke="#141414" stroke-width="6" stroke-linecap="round" stroke-linejoin="round"/></g>
<g filter="url(#b1_2)"><ellipse cx="885" cy="977" rx="6" ry="4" fill="#141414" transform="rotate(0 885 977)"/></g>
<g filter="url(#b0_7)"><path d="M1114,1002C1109,1007 1094.8,1018.7 1084,1032C1073.2,1045.3 1061.3,1065.7 1049,1082C1036.7,1098.3 1024.5,1112.8 1010,1130C995.5,1147.2 976.2,1167 962,1185C947.8,1203 931.2,1229.2 925,1238" fill="none" stroke="#0f0f0f" stroke-width="2" stroke-linecap="round" stroke-linejoin="round"/></g>
<g filter="url(#b0_5)"><path d="M884,674C887.5,675.5 896.5,678.7 905,683C913.5,687.3 924.2,691.3 935,700C945.8,708.7 960.5,721.7 970,735C979.5,748.3 987.7,765.8 992,780C996.3,794.2 995.8,808.3 996,820C996.2,831.7 996.4,835.8 993,850C989.6,864.2 983.4,889.5 975.5,905C967.6,920.5 956.7,932.9 945.4,943C934.1,953.1 917.9,959.7 907.8,965.5C897.7,971.3 888.8,975.9 885,978" fill="none" stroke="#050505" stroke-width="2.4" stroke-linecap="round" stroke-linejoin="round"/></g>
<path d="M877.2,193.9 881.1,198.5 885,203.1 888.8,207.8 892.5,212.5 896.2,217.3 899.9,222 903.4,226.8 907,231.7 910.5,236.5 914,241.4 917.4,246.3 920.8,251.2 924.1,256.2 927.5,261.1 930.8,266.1 934.1,271 937.4,276 940.7,281 944,286 947.3,291 950.6,296 953.9,300.9 957.2,305.9 960.5,310.9 963.8,315.9 967.1,320.8 970.5,325.7 973.9,330.7 977.3,335.6 980.8,340.4 984.3,345.3 987.8,350.2 991.3,355 994.8,359.8 998.4,364.7 1001.9,369.5 1005.5,374.3 1009,379.2 1012.5,384 1016,388.9 1019.4,393.8 1022.9,398.6 1026.2,403.6 1029.6,408.5 1032.9,413.5 1036.1,418.5 1039.3,423.5 1042.4,428.6 1045.5,433.7 1048.4,438.9 1051.3,444.1 1054.1,449.4 1056.8,454.7 1059.4,460.1 1061.9,465.6 1064.4,471 1066.9,476.4 1069.5,481.9 1072.1,487.2 1074.8,492.5 1077.7,497.7 1080.7,502.7 1084,507.6 1087.5,512.4 1091.1,517.1 1094.7,521.8 1098.3,526.6 1101.9,531.4 1105.3,536.3 1108.6,541.3 1111.7,546.4 1114.5,551.6 1117.1,556.9 1119.4,562.3 1121.5,567.9 1123.4,573.5 1125.2,579.2 1126.8,584.9 1128.4,590.7 1129.8,596.5 1131.2,602.4 1132.7,608.2 1134.1,614.1 1135.5,619.9 1137.1,625.8 1138.7,631.5 1140.4,637.3 1142.1,643 1143.9,648.7 1145.7,654.4 1147.5,660.1 1149.3,665.8 1151.1,671.4 1152.8,677.1 1154.4,682.8 1156,688.6 1157.4,694.3 1158.8,700.1 1160,705.9 1161,711.8 1162,717.7 1162.8,723.6 1163.5,729.5 1164,735.5 1164.5,741.5 1164.8,747.5 1165.1,753.5 1165.3,759.5 1165.3,765.5 1165.3,771.5 1165.3,777.5 1165.1,783.6 1164.9,789.6 1164.6,795.6 1164.2,801.5 1163.8,807.5 1163.3,813.5 1162.7,819.5 1162.1,825.4 1161.3,831.4 1160.5,837.3 1159.7,843.2 1158.7,849.1 1157.7,855 1156.6,860.9 1155.5,866.7 1154.2,872.6 1152.9,878.4 1151.5,884.2 1150,890 1148.5,895.7 1146.9,901.5 1145.2,907.2 1143.4,912.9 1141.5,918.6 1139.6,924.3 1137.6,929.9 1135.5,935.5 1133.4,941.1 1131.3,946.7 1129.1,952.3 1127.1,958 1125.1,963.6 1123.1,969.3 1121.3,975 1119.7,980.8 1118.1,986.6 1116.5,992.3 1114.5,997.8" fill="none" stroke="#808080" stroke-width="1.6" filter="url(#b0_6)"/>
</g>
<circle cx="820.5" cy="821" r="94" fill="#fff"/>
</g>
<g clip-path="url(#clipc)"><g filter="url(#plasma)">
<rect x="1476" y="189" width="364.5" height="1054.5" fill="#000"/>
<g><g mask="url(#rc0)"><g filter="url(#wc0)"><path d="M1392.5,1004.4 1436.3,979.1M1471.6,1011.6 1517,985.4M1546.6,968.3 1590.3,943.1M1634.1,917.8 1672.4,895.7M1770,839.4 1826,807M1432.9,1088.6 1504.7,1047.2M1551.3,1020.2 1588.7,998.7M1740,951.8 1779.2,929.2M1565.9,1112.8 1634.1,1073.4M1860.9,942.5 1918.5,909.2M1723.2,1073.1 1798.9,1029.4M1894.8,974 1927.9,954.9M1642.3,1159.3 1677.7,1138.8M1728.4,1178.7 1757.2,1162.1M1785.2,1145.9 1843,1112.5M1583,1289.5 1634.5,1259.8M1794.8,1167.2 1824.1,1150.3M1941.3,1082.6 1989.9,1054.6M1613.4,1344.1 1654.3,1320.5M1892.3,1183.1 1969.1,1138.8M1671.4,1358.3 1717.3,1331.8M1761.8,1306.1 1833.5,1264.7M1871.2,1242.9 1922,1213.6" stroke="#141414" stroke-width="18" stroke-linecap="round" fill="none"/><path d="M1467,961.3 1525,927.9M1667.3,845.7 1743.5,801.7M1785.9,777.3 1812.3,762M1721.4,867.4 1749.3,851.3M1609.8,986.5 1657.4,959M1784.3,885.7 1858.2,843.1M1443.1,1123.3 1509.6,1084.9M1830.6,899.5 1885.6,867.8M1667.9,1053.9 1735.6,1014.8M1784.7,986.5 1812.4,970.5M1634.5,1124.3 1671.4,1103M1578.4,1196.2 1623.6,1170.1M1724,1112.1 1760.4,1091.1M1878.8,1091.8 1933.4,1060.3M1653.6,1248.7 1685.5,1230.3M1715.1,1213.2 1756.8,1189.1M1845.5,1137.9 1895.5,1109.1M1750.1,1265.2 1793.3,1240.3M1811.4,1229.8 1842.4,1211.9M1607.1,1395.4 1635.2,1379.2M1966.7,1187.8 2022.8,1155.4" stroke="#1c1c1c" stroke-width="18" stroke-linecap="round" fill="none"/><path d="M1565.1,904.7 1640.9,861M1408.5,1048.1 1453.1,1022.3M1698.1,935.5 1739,911.9M1559.7,1056 1612.6,1025.4M1651,1003.3 1709.5,969.4M1473.8,1166 1539.3,1128.1M1521.7,1189.4 1597.2,1145.9M1822.6,1015.7 1873,986.6M1520.7,1229.5 1546.7,1214.5M1796,1070.5 1851.3,1038.6M1892.7,1014.7 1927.8,994.5M1548.8,1282.4 1620.4,1241.1M1662.4,1216.8 1708,1190.5M1688.6,1300.7 1720.5,1282.2M2005.3,1117.9 2067.4,1082" stroke="#171717" stroke-width="18" stroke-linecap="round" fill="none"/></g></g></g>
<g clip-path="url(#shc)"><rect x="1476" y="189" width="364.5" height="1054.5" fill="#666666"/></g>
<g filter="url(#b16)" clip-path="url(#shc)"><path d="M1810,900C1801.7,915 1778.3,958.3 1760,990C1741.7,1021.7 1720,1058.3 1700,1090C1680,1121.7 1656.7,1153.3 1640,1180C1623.3,1206.7 1606.7,1238.3 1600,1250" fill="none" stroke="#3d3d3d" stroke-width="80" stroke-linecap="round" stroke-linejoin="round"/></g>
<g filter="url(#b20)" clip-path="url(#shc)"><ellipse cx="1560" cy="1150" rx="70" ry="90" fill="#5c5c5c" transform="rotate(0 1560 1150)"/></g>
<g clip-path="url(#shc)"><g mask="url(#rc4)"><g transform="rotate(-8 1658.2 716.2)"><rect x="1058.2" y="116.2" width="1200" height="1200" filter="url(#nc4)"/></g></g></g>
<g filter="url(#b4)" clip-path="url(#shc)"><path d="M1488,200C1490,206.7 1495.7,225.3 1500,240C1504.3,254.7 1511.7,280 1514,288" fill="none" stroke="#b2b2b2" stroke-width="12" stroke-linecap="round" stroke-linejoin="round"/></g>
<g filter="url(#b5)" clip-path="url(#shc)"><ellipse cx="1508" cy="275" rx="10" ry="16" fill="#adadad" transform="rotate(0 1508 275)"/></g>
<g filter="url(#b4)" clip-path="url(#shc)"><path d="M1514,226C1518.3,226.7 1532,228.3 1540,230C1548,231.7 1558.3,235 1562,236" fill="none" stroke="#949494" stroke-width="9" stroke-linecap="round" stroke-linejoin="round"/></g>
<g filter="url(#b4)" clip-path="url(#shc)"><path d="M1562,273C1564.3,275.5 1571.3,283 1576,288C1580.7,293 1587.7,300.5 1590,303" fill="none" stroke="#a1a1a1" stroke-width="10" stroke-linecap="round" stroke-linejoin="round"/></g>
<g filter="url(#b3_5)" clip-path="url(#shc)"><path d="M1571,309C1571.2,315 1571.7,333.3 1572,345C1572.3,356.7 1573,368.2 1573,379C1573,389.8 1571.8,399.8 1572,410C1572.2,420.2 1573.7,435 1574,440" fill="none" stroke="#b2b2b2" stroke-width="10" stroke-linecap="round" stroke-linejoin="round"/></g>
<g filter="url(#b3_5)" clip-path="url(#shc)"><path d="M1635,360C1635.5,366.7 1636.8,386.7 1638,400C1639.2,413.3 1641.2,428.3 1642,440C1642.8,451.7 1642.8,465 1643,470" fill="none" stroke="#b2b2b2" stroke-width="10" stroke-linecap="round" stroke-linejoin="round"/></g>
<g filter="url(#b4)" clip-path="url(#shc)"><path d="M1610,230C1613.3,233.3 1626.7,246.7 1630,250" fill="none" stroke="#8c8c8c" stroke-width="8" stroke-linecap="round" stroke-linejoin="round"/></g>
<g filter="url(#b4)" clip-path="url(#shc)"><path d="M1600,270C1601.7,275 1607.5,290 1610,300C1612.5,310 1614.2,325 1615,330" fill="none" stroke="#858585" stroke-width="7" stroke-linecap="round" stroke-linejoin="round"/></g>
<g filter="url(#b4)" clip-path="url(#shc)"><path d="M1670,330C1670.8,335 1673.3,348.3 1675,360C1676.7,371.7 1679.2,393.3 1680,400" fill="none" stroke="#8c8c8c" stroke-width="7" stroke-linecap="round" stroke-linejoin="round"/></g>
<g filter="url(#b5)" clip-path="url(#shc)"><path d="M1490,400C1491.7,405 1496.7,420 1500,430C1503.3,440 1508.3,455 1510,460" fill="none" stroke="#999999" stroke-width="9" stroke-linecap="round" stroke-linejoin="round"/></g>
<g filter="url(#b4)" clip-path="url(#shc)"><path d="M1705,420C1705.8,426.7 1708.3,446.7 1710,460C1711.7,473.3 1714.2,493.3 1715,500" fill="none" stroke="#8c8c8c" stroke-width="7" stroke-linecap="round" stroke-linejoin="round"/></g>
<g filter="url(#b4)" clip-path="url(#shc)"><path d="M1680,480C1682,486.7 1688.7,509.2 1692,520C1695.3,530.8 1698.7,540.8 1700,545" fill="none" stroke="#999999" stroke-width="8" stroke-linecap="round" stroke-linejoin="round"/></g>
<g filter="url(#b6)" clip-path="url(#shc)"><ellipse cx="1545" cy="323" rx="17" ry="20" fill="#474747" transform="rotate(0 1545 323)"/></g>
<g filter="url(#b6)" clip-path="url(#shc)"><ellipse cx="1600" cy="343" rx="18" ry="20" fill="#4c4c4c" transform="rotate(0 1600 343)"/></g>
<g filter="url(#b6)" clip-path="url(#shc)"><ellipse cx="1606" cy="408" rx="16" ry="15" fill="#4c4c4c" transform="rotate(0 1606 408)"/></g>
<g filter="url(#b5)" clip-path="url(#shc)"><ellipse cx="1486" cy="298" rx="8" ry="15" fill="#4c4c4c" transform="rotate(0 1486 298)"/></g>
<g filter="url(#b5)" clip-path="url(#shc)"><ellipse cx="1520" cy="210" rx="15" ry="8" fill="#525252" transform="rotate(0 1520 210)"/></g>
<g filter="url(#b6)" clip-path="url(#shc)"><ellipse cx="1530" cy="430" rx="14" ry="18" fill="#575757" transform="rotate(0 1530 430)"/></g>
<g filter="url(#b6)" clip-path="url(#shc)"><ellipse cx="1660" cy="300" rx="10" ry="25" fill="#575757" transform="rotate(0 1660 300)"/></g>
<g filter="url(#b8)" clip-path="url(#shc)"><path d="M1596,176C1610,196 1653.8,254.3 1680,296C1706.2,337.7 1732.5,382.7 1753,426C1773.5,469.3 1790.7,514.3 1803,556C1815.3,597.7 1822.3,639.3 1827,676C1831.7,712.7 1831.7,746 1831,776C1830.3,806 1824.3,842.7 1823,856" fill="none" stroke="#6b6b6b" stroke-width="56" stroke-linecap="round" stroke-linejoin="round"/></g>
<g filter="url(#b8)" clip-path="url(#shc)"><path d="M1472.3,560.5 1476.9,558 1482.2,556.3 1487.8,555.4 1493.8,555.3 1499.9,555.8 1506,556.8 1512.1,558.3 1517.9,560.2 1523.3,562.4 1528.4,564.8 1533.2,567.4 1537.8,570.3 1542.2,573.4 1546.6,576.6 1551.1,580.1 1555.6,583.7 1560.3,587.4 1565.2,591.3 1570.2,595.3 1575.4,599.5 1580.6,603.7 1585.7,608 1590.6,612.4 1595.4,616.9 1599.9,621.4 1604,626 1607.7,630.6 1610.9,635.3 1613.5,640 1615.5,644.7 1616.8,649.3 1617.2,654 1616.8,658.6 1615.5,663.2 1613.3,667.6 1610.3,671.5 1606.7,674.8 1602.5,677.2 1597.8,678.6 1592.6,679 1587.2,678.5 1581.4,677.4 1575.5,675.7 1569.4,673.7 1563.2,671.4 1557,669 1550.8,666.6 1544.7,664.5 1538.8,662.5 1532.9,660.7 1527.1,659 1521.4,657.4 1515.8,655.9 1510.2,654.4 1504.7,652.8 1499.2,651.2 1493.7,649.6 1488.3,647.7 1483.1,645.4 1478.3,642.6 1473.9,639.2 1469.9,634.9 1466.5,629.9 1463.7,624.3 1461.4,618.3 1459.7,611.8 1458.6,605.2 1458.1,598.5 1458.2,591.9 1458.9,585.4 1460.3,579.2 1462.3,573.6 1464.9,568.5 1468.2,564.1 1472.3,560.5Z" fill="#bfbfbf"/></g>
<g clip-path="url(#shc)" opacity="0.8"><g mask="url(#rc26)"><g transform="rotate(-40 1658.2 716.2)"><rect x="1058.2" y="116.2" width="1200" height="1200" filter="url(#nc26)"/></g></g></g>
<g filter="url(#b3)" clip-path="url(#shc)"><path d="M1472,488C1479.7,493.2 1503.7,507.8 1518,519C1532.3,530.2 1544.7,542.2 1558,555C1571.3,567.8 1586.8,584.3 1598,596C1609.2,607.7 1620.5,620.2 1625,625" fill="none" stroke="#ffffff" stroke-width="22" stroke-linecap="round" stroke-linejoin="round"/></g>
<g filter="url(#b4)" clip-path="url(#shc)"><path d="M1472,540C1476.7,542 1490.3,547 1500,552C1509.7,557 1525,567 1530,570" fill="none" stroke="#d9d9d9" stroke-width="12" stroke-linecap="round" stroke-linejoin="round"/></g>
<g filter="url(#b3_5)" clip-path="url(#shc)"><path d="M1560,590C1563,592.3 1568.3,597.3 1578,604C1587.7,610.7 1604.7,620.7 1618,630C1631.3,639.3 1644.7,650 1658,660C1671.3,670 1686.5,680.2 1698,690C1709.5,699.8 1718.3,709.8 1727,719C1735.7,728.2 1746.2,740.7 1750,745" fill="none" stroke="#f2f2f2" stroke-width="16" stroke-linecap="round" stroke-linejoin="round"/></g>
<g filter="url(#b4)" clip-path="url(#shc)"><path d="M1578,585C1585,588.3 1606.7,599.2 1620,605C1633.3,610.8 1651.7,617.5 1658,620" fill="none" stroke="#4c4c4c" stroke-width="12" stroke-linecap="round" stroke-linejoin="round"/></g>
<g filter="url(#b4)" clip-path="url(#shc)"><path d="M1600,648C1606.7,652 1627,663.3 1640,672C1653,680.7 1668,692 1678,700C1688,708 1696.3,716.7 1700,720" fill="none" stroke="#616161" stroke-width="10" stroke-linecap="round" stroke-linejoin="round"/></g>
<g filter="url(#b4)" clip-path="url(#shc)"><ellipse cx="1650" cy="495" rx="16" ry="10" fill="#404040" transform="rotate(0 1650 495)"/></g>
<g filter="url(#b4)" clip-path="url(#shc)"><ellipse cx="1693" cy="520" rx="15" ry="9" fill="#404040" transform="rotate(20 1693 520)"/></g>
<g clip-path="url(#shc)"><g mask="url(#rc34)"><g transform="rotate(-35 1658.2 716.2)"><rect x="1058.2" y="116.2" width="1200" height="1200" filter="url(#nc34)"/></g></g></g>
<g filter="url(#b12)" clip-path="url(#shc)" opacity="0.8"><path d="M1700,660C1704.2,673.3 1719.2,713.3 1725,740C1730.8,766.7 1735,793.3 1735,820C1735,846.7 1730.8,876.7 1725,900C1719.2,923.3 1704.2,950 1700,960" fill="none" stroke="#adadad" stroke-width="50" stroke-linecap="round" stroke-linejoin="round"/></g>
<g filter="url(#b4)" clip-path="url(#shc)"><path d="M1670,640C1673.3,645.8 1682.7,662.7 1690,675C1697.3,687.3 1710,707.5 1714,714" fill="none" stroke="#f2f2f2" stroke-width="18" stroke-linecap="round" stroke-linejoin="round"/></g>
<g filter="url(#b3)" clip-path="url(#shc)"><path d="M1736,720C1737.5,723.3 1742.2,734 1745,740C1747.8,746 1751.7,753.3 1753,756" fill="none" stroke="#f7f7f7" stroke-width="13" stroke-linecap="round" stroke-linejoin="round"/></g>
<g filter="url(#b3)" clip-path="url(#shc)"><path d="M1722,790C1723.7,795 1728.8,810 1732,820C1735.2,830 1739.5,845 1741,850" fill="none" stroke="#f7f7f7" stroke-width="14" stroke-linecap="round" stroke-linejoin="round"/></g>
<g filter="url(#b3)" clip-path="url(#shc)"><path d="M1756,848C1757.3,851 1761.5,859.8 1764,866C1766.5,872.2 1769.8,881.8 1771,885" fill="none" stroke="#b2b2b2" stroke-width="9" stroke-linecap="round" stroke-linejoin="round"/></g>
<g filter="url(#b3)" clip-path="url(#shc)"><path d="M1747,883C1748,885.8 1751,894.2 1753,900C1755,905.8 1758,915 1759,918" fill="none" stroke="#b8b8b8" stroke-width="9" stroke-linecap="round" stroke-linejoin="round"/></g>
<g filter="url(#b4)" clip-path="url(#shc)"><path d="M1705,920C1702.5,925 1695.8,939.2 1690,950C1684.2,960.8 1673.3,979.2 1670,985" fill="none" stroke="#d9d9d9" stroke-width="12" stroke-linecap="round" stroke-linejoin="round"/></g>
<g filter="url(#b3)" clip-path="url(#shc)"><path d="M1714,795C1716.3,800 1723.8,815.8 1728,825C1732.2,834.2 1737.2,845.8 1739,850" fill="none" stroke="#ebebeb" stroke-width="9" stroke-linecap="round" stroke-linejoin="round"/></g>
<g filter="url(#b3)" clip-path="url(#shc)"><path d="M1720,780C1721.7,786.7 1727.5,810 1730,820C1732.5,830 1734.2,836.7 1735,840" fill="none" stroke="#d9d9d9" stroke-width="8" stroke-linecap="round" stroke-linejoin="round"/></g>
<g filter="url(#b3)" clip-path="url(#shc)"><path d="M1720,660C1722.5,665 1732.5,685 1735,690" fill="none" stroke="#cccccc" stroke-width="8" stroke-linecap="round" stroke-linejoin="round"/></g>
<g clip-path="url(#shc)"><g mask="url(#rc45)"><g transform="rotate(32 1658.2 716.2)"><rect x="1058.2" y="116.2" width="1200" height="1200" filter="url(#nc45)"/></g></g></g>
<g filter="url(#b18)" clip-path="url(#shc)" opacity="0.6"><ellipse cx="1560" cy="1215" rx="100" ry="45" fill="#4c4c4c" transform="rotate(0 1560 1215)"/></g>
<g filter="url(#b14)" clip-path="url(#shc)" opacity="0.8"><path d="M1815,880C1807.5,895 1787.5,936.7 1770,970C1752.5,1003.3 1730,1046.7 1710,1080C1690,1113.3 1667.5,1141.7 1650,1170C1632.5,1198.3 1612.5,1236.7 1605,1250" fill="none" stroke="#383838" stroke-width="70" stroke-linecap="round" stroke-linejoin="round"/></g>
<g filter="url(#b2_5)"><path d="M1471.9,640.4 1474.9,644.9 1478.1,650.1 1481.5,655.4 1485.1,660.8 1488.9,665.7 1493,670 1497.5,673.3 1502.4,675.3 1507.6,676 1513.1,675.5 1518.9,674.2 1524.9,672.4 1531,670.2 1537.2,668 1543.3,666 1549.5,664.3 1555.5,662.9 1561.6,661.8 1567.6,661.1 1573.5,660.7 1579.4,660.6 1585.2,660.7 1591,661.2 1596.6,662 1602.2,663 1607.7,664.4 1613.1,666 1618.4,667.8 1623.6,670 1628.7,672.4 1633.7,675 1638.5,677.9 1643.3,681.1 1647.9,684.5 1652.3,688 1656.7,691.8 1660.9,695.8 1665,700 1669,704.4 1672.8,709 1676.5,713.7 1680,718.6 1683.4,723.6 1686.7,728.8 1689.7,734 1692.7,739.5 1695.5,745 1698.1,750.6 1700.6,756.3 1702.9,762.1 1705.1,768 1707.1,774 1708.9,780 1710.5,786 1712,792.1 1713.3,798.3 1714.4,804.4 1715.3,810.6 1716.1,816.7 1716.7,822.9 1717.1,829.1 1717.2,835.2 1717.2,841.3 1717.1,847.3 1716.7,853.3 1716.1,859.3 1715.3,865.2 1714.3,871 1713.1,876.7 1711.7,882.3 1710,887.8 1708.2,893.2 1706.1,898.5 1703.9,903.7 1701.4,908.7 1698.7,913.6 1695.8,918.4 1692.8,923 1689.5,927.6 1686,931.9 1682.4,936.2 1678.5,940.3 1674.5,944.3 1670.4,948.2 1666,951.9 1661.5,955.5 1656.9,959 1652,962.3 1647.1,965.5 1642,968.5 1636.7,971.4 1631.3,974.2 1625.8,976.8 1620.1,979.3 1614.3,981.6 1608.4,983.8 1602.4,985.8 1596.3,987.7 1590.1,989.3 1583.9,990.6 1577.7,991.3 1571.7,991.3 1565.9,990.5 1560.4,988.7 1555.2,985.9 1550.2,982.2 1545.5,978.1 1540.9,973.7 1536.4,969.6 1531.9,965.9 1527.3,963.1 1522.7,961.4 1517.9,961 1513.1,962 1508.4,964.5 1503.7,968.3 1499,972.9 1494.5,977.8 1490,982.6 1485.7,986.7 1481.6,990 1477.6,992.4 1473.7,994 1470,994.8 1466.4,994.8 1463,994 1459.8,992.5 1456.6,990.4 1453.6,987.5 1450.8,984.1 1448.1,980 1445.5,975.4 1443.1,970.2 1440.8,964.5 1438.6,958.3 1436.6,951.6 1434.7,944.5 1433,937 1431.4,929.1 1429.9,920.9 1428.5,912.3 1427.2,903.5 1426.1,894.4 1425.1,885 1424.3,875.5 1423.5,865.8 1422.9,855.9 1422.4,845.9 1422,835.8 1421.8,825.6 1421.6,815.4 1421.6,805.2 1421.7,795.1 1421.9,784.9 1422.2,774.9 1422.6,764.9 1423.1,755.1 1423.8,745.5 1424.5,736 1425.4,726.8 1426.3,717.8 1427.4,709.1 1428.6,700.6 1429.8,692.6 1431.2,684.9 1432.7,677.5 1434.2,670.6 1435.9,664.2 1437.7,658.2 1439.5,652.7 1441.5,647.8 1443.5,643.4 1445.7,639.6 1447.9,636.4 1450.2,633.9 1452.6,632.1 1455.1,630.9 1457.7,630.5 1460.4,630.9 1463.1,632 1465.9,634 1468.9,636.8 1471.9,640.4Z" fill="#ffffff"/></g>
<g filter="url(#b3)"><ellipse cx="1502" cy="640" rx="7" ry="40" fill="#0d0d0d" transform="rotate(-15 1502 640)"/></g>
<g filter="url(#b2)"><path d="M1530.4,664.2 1533.8,663.1 1538.8,663.8 1544.5,665.8 1550,668.6 1554.5,671.7 1557.2,674.6 1557.1,677 1554.3,678.6 1549.7,679.2 1544.1,678.8 1538.5,677.3 1533.7,674.8 1530.5,671.1 1529.3,667.1 1530.4,664.2Z" fill="#333333"/></g>
<g filter="url(#b4)"><ellipse cx="1500" cy="1025" rx="8" ry="18" fill="#2e2e2e" transform="rotate(20 1500 1025)"/></g>
<g filter="url(#b3)"><path d="M1518.7,961.5 1523.4,960.8 1528.8,961.9 1534.6,964.4 1540.5,967.9 1546,971.9 1550.9,976 1554.5,979.9 1556.6,983.6 1556.7,987 1554.6,990.1 1550.9,992.6 1545.8,994.4 1539.9,995.5 1533.6,995.8 1527.5,995 1521.8,993.1 1517.1,990 1513.7,985.6 1511.9,980.2 1511.6,974.4 1512.7,968.9 1515.1,964.4 1518.7,961.5Z" fill="#666666"/></g>
<g filter="url(#b0_7)"><path d="M1790,930C1785.5,937.8 1772.2,960.3 1763,977C1753.8,993.7 1744.7,1012 1735,1030C1725.3,1048 1718.3,1064.2 1705,1085C1691.7,1105.8 1671.7,1130.5 1655,1155C1638.3,1179.5 1613.3,1219.2 1605,1232" fill="none" stroke="#0f0f0f" stroke-width="2" stroke-linecap="round" stroke-linejoin="round"/></g>
<g filter="url(#b0_5)"><path d="M1539,665C1543.5,667.2 1556.8,673 1566,678C1575.2,683 1582.7,685.5 1594,695C1605.3,704.5 1623.6,720 1634,735C1644.4,750 1652.3,769.2 1656.5,785C1660.7,800.8 1660.2,813.3 1659,830C1657.8,846.7 1654.8,868.3 1649,885C1643.2,901.7 1634.8,916.7 1624,930C1613.2,943.3 1597.3,956.2 1584,965C1570.7,973.8 1550.7,979.6 1544,982.5" fill="none" stroke="#050505" stroke-width="3.2" stroke-linecap="round" stroke-linejoin="round"/></g>
<path d="M1586.9,194 1591,198.4 1595,202.9 1599.1,207.4 1603,212 1607,216.5 1610.9,221.1 1614.7,225.8 1618.6,230.4 1622.3,235 1626.1,239.7 1629.8,244.4 1633.5,249.2 1637.1,253.9 1640.7,258.7 1644.3,263.5 1647.9,268.3 1651.4,273.1 1654.8,278 1658.3,282.9 1661.7,287.8 1665,292.7 1668.4,297.6 1671.7,302.6 1674.9,307.6 1678.1,312.6 1681.3,317.6 1684.5,322.6 1687.6,327.7 1690.7,332.8 1693.8,337.9 1696.8,343 1699.8,348.1 1702.8,353.3 1705.7,358.5 1708.6,363.6 1711.5,368.9 1714.4,374.1 1717.2,379.3 1719.9,384.6 1722.7,389.9 1725.4,395.2 1728.1,400.5 1730.8,405.8 1733.4,411.2 1736,416.6 1738.6,422 1741.1,427.4 1743.6,432.8 1746.1,438.2 1748.5,443.7 1751,449.1 1753.4,454.6 1755.7,460.1 1758.1,465.6 1760.4,471.2 1762.7,476.7 1764.9,482.3 1767.1,487.8 1769.4,493.4 1771.5,499 1773.7,504.6 1775.8,510.3 1777.9,515.9 1779.9,521.6 1781.9,527.2 1783.9,532.9 1785.9,538.6 1787.8,544.3 1789.7,550 1791.5,555.8 1793.3,561.5 1795.1,567.2 1796.8,573 1798.5,578.8 1800.1,584.6 1801.7,590.3 1803.2,596.1 1804.7,601.9 1806.2,607.8 1807.6,613.6 1809,619.4 1810.3,625.3 1811.6,631.1 1812.8,637 1813.9,642.8 1815,648.7 1816.1,654.6 1817.1,660.4 1818,666.3 1818.9,672.2 1819.7,678.1 1820.5,684 1821.2,689.9 1821.9,695.8 1822.5,701.7 1823,707.7 1823.4,713.6 1823.8,719.5 1824.2,725.4 1824.4,731.4 1824.6,737.3 1824.8,743.2 1824.8,749.2 1824.8,755.1 1824.7,761 1824.6,767 1824.4,772.9 1824.1,778.8 1823.7,784.8 1823.3,790.7 1822.7,796.7 1822.1,802.6 1821.4,808.5 1820.7,814.5 1819.9,820.4 1818.9,826.3 1818,832.2 1816.9,838.1 1815.7,844 1814.5,849.9 1813.2,855.7 1811.9,861.6 1810.4,867.4 1808.9,873.2 1807.3,879 1805.6,884.7 1803.8,890.5 1802,896.2 1800.1,901.8 1798.1,907.5 1796.1,913.1 1793.9,918.7 1791.7,924.2 1789.4,929.8" fill="none" stroke="#808080" stroke-width="1.6" filter="url(#b0_6)"/>
</g>
<circle cx="1480" cy="821" r="92" fill="#fff"/>
</g>
<rect x="148.5" y="381.3" width="188.5" height="188.5" fill="none" stroke="#fff" stroke-width="3.4"/>
<rect x="212.5" y="443.5" width="63" height="63" fill="none" stroke="#f00" stroke-width="5"/>
<circle cx="264.5" cy="492" r="5.9" fill="#fff" stroke="#000" stroke-width="1.7"/>
<rect x="820.5" y="381.3" width="188.5" height="188.5" fill="none" stroke="#fff" stroke-width="3.4"/>
<rect x="884.5" y="443.5" width="63" height="63" fill="none" stroke="#f00" stroke-width="5"/>
<circle cx="880" cy="504" r="5.9" fill="#fff" stroke="#000" stroke-width="1.7"/>
<rect x="1480" y="381.3" width="188.5" height="188.5" fill="none" stroke="#fff" stroke-width="3.4"/>
<rect x="1544" y="443.5" width="63" height="63" fill="none" stroke="#f00" stroke-width="5"/>
<circle cx="1646" cy="524" r="5.9" fill="#fff" stroke="#000" stroke-width="1.7"/>
<rect x="148.5" y="193" width="356.5" height="1046.5" fill="none" stroke="#000" stroke-width="2"/>
<line x1="143" y1="193.1" x2="148.5" y2="193.1" stroke="#000" stroke-width="2"/>
<text transform="translate(90.97,206.40) scale(1.1391,1)" font-size="40.0" font-weight="bold">30</text>
<line x1="143" y1="402.4" x2="148.5" y2="402.4" stroke="#000" stroke-width="2"/>
<text transform="translate(90.78,415.70) scale(1.1440,1)" font-size="40.0" font-weight="bold">20</text>
<line x1="143" y1="611.7" x2="148.5" y2="611.7" stroke="#000" stroke-width="2"/>
<text transform="translate(88.88,625.00) scale(1.1933,1)" font-size="40.0" font-weight="bold">10</text>
<line x1="143" y1="821" x2="148.5" y2="821" stroke="#000" stroke-width="2"/>
<text transform="translate(112.79,834.30) scale(1.1910,1)" font-size="40.0" font-weight="bold">0</text>
<line x1="143" y1="1030.3" x2="148.5" y2="1030.3" stroke="#000" stroke-width="2"/>
<text transform="translate(64.36,1043.60) scale(1.1494,1)" font-size="40.0" font-weight="bold">−10</text>
<line x1="143" y1="1239.6" x2="148.5" y2="1239.6" stroke="#000" stroke-width="2"/>
<text transform="translate(64.36,1252.90) scale(1.1494,1)" font-size="40.0" font-weight="bold">−20</text>
<line x1="148.5" y1="1239.5" x2="148.5" y2="1245" stroke="#000" stroke-width="2"/>
<text transform="translate(136.21,1278.50) scale(1.1792,1)" font-size="40.0" font-weight="bold">0</text>
<line x1="253.5" y1="1239.5" x2="253.5" y2="1245" stroke="#000" stroke-width="2"/>
<text transform="translate(240.94,1278.50) scale(1.0993,1)" font-size="40.0" font-weight="bold">5</text>
<line x1="358.5" y1="1239.5" x2="358.5" y2="1245" stroke="#000" stroke-width="2"/>
<text transform="translate(330.83,1278.50) scale(1.1791,1)" font-size="40.0" font-weight="bold">10</text>
<line x1="463.5" y1="1239.5" x2="463.5" y2="1245" stroke="#000" stroke-width="2"/>
<text transform="translate(435.96,1278.50) scale(1.1382,1)" font-size="40.0" font-weight="bold">15</text>
<text transform="translate(262.24,1320.30) scale(1.1652,1)" font-size="39.0" font-weight="bold">X</text>
<text transform="translate(313.54,1323.76) scale(0.7474,1.2139)" font-size="39.0">[</text>
<text transform="translate(323.65,1320.60) scale(1.1348,1)" font-size="39.0" font-weight="bold">R</text>
<text transform="translate(356.77,1326.10) scale(1.1090,1)" font-size="28.0" font-weight="bold">E</text>
<text transform="translate(377.32,1323.76) scale(0.7704,1.2139)" font-size="39.0">]</text>
<text transform="translate(46.30,778.48) rotate(-90) scale(1.0067,1)" font-size="39.0" font-weight="bold">Z</text>
<text transform="translate(49.39,734.06) rotate(-90) scale(0.7129,1.2077)" font-size="39.0">[</text>
<text transform="translate(46.30,723.83) rotate(-90) scale(0.9517,1)" font-size="39.0" font-weight="bold">R</text>
<text transform="translate(52.00,691.04) rotate(-90) scale(1.1448,1)" font-size="28.0" font-weight="bold">E</text>
<text transform="translate(49.39,670.28) rotate(-90) scale(0.7704,1.2077)" font-size="39.0">]</text>
<rect x="820.5" y="193" width="356.5" height="1046.5" fill="none" stroke="#000" stroke-width="2"/>
<line x1="815" y1="193.1" x2="820.5" y2="193.1" stroke="#000" stroke-width="2"/>
<text transform="translate(762.97,206.40) scale(1.1391,1)" font-size="40.0" font-weight="bold">30</text>
<line x1="815" y1="402.4" x2="820.5" y2="402.4" stroke="#000" stroke-width="2"/>
<text transform="translate(762.78,415.70) scale(1.1440,1)" font-size="40.0" font-weight="bold">20</text>
<line x1="815" y1="611.7" x2="820.5" y2="611.7" stroke="#000" stroke-width="2"/>
<text transform="translate(760.88,625.00) scale(1.1933,1)" font-size="40.0" font-weight="bold">10</text>
<line x1="815" y1="821" x2="820.5" y2="821" stroke="#000" stroke-width="2"/>
<text transform="translate(784.79,834.30) scale(1.1910,1)" font-size="40.0" font-weight="bold">0</text>
<line x1="815" y1="1030.3" x2="820.5" y2="1030.3" stroke="#000" stroke-width="2"/>
<text transform="translate(736.36,1043.60) scale(1.1494,1)" font-size="40.0" font-weight="bold">−10</text>
<line x1="815" y1="1239.6" x2="820.5" y2="1239.6" stroke="#000" stroke-width="2"/>
<text transform="translate(736.36,1252.90) scale(1.1494,1)" font-size="40.0" font-weight="bold">−20</text>
<line x1="820.5" y1="1239.5" x2="820.5" y2="1245" stroke="#000" stroke-width="2"/>
<text transform="translate(808.21,1278.50) scale(1.1792,1)" font-size="40.0" font-weight="bold">0</text>
<line x1="925.5" y1="1239.5" x2="925.5" y2="1245" stroke="#000" stroke-width="2"/>
<text transform="translate(912.94,1278.50) scale(1.0993,1)" font-size="40.0" font-weight="bold">5</text>
<line x1="1030.5" y1="1239.5" x2="1030.5" y2="1245" stroke="#000" stroke-width="2"/>
<text transform="translate(1002.83,1278.50) scale(1.1791,1)" font-size="40.0" font-weight="bold">10</text>
<line x1="1135.5" y1="1239.5" x2="1135.5" y2="1245" stroke="#000" stroke-width="2"/>
<text transform="translate(1107.96,1278.50) scale(1.1382,1)" font-size="40.0" font-weight="bold">15</text>
<text transform="translate(934.24,1320.30) scale(1.1652,1)" font-size="39.0" font-weight="bold">X</text>
<text transform="translate(985.54,1323.76) scale(0.7474,1.2139)" font-size="39.0">[</text>
<text transform="translate(995.65,1320.60) scale(1.1348,1)" font-size="39.0" font-weight="bold">R</text>
<text transform="translate(1028.77,1326.10) scale(1.1090,1)" font-size="28.0" font-weight="bold">E</text>
<text transform="translate(1049.32,1323.76) scale(0.7704,1.2139)" font-size="39.0">]</text>
<text transform="translate(718.30,778.48) rotate(-90) scale(1.0067,1)" font-size="39.0" font-weight="bold">Z</text>
<text transform="translate(721.39,734.06) rotate(-90) scale(0.7129,1.2077)" font-size="39.0">[</text>
<text transform="translate(718.30,723.83) rotate(-90) scale(0.9517,1)" font-size="39.0" font-weight="bold">R</text>
<text transform="translate(724.00,691.04) rotate(-90) scale(1.1448,1)" font-size="28.0" font-weight="bold">E</text>
<text transform="translate(721.39,670.28) rotate(-90) scale(0.7704,1.2077)" font-size="39.0">]</text>
<rect x="1480" y="193" width="356.5" height="1046.5" fill="none" stroke="#000" stroke-width="2"/>
<line x1="1474.5" y1="193.1" x2="1480" y2="193.1" stroke="#000" stroke-width="2"/>
<text transform="translate(1422.47,206.40) scale(1.1391,1)" font-size="40.0" font-weight="bold">30</text>
<line x1="1474.5" y1="402.4" x2="1480" y2="402.4" stroke="#000" stroke-width="2"/>
<text transform="translate(1422.28,415.70) scale(1.1440,1)" font-size="40.0" font-weight="bold">20</text>
<line x1="1474.5" y1="611.7" x2="1480" y2="611.7" stroke="#000" stroke-width="2"/>
<text transform="translate(1420.38,625.00) scale(1.1933,1)" font-size="40.0" font-weight="bold">10</text>
<line x1="1474.5" y1="821" x2="1480" y2="821" stroke="#000" stroke-width="2"/>
<text transform="translate(1444.29,834.30) scale(1.1910,1)" font-size="40.0" font-weight="bold">0</text>
<line x1="1474.5" y1="1030.3" x2="1480" y2="1030.3" stroke="#000" stroke-width="2"/>
<text transform="translate(1395.86,1043.60) scale(1.1494,1)" font-size="40.0" font-weight="bold">−10</text>
<line x1="1474.5" y1="1239.6" x2="1480" y2="1239.6" stroke="#000" stroke-width="2"/>
<text transform="translate(1395.86,1252.90) scale(1.1494,1)" font-size="40.0" font-weight="bold">−20</text>
<line x1="1480" y1="1239.5" x2="1480" y2="1245" stroke="#000" stroke-width="2"/>
<text transform="translate(1467.71,1278.50) scale(1.1792,1)" font-size="40.0" font-weight="bold">0</text>
<line x1="1585" y1="1239.5" x2="1585" y2="1245" stroke="#000" stroke-width="2"/>
<text transform="translate(1572.44,1278.50) scale(1.0993,1)" font-size="40.0" font-weight="bold">5</text>
<line x1="1690" y1="1239.5" x2="1690" y2="1245" stroke="#000" stroke-width="2"/>
<text transform="translate(1662.33,1278.50) scale(1.1791,1)" font-size="40.0" font-weight="bold">10</text>
<line x1="1795" y1="1239.5" x2="1795" y2="1245" stroke="#000" stroke-width="2"/>
<text transform="translate(1767.46,1278.50) scale(1.1382,1)" font-size="40.0" font-weight="bold">15</text>
<text transform="translate(1593.74,1320.30) scale(1.1652,1)" font-size="39.0" font-weight="bold">X</text>
<text transform="translate(1645.04,1323.76) scale(0.7474,1.2139)" font-size="39.0">[</text>
<text transform="translate(1655.15,1320.60) scale(1.1348,1)" font-size="39.0" font-weight="bold">R</text>
<text transform="translate(1688.27,1326.10) scale(1.1090,1)" font-size="28.0" font-weight="bold">E</text>
<text transform="translate(1708.82,1323.76) scale(0.7704,1.2139)" font-size="39.0">]</text>
<text transform="translate(1377.80,778.48) rotate(-90) scale(1.0067,1)" font-size="39.0" font-weight="bold">Z</text>
<text transform="translate(1380.89,734.06) rotate(-90) scale(0.7129,1.2077)" font-size="39.0">[</text>
<text transform="translate(1377.80,723.83) rotate(-90) scale(0.9517,1)" font-size="39.0" font-weight="bold">R</text>
<text transform="translate(1383.50,691.04) rotate(-90) scale(1.1448,1)" font-size="28.0" font-weight="bold">E</text>
<text transform="translate(1380.89,670.28) rotate(-90) scale(0.7704,1.2077)" font-size="39.0">]</text>
<text transform="translate(34.60,50.80) scale(1.0089,1)" font-size="45.0">(a)</text>
<text transform="translate(97.41,50.80) scale(1.3062,1)" font-size="45.0">t</text>
<text transform="translate(125.60,50.80) scale(1.3763,1)" font-size="45.0">=</text>
<text transform="translate(170.76,50.80) scale(0.9180,1)" font-size="45.0">1000.0</text>
<text transform="translate(294.22,50.80) scale(1.1256,1)" font-size="45.0">s,</text>
<text transform="translate(339.46,50.80) scale(1.3274,1)" font-size="45.0" font-weight="bold">Δ</text>
<text transform="translate(379.88,50.80) scale(1.1852,1)" font-size="45.0" font-weight="bold" font-style="italic">r</text>
<text transform="translate(414.57,50.80) scale(1.6153,1)" font-size="45.0" font-weight="bold">=</text>
<text transform="translate(468.80,50.80) scale(1.1096,1)" font-size="45.0" font-weight="bold">300</text>
<text transform="translate(556.17,50.80) scale(0.9708,1)" font-size="45.0">km</text>
<text transform="translate(705.91,50.80) scale(0.9565,1)" font-size="45.0">(b)</text>
<text transform="translate(768.61,50.80) scale(1.3062,1)" font-size="45.0">t</text>
<text transform="translate(796.80,50.80) scale(1.3763,1)" font-size="45.0">=</text>
<text transform="translate(841.96,50.80) scale(0.9180,1)" font-size="45.0">1000.0</text>
<text transform="translate(965.42,50.80) scale(1.1256,1)" font-size="45.0">s,</text>
<text transform="translate(1010.66,50.80) scale(1.3274,1)" font-size="45.0" font-weight="bold">Δ</text>
<text transform="translate(1051.08,50.80) scale(1.1852,1)" font-size="45.0" font-weight="bold" font-style="italic">r</text>
<text transform="translate(1085.77,50.80) scale(1.6153,1)" font-size="45.0" font-weight="bold">=</text>
<text transform="translate(1140.21,50.80) scale(1.1064,1)" font-size="45.0" font-weight="bold">600</text>
<text transform="translate(1227.37,50.80) scale(0.9708,1)" font-size="45.0">km</text>
<text transform="translate(1367.33,50.80) scale(0.9437,1)" font-size="45.0">(c)</text>
<text transform="translate(1427.91,50.80) scale(1.3062,1)" font-size="45.0">t</text>
<text transform="translate(1456.10,50.80) scale(1.3763,1)" font-size="45.0">=</text>
<text transform="translate(1501.26,50.80) scale(0.9180,1)" font-size="45.0">1000.0</text>
<text transform="translate(1624.72,50.80) scale(1.1256,1)" font-size="45.0">s,</text>
<text transform="translate(1669.96,50.80) scale(1.3274,1)" font-size="45.0" font-weight="bold">Δ</text>
<text transform="translate(1710.38,50.80) scale(1.1852,1)" font-size="45.0" font-weight="bold" font-style="italic">r</text>
<text transform="translate(1745.07,50.80) scale(1.6153,1)" font-size="45.0" font-weight="bold">=</text>
<text transform="translate(1799.86,50.80) scale(1.1010,1)" font-size="45.0" font-weight="bold">900</text>
<text transform="translate(1886.67,50.80) scale(0.9708,1)" font-size="45.0">km</text>
<rect x="1842.5" y="193" width="19" height="1046.5" fill="url(#cbar)" stroke="#000" stroke-width="2"/>
<line x1="1861.5" y1="193" x2="1867.7" y2="193" stroke="#000" stroke-width="2"/>
<text transform="translate(1872.23,211.90) scale(1.1648,1)" font-size="40.0" font-weight="bold">3.0</text>
<text transform="translate(1932.57,212.40) scale(1.3698,1)" font-size="40.0">×</text>
<text transform="translate(1964.76,211.90) scale(1.1366,1)" font-size="40.0" font-weight="bold">10</text>
<rect x="2012.9" y="189" width="18.8" height="2.2" fill="#000"/>
<text transform="translate(2035.10,197.90) scale(1.0408,1)" font-size="29.0" font-weight="bold">8</text>
<line x1="1861.5" y1="367.4" x2="1867.7" y2="367.4" stroke="#000" stroke-width="2"/>
<text transform="translate(1872.05,386.32) scale(1.1599,1)" font-size="40.0" font-weight="bold">2.6</text>
<text transform="translate(1932.57,386.82) scale(1.3698,1)" font-size="40.0">×</text>
<text transform="translate(1964.76,386.32) scale(1.1366,1)" font-size="40.0" font-weight="bold">10</text>
<rect x="2012.9" y="363.4" width="18.8" height="2.2" fill="#000"/>
<text transform="translate(2035.10,372.32) scale(1.0408,1)" font-size="29.0" font-weight="bold">8</text>
<line x1="1861.5" y1="541.8" x2="1867.7" y2="541.8" stroke="#000" stroke-width="2"/>
<text transform="translate(1872.03,560.73) scale(1.1738,1)" font-size="40.0" font-weight="bold">2.2</text>
<text transform="translate(1932.57,561.23) scale(1.3698,1)" font-size="40.0">×</text>
<text transform="translate(1964.76,560.73) scale(1.1366,1)" font-size="40.0" font-weight="bold">10</text>
<rect x="2012.9" y="537.8" width="18.8" height="2.2" fill="#000"/>
<text transform="translate(2035.10,546.73) scale(1.0408,1)" font-size="29.0" font-weight="bold">8</text>
<line x1="1861.5" y1="716.2" x2="1867.7" y2="716.2" stroke="#000" stroke-width="2"/>
<text transform="translate(1870.18,735.15) scale(1.1933,1)" font-size="40.0" font-weight="bold">1.7</text>
<text transform="translate(1932.57,735.65) scale(1.3698,1)" font-size="40.0">×</text>
<text transform="translate(1964.76,735.15) scale(1.1366,1)" font-size="40.0" font-weight="bold">10</text>
<rect x="2012.9" y="712.2" width="18.8" height="2.2" fill="#000"/>
<text transform="translate(2035.10,721.15) scale(1.0408,1)" font-size="29.0" font-weight="bold">8</text>
<line x1="1861.5" y1="890.7" x2="1867.7" y2="890.7" stroke="#000" stroke-width="2"/>
<text transform="translate(1870.15,909.57) scale(1.2038,1)" font-size="40.0" font-weight="bold">1.3</text>
<text transform="translate(1932.57,910.07) scale(1.3698,1)" font-size="40.0">×</text>
<text transform="translate(1964.76,909.57) scale(1.1366,1)" font-size="40.0" font-weight="bold">10</text>
<rect x="2012.9" y="886.7" width="18.8" height="2.2" fill="#000"/>
<text transform="translate(2035.10,895.57) scale(1.0408,1)" font-size="29.0" font-weight="bold">8</text>
<line x1="1861.5" y1="1065.1" x2="1867.7" y2="1065.1" stroke="#000" stroke-width="2"/>
<text transform="translate(1872.75,1083.98) scale(1.1589,1)" font-size="40.0" font-weight="bold">9.2</text>
<text transform="translate(1932.57,1084.48) scale(1.3698,1)" font-size="40.0">×</text>
<text transform="translate(1964.76,1083.98) scale(1.1366,1)" font-size="40.0" font-weight="bold">10</text>
<rect x="2012.9" y="1061.1" width="18.8" height="2.2" fill="#000"/>
<text transform="translate(2035.29,1069.98) scale(1.0337,1)" font-size="29.0" font-weight="bold">9</text>
<line x1="1861.5" y1="1239.5" x2="1867.7" y2="1239.5" stroke="#000" stroke-width="2"/>
<text transform="translate(1872.13,1258.40) scale(1.1668,1)" font-size="40.0" font-weight="bold">5.0</text>
<text transform="translate(1932.57,1258.90) scale(1.3698,1)" font-size="40.0">×</text>
<text transform="translate(1964.76,1258.40) scale(1.1366,1)" font-size="40.0" font-weight="bold">10</text>
<rect x="2012.9" y="1235.5" width="18.8" height="2.2" fill="#000"/>
<text transform="translate(2035.29,1244.40) scale(1.0337,1)" font-size="29.0" font-weight="bold">9</text>
<text transform="translate(1844.25,112.70) scale(1.2402,1)" font-size="40.0" font-weight="bold" font-style="italic">B</text>
<text transform="translate(1895.81,116.72) scale(0.7399,1.1896)" font-size="40.0">[</text>
<text transform="translate(1908.10,112.70) scale(1.0967,1)" font-size="40.0" font-weight="bold">T</text>
<text transform="translate(1936.15,116.72) scale(0.7960,1.1896)" font-size="40.0">]</text>
</svg></body></html>
